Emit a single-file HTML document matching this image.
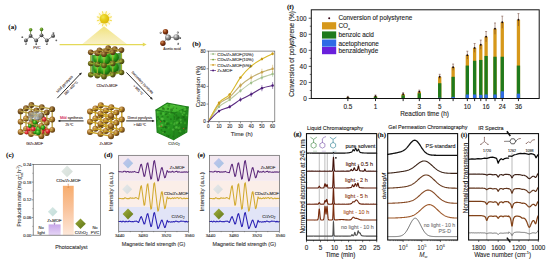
<!DOCTYPE html>
<html><head><meta charset="utf-8"><title>figure</title>
<style>
html,body{margin:0;padding:0;background:#fff;}
body{width:550px;height:264px;overflow:hidden;font-family:"Liberation Sans", sans-serif;}
svg{display:block;font-family:"Liberation Sans", sans-serif;}
</style></head><body>
<svg width="550" height="264" viewBox="0 0 550 264">
<defs>
<radialGradient id="sBrown" cx="0.36" cy="0.32" r="0.75"><stop offset="0" stop-color="#e4bc7c"/><stop offset="0.45" stop-color="#a26e26"/><stop offset="1" stop-color="#54360c"/></radialGradient>
<radialGradient id="sBrownD" cx="0.36" cy="0.32" r="0.75"><stop offset="0" stop-color="#c09858"/><stop offset="0.45" stop-color="#7c5422"/><stop offset="1" stop-color="#46300e"/></radialGradient>
<radialGradient id="sOlive" cx="0.36" cy="0.32" r="0.75"><stop offset="0" stop-color="#a8a040"/><stop offset="0.45" stop-color="#6a6a1c"/><stop offset="1" stop-color="#3a3a0c"/></radialGradient>
<radialGradient id="sGold" cx="0.36" cy="0.32" r="0.75"><stop offset="0" stop-color="#f0d070"/><stop offset="0.45" stop-color="#c89a2a"/><stop offset="1" stop-color="#8a6412"/></radialGradient>
<radialGradient id="sGreen" cx="0.36" cy="0.32" r="0.75"><stop offset="0" stop-color="#86e458"/><stop offset="0.45" stop-color="#30a418"/><stop offset="1" stop-color="#125a08"/></radialGradient>
<radialGradient id="sRed" cx="0.36" cy="0.32" r="0.75"><stop offset="0" stop-color="#ff9090"/><stop offset="0.45" stop-color="#e02a30"/><stop offset="1" stop-color="#8a1014"/></radialGradient>
<radialGradient id="sGray" cx="0.36" cy="0.32" r="0.75"><stop offset="0" stop-color="#f0f0f0"/><stop offset="0.45" stop-color="#8c8c8c"/><stop offset="1" stop-color="#3c3c3c"/></radialGradient>
<radialGradient id="sWhite" cx="0.36" cy="0.32" r="0.75"><stop offset="0" stop-color="#ffffff"/><stop offset="0.45" stop-color="#e4e4e4"/><stop offset="1" stop-color="#9a9a9a"/></radialGradient>
<radialGradient id="sClG" cx="0.36" cy="0.32" r="0.75"><stop offset="0" stop-color="#a8d060"/><stop offset="0.45" stop-color="#5e9424"/><stop offset="1" stop-color="#2e5a10"/></radialGradient>
<radialGradient id="sORed" cx="0.36" cy="0.32" r="0.75"><stop offset="0" stop-color="#d09060"/><stop offset="0.45" stop-color="#8e3c12"/><stop offset="1" stop-color="#4a1a06"/></radialGradient>
<radialGradient id="sSun" cx="0.36" cy="0.32" r="0.75"><stop offset="0" stop-color="#f4e650"/><stop offset="0.45" stop-color="#e6cc18"/><stop offset="1" stop-color="#dcb408"/></radialGradient>
<radialGradient id="sH" cx="0.36" cy="0.32" r="0.75"><stop offset="0" stop-color="#d0d0d0"/><stop offset="0.45" stop-color="#707070"/><stop offset="1" stop-color="#303030"/></radialGradient>
<radialGradient id="sCarb" cx="0.36" cy="0.32" r="0.75"><stop offset="0" stop-color="#c8c8c8"/><stop offset="0.45" stop-color="#5a5a5a"/><stop offset="1" stop-color="#2a2a2a"/></radialGradient>
<linearGradient id="coneG" x1="0" y1="0" x2="0" y2="1"><stop offset="0" stop-color="#f1e27a"/><stop offset="0.5" stop-color="#f5eaa6"/><stop offset="1" stop-color="#f8f0c6"/></linearGradient>
<radialGradient id="sunGlow" cx="0.5" cy="0.5" r="0.5"><stop offset="0" stop-color="#fbe94a" stop-opacity="0.9"/><stop offset="0.55" stop-color="#f8e870" stop-opacity="0.45"/><stop offset="1" stop-color="#fff6b0" stop-opacity="0"/></radialGradient>
<linearGradient id="cubeTop" x1="0" y1="0" x2="1" y2="1"><stop offset="0" stop-color="#58c83c"/><stop offset="1" stop-color="#36a82a"/></linearGradient>
<linearGradient id="cubeL" x1="0" y1="0" x2="1" y2="1"><stop offset="0" stop-color="#36aa2a"/><stop offset="1" stop-color="#1f8a1a"/></linearGradient>
<linearGradient id="cubeR" x1="0" y1="0" x2="1" y2="1"><stop offset="0" stop-color="#2c9c24"/><stop offset="1" stop-color="#187414"/></linearGradient>
<linearGradient id="gpur" x1="0" y1="0" x2="0" y2="1"><stop offset="0" stop-color="#c8a6ea"/><stop offset="1" stop-color="#e6d6f6"/></linearGradient>
<linearGradient id="gora" x1="0" y1="0" x2="0" y2="1"><stop offset="0" stop-color="#f7ac6c"/><stop offset="0.45" stop-color="#f9c29a"/><stop offset="1" stop-color="#fde8da"/></linearGradient>
<linearGradient id="dg20" x1="0" y1="0" x2="1" y2="1"><stop offset="0" stop-color="#e4ebe7"/><stop offset="1" stop-color="#d4ded8"/></linearGradient>
<linearGradient id="dg21" x1="0" y1="0" x2="1" y2="1"><stop offset="0" stop-color="#d8e9e6"/><stop offset="1" stop-color="#c2dcd8"/></linearGradient>
<linearGradient id="dg22" x1="0" y1="0" x2="1" y2="1"><stop offset="0" stop-color="#9aa83a"/><stop offset="1" stop-color="#5c7414"/></linearGradient>
<linearGradient id="dg23" x1="0" y1="0" x2="1" y2="1"><stop offset="0" stop-color="#c2c4ee"/><stop offset="1" stop-color="#a4c4e2"/></linearGradient>
<linearGradient id="dg24" x1="0" y1="0" x2="1" y2="1"><stop offset="0" stop-color="#e6e8ea"/><stop offset="1" stop-color="#d6dcdc"/></linearGradient>
<linearGradient id="dg25" x1="0" y1="0" x2="1" y2="1"><stop offset="0" stop-color="#a4b040"/><stop offset="1" stop-color="#5f7616"/></linearGradient>
<linearGradient id="dg26" x1="0" y1="0" x2="1" y2="1"><stop offset="0" stop-color="#c2c4ee"/><stop offset="1" stop-color="#a4c4e2"/></linearGradient>
<linearGradient id="dg27" x1="0" y1="0" x2="1" y2="1"><stop offset="0" stop-color="#e6e8ea"/><stop offset="1" stop-color="#d6dcdc"/></linearGradient>
<linearGradient id="dg28" x1="0" y1="0" x2="1" y2="1"><stop offset="0" stop-color="#a4b040"/><stop offset="1" stop-color="#5f7616"/></linearGradient>
</defs>
<rect x="0" y="0" width="550" height="264" fill="#ffffff"/>
<path d="M104.0,26.2 L127.4,44.4 L81.8,44.4 Z" fill="url(#coneG)"/>
<line x1="59.60" y1="44.60" x2="143.60" y2="44.60" stroke="#e4d958" stroke-width="1.4" />
<path d="M146.6,44.6 L142.8,42.6 L142.8,46.6 Z" fill="#e4d958"/>
<circle cx="104.4" cy="18.8" r="8.6" fill="url(#sunGlow)"/>
<line x1="109.43" y1="20.14" x2="111.94" y2="20.81" stroke="#f4d83a" stroke-width="0.9" />
<line x1="108.08" y1="22.47" x2="109.93" y2="24.31" stroke="#f4d83a" stroke-width="0.9" />
<line x1="105.75" y1="23.82" x2="106.43" y2="26.33" stroke="#f4d83a" stroke-width="0.9" />
<line x1="103.06" y1="23.83" x2="102.39" y2="26.34" stroke="#f4d83a" stroke-width="0.9" />
<line x1="100.73" y1="22.48" x2="98.89" y2="24.33" stroke="#f4d83a" stroke-width="0.9" />
<line x1="99.38" y1="20.15" x2="96.87" y2="20.83" stroke="#f4d83a" stroke-width="0.9" />
<line x1="99.37" y1="17.46" x2="96.86" y2="16.79" stroke="#f4d83a" stroke-width="0.9" />
<line x1="100.72" y1="15.13" x2="98.87" y2="13.29" stroke="#f4d83a" stroke-width="0.9" />
<line x1="103.05" y1="13.78" x2="102.37" y2="11.27" stroke="#f4d83a" stroke-width="0.9" />
<line x1="105.74" y1="13.77" x2="106.41" y2="11.26" stroke="#f4d83a" stroke-width="0.9" />
<line x1="108.07" y1="15.12" x2="109.91" y2="13.27" stroke="#f4d83a" stroke-width="0.9" />
<line x1="109.42" y1="17.45" x2="111.93" y2="16.77" stroke="#f4d83a" stroke-width="0.9" />
<circle cx="104.40" cy="18.80" r="4.80" fill="url(#sSun)"/>
<line x1="25.90" y1="40.50" x2="30.60" y2="35.90" stroke="#666" stroke-width="0.8" />
<line x1="30.60" y1="35.90" x2="36.20" y2="40.50" stroke="#666" stroke-width="0.8" />
<line x1="36.20" y1="40.50" x2="41.50" y2="35.30" stroke="#666" stroke-width="0.8" />
<line x1="41.50" y1="35.30" x2="46.80" y2="40.50" stroke="#666" stroke-width="0.8" />
<line x1="46.80" y1="40.50" x2="53.10" y2="35.90" stroke="#666" stroke-width="0.8" />
<line x1="30.60" y1="35.90" x2="30.60" y2="30.00" stroke="#667a3a" stroke-width="0.8" />
<line x1="41.50" y1="35.30" x2="41.50" y2="29.60" stroke="#667a3a" stroke-width="0.8" />
<circle cx="22.30" cy="37.20" r="0.90" fill="url(#sH)"/>
<circle cx="25.90" cy="43.80" r="0.90" fill="url(#sH)"/>
<circle cx="36.20" cy="44.00" r="0.90" fill="url(#sH)"/>
<circle cx="46.80" cy="44.00" r="0.90" fill="url(#sH)"/>
<circle cx="53.40" cy="33.00" r="0.90" fill="url(#sH)"/>
<circle cx="56.30" cy="40.30" r="0.90" fill="url(#sH)"/>
<circle cx="25.90" cy="40.50" r="1.90" fill="url(#sCarb)"/>
<circle cx="30.60" cy="35.90" r="1.90" fill="url(#sCarb)"/>
<circle cx="36.20" cy="40.50" r="1.90" fill="url(#sCarb)"/>
<circle cx="41.50" cy="35.30" r="1.90" fill="url(#sCarb)"/>
<circle cx="46.80" cy="40.50" r="1.90" fill="url(#sCarb)"/>
<circle cx="53.10" cy="35.90" r="1.90" fill="url(#sCarb)"/>
<circle cx="30.60" cy="29.80" r="1.80" fill="url(#sClG)"/>
<circle cx="41.50" cy="29.40" r="1.80" fill="url(#sClG)"/>
<text x="36.90" y="48.80" font-size="3.6" text-anchor="middle" fill="#5a4040" stroke="#5a4040" stroke-width="0.12" >PVC</text>
<line x1="165.50" y1="31.70" x2="167.80" y2="37.50" stroke="#666" stroke-width="0.8" />
<line x1="162.90" y1="43.20" x2="167.80" y2="37.50" stroke="#666" stroke-width="0.8" />
<line x1="167.80" y1="37.50" x2="176.10" y2="37.20" stroke="#666" stroke-width="0.8" />
<circle cx="160.60" cy="32.80" r="1.00" fill="url(#sH)"/>
<circle cx="177.80" cy="32.60" r="1.00" fill="url(#sH)"/>
<circle cx="180.10" cy="37.90" r="1.00" fill="url(#sH)"/>
<circle cx="178.10" cy="43.80" r="1.00" fill="url(#sH)"/>
<circle cx="165.50" cy="31.70" r="2.70" fill="url(#sORed)"/>
<circle cx="162.90" cy="43.20" r="2.70" fill="url(#sORed)"/>
<circle cx="168.00" cy="37.60" r="3.00" fill="url(#sGray)"/>
<circle cx="176.40" cy="37.20" r="3.00" fill="url(#sGray)"/>
<text x="172.00" y="49.60" font-size="3.6" text-anchor="middle" fill="#4a3a3a" stroke="#4a3a3a" stroke-width="0.12" >Acetic acid</text>
<path d="M104,76.7 L91.3,74.7 L91.3,54.4 L104,56.6 L120.9,52.6 L120.9,72.5 Z" fill="#1f7a14" opacity="0.8"/>
<line x1="108.20" y1="70.50" x2="108.20" y2="59.30" stroke="#9ab432" stroke-width="1.2" />
<line x1="108.20" y1="59.30" x2="108.20" y2="48.10" stroke="#9ab432" stroke-width="1.2" />
<circle cx="108.20" cy="48.10" r="2.80" fill="url(#sBrownD)"/>
<circle cx="108.20" cy="59.30" r="2.80" fill="url(#sOlive)"/>
<circle cx="108.20" cy="70.50" r="2.80" fill="url(#sOlive)"/>
<line x1="99.45" y1="72.60" x2="108.20" y2="70.50" stroke="#9ab432" stroke-width="1.2" />
<line x1="99.45" y1="61.40" x2="108.20" y2="59.30" stroke="#9ab432" stroke-width="1.2" />
<line x1="99.45" y1="50.20" x2="108.20" y2="48.10" stroke="#a88a30" stroke-width="1.2" />
<line x1="114.85" y1="71.50" x2="108.20" y2="70.50" stroke="#9ab432" stroke-width="1.2" />
<line x1="114.85" y1="60.30" x2="108.20" y2="59.30" stroke="#9ab432" stroke-width="1.2" />
<line x1="114.85" y1="49.10" x2="108.20" y2="48.10" stroke="#a88a30" stroke-width="1.2" />
<circle cx="107.15" cy="66.45" r="4.80" fill="url(#sGreen)"/>
<circle cx="107.15" cy="56.37" r="4.80" fill="url(#sGreen)"/>
<line x1="99.45" y1="72.60" x2="99.45" y2="61.40" stroke="#9ab432" stroke-width="1.2" />
<line x1="99.45" y1="61.40" x2="99.45" y2="50.20" stroke="#9ab432" stroke-width="1.2" />
<line x1="114.85" y1="71.50" x2="114.85" y2="60.30" stroke="#9ab432" stroke-width="1.2" />
<line x1="114.85" y1="60.30" x2="114.85" y2="49.10" stroke="#9ab432" stroke-width="1.2" />
<circle cx="99.45" cy="50.20" r="2.80" fill="url(#sBrownD)"/>
<circle cx="114.85" cy="49.10" r="2.80" fill="url(#sBrownD)"/>
<circle cx="99.45" cy="61.40" r="2.80" fill="url(#sOlive)"/>
<circle cx="114.85" cy="60.30" r="2.80" fill="url(#sOlive)"/>
<circle cx="99.45" cy="72.60" r="2.80" fill="url(#sOlive)"/>
<circle cx="114.85" cy="71.50" r="2.80" fill="url(#sOlive)"/>
<line x1="90.70" y1="74.70" x2="99.45" y2="72.60" stroke="#9ab432" stroke-width="1.2" />
<line x1="90.70" y1="63.50" x2="99.45" y2="61.40" stroke="#9ab432" stroke-width="1.2" />
<line x1="90.70" y1="52.30" x2="99.45" y2="50.20" stroke="#a88a30" stroke-width="1.2" />
<line x1="106.10" y1="73.60" x2="114.85" y2="71.50" stroke="#9ab432" stroke-width="1.2" />
<line x1="106.10" y1="73.60" x2="99.45" y2="72.60" stroke="#9ab432" stroke-width="1.2" />
<line x1="106.10" y1="62.40" x2="114.85" y2="60.30" stroke="#9ab432" stroke-width="1.2" />
<line x1="106.10" y1="62.40" x2="99.45" y2="61.40" stroke="#9ab432" stroke-width="1.2" />
<line x1="106.10" y1="51.20" x2="114.85" y2="49.10" stroke="#a88a30" stroke-width="1.2" />
<line x1="106.10" y1="51.20" x2="99.45" y2="50.20" stroke="#a88a30" stroke-width="1.2" />
<line x1="121.50" y1="72.50" x2="114.85" y2="71.50" stroke="#9ab432" stroke-width="1.2" />
<line x1="121.50" y1="61.30" x2="114.85" y2="60.30" stroke="#9ab432" stroke-width="1.2" />
<line x1="121.50" y1="50.10" x2="114.85" y2="49.10" stroke="#a88a30" stroke-width="1.2" />
<circle cx="113.80" cy="67.45" r="5.00" fill="url(#sGreen)"/>
<circle cx="98.40" cy="68.55" r="5.20" fill="url(#sGreen)"/>
<circle cx="113.80" cy="57.37" r="5.00" fill="url(#sGreen)"/>
<circle cx="98.40" cy="58.47" r="5.20" fill="url(#sGreen)"/>
<line x1="90.70" y1="74.70" x2="90.70" y2="63.50" stroke="#9ab432" stroke-width="1.2" />
<line x1="90.70" y1="63.50" x2="90.70" y2="52.30" stroke="#9ab432" stroke-width="1.2" />
<line x1="106.10" y1="73.60" x2="106.10" y2="62.40" stroke="#9ab432" stroke-width="1.2" />
<line x1="106.10" y1="62.40" x2="106.10" y2="51.20" stroke="#9ab432" stroke-width="1.2" />
<line x1="121.50" y1="72.50" x2="121.50" y2="61.30" stroke="#9ab432" stroke-width="1.2" />
<line x1="121.50" y1="61.30" x2="121.50" y2="50.10" stroke="#9ab432" stroke-width="1.2" />
<circle cx="90.70" cy="52.30" r="2.80" fill="url(#sBrownD)"/>
<circle cx="106.10" cy="51.20" r="2.80" fill="url(#sBrownD)"/>
<circle cx="121.50" cy="50.10" r="2.80" fill="url(#sBrownD)"/>
<circle cx="90.70" cy="63.50" r="2.80" fill="url(#sOlive)"/>
<circle cx="106.10" cy="62.40" r="2.80" fill="url(#sOlive)"/>
<circle cx="121.50" cy="61.30" r="2.80" fill="url(#sOlive)"/>
<circle cx="90.70" cy="74.70" r="2.80" fill="url(#sOlive)"/>
<circle cx="106.10" cy="73.60" r="2.80" fill="url(#sOlive)"/>
<circle cx="121.50" cy="72.50" r="2.80" fill="url(#sOlive)"/>
<line x1="97.35" y1="75.70" x2="106.10" y2="73.60" stroke="#9ab432" stroke-width="1.2" />
<line x1="97.35" y1="75.70" x2="90.70" y2="74.70" stroke="#9ab432" stroke-width="1.2" />
<line x1="97.35" y1="64.50" x2="106.10" y2="62.40" stroke="#9ab432" stroke-width="1.2" />
<line x1="97.35" y1="64.50" x2="90.70" y2="63.50" stroke="#9ab432" stroke-width="1.2" />
<line x1="97.35" y1="53.30" x2="106.10" y2="51.20" stroke="#a88a30" stroke-width="1.2" />
<line x1="97.35" y1="53.30" x2="90.70" y2="52.30" stroke="#a88a30" stroke-width="1.2" />
<line x1="112.75" y1="74.60" x2="121.50" y2="72.50" stroke="#9ab432" stroke-width="1.2" />
<line x1="112.75" y1="74.60" x2="106.10" y2="73.60" stroke="#9ab432" stroke-width="1.2" />
<line x1="112.75" y1="63.40" x2="121.50" y2="61.30" stroke="#9ab432" stroke-width="1.2" />
<line x1="112.75" y1="63.40" x2="106.10" y2="62.40" stroke="#9ab432" stroke-width="1.2" />
<line x1="112.75" y1="52.20" x2="121.50" y2="50.10" stroke="#a88a30" stroke-width="1.2" />
<line x1="112.75" y1="52.20" x2="106.10" y2="51.20" stroke="#a88a30" stroke-width="1.2" />
<circle cx="105.05" cy="69.55" r="5.40" fill="url(#sGreen)"/>
<circle cx="105.05" cy="59.47" r="5.40" fill="url(#sGreen)"/>
<line x1="97.35" y1="75.70" x2="97.35" y2="64.50" stroke="#9ab432" stroke-width="1.2" />
<line x1="97.35" y1="64.50" x2="97.35" y2="53.30" stroke="#9ab432" stroke-width="1.2" />
<line x1="112.75" y1="74.60" x2="112.75" y2="63.40" stroke="#9ab432" stroke-width="1.2" />
<line x1="112.75" y1="63.40" x2="112.75" y2="52.20" stroke="#9ab432" stroke-width="1.2" />
<circle cx="97.35" cy="53.30" r="2.80" fill="url(#sBrownD)"/>
<circle cx="112.75" cy="52.20" r="2.80" fill="url(#sBrownD)"/>
<circle cx="97.35" cy="64.50" r="2.80" fill="url(#sOlive)"/>
<circle cx="112.75" cy="63.40" r="2.80" fill="url(#sOlive)"/>
<circle cx="97.35" cy="75.70" r="2.80" fill="url(#sOlive)"/>
<circle cx="112.75" cy="74.60" r="2.80" fill="url(#sOlive)"/>
<line x1="104.00" y1="76.70" x2="112.75" y2="74.60" stroke="#9ab432" stroke-width="1.2" />
<line x1="104.00" y1="76.70" x2="97.35" y2="75.70" stroke="#9ab432" stroke-width="1.2" />
<line x1="104.00" y1="65.50" x2="112.75" y2="63.40" stroke="#9ab432" stroke-width="1.2" />
<line x1="104.00" y1="65.50" x2="97.35" y2="64.50" stroke="#9ab432" stroke-width="1.2" />
<line x1="104.00" y1="54.30" x2="112.75" y2="52.20" stroke="#a88a30" stroke-width="1.2" />
<line x1="104.00" y1="54.30" x2="97.35" y2="53.30" stroke="#a88a30" stroke-width="1.2" />
<line x1="104.00" y1="76.70" x2="104.00" y2="65.50" stroke="#9ab432" stroke-width="1.2" />
<line x1="104.00" y1="65.50" x2="104.00" y2="54.30" stroke="#9ab432" stroke-width="1.2" />
<circle cx="104.00" cy="54.30" r="2.80" fill="url(#sBrownD)"/>
<circle cx="104.00" cy="65.50" r="2.80" fill="url(#sOlive)"/>
<circle cx="104.00" cy="76.70" r="2.80" fill="url(#sOlive)"/>
<text x="107.00" y="86.80" font-size="3.7" text-anchor="middle" fill="#4a3030" stroke="#4a3030" stroke-width="0.12" >CDs/Zr-MOF</text>
<line x1="31.40" y1="125.60" x2="31.40" y2="115.30" stroke="#b8a040" stroke-width="1.3" />
<line x1="31.40" y1="115.30" x2="31.40" y2="105.00" stroke="#b8a040" stroke-width="1.3" />
<circle cx="31.40" cy="105.00" r="2.90" fill="url(#sBrownD)"/>
<circle cx="31.40" cy="115.30" r="2.90" fill="url(#sBrown)"/>
<circle cx="31.40" cy="125.60" r="2.90" fill="url(#sBrown)"/>
<line x1="26.00" y1="128.80" x2="31.40" y2="125.60" stroke="#b8a040" stroke-width="1.3" />
<line x1="26.00" y1="118.50" x2="31.40" y2="115.30" stroke="#b8a040" stroke-width="1.3" />
<line x1="26.00" y1="108.20" x2="31.40" y2="105.00" stroke="#b8a040" stroke-width="1.3" />
<line x1="41.80" y1="127.70" x2="31.40" y2="125.60" stroke="#b8a040" stroke-width="1.3" />
<line x1="41.80" y1="117.40" x2="31.40" y2="115.30" stroke="#b8a040" stroke-width="1.3" />
<line x1="41.80" y1="107.10" x2="31.40" y2="105.00" stroke="#b8a040" stroke-width="1.3" />
<line x1="26.00" y1="128.80" x2="26.00" y2="118.50" stroke="#b8a040" stroke-width="1.3" />
<line x1="26.00" y1="118.50" x2="26.00" y2="108.20" stroke="#b8a040" stroke-width="1.3" />
<line x1="41.80" y1="127.70" x2="41.80" y2="117.40" stroke="#b8a040" stroke-width="1.3" />
<line x1="41.80" y1="117.40" x2="41.80" y2="107.10" stroke="#b8a040" stroke-width="1.3" />
<circle cx="26.00" cy="108.20" r="2.90" fill="url(#sBrownD)"/>
<circle cx="41.80" cy="107.10" r="2.90" fill="url(#sBrownD)"/>
<circle cx="26.00" cy="118.50" r="2.90" fill="url(#sBrown)"/>
<circle cx="41.80" cy="117.40" r="2.90" fill="url(#sBrown)"/>
<circle cx="26.00" cy="128.80" r="2.90" fill="url(#sBrown)"/>
<circle cx="41.80" cy="127.70" r="2.90" fill="url(#sBrown)"/>
<circle cx="40.68" cy="125.58" r="2.20" fill="url(#sRed)"/>
<line x1="20.60" y1="132.00" x2="26.00" y2="128.80" stroke="#b8a040" stroke-width="1.3" />
<line x1="20.60" y1="121.70" x2="26.00" y2="118.50" stroke="#b8a040" stroke-width="1.3" />
<line x1="20.60" y1="111.40" x2="26.00" y2="108.20" stroke="#b8a040" stroke-width="1.3" />
<line x1="36.40" y1="130.90" x2="41.80" y2="127.70" stroke="#b8a040" stroke-width="1.3" />
<line x1="36.40" y1="130.90" x2="26.00" y2="128.80" stroke="#b8a040" stroke-width="1.3" />
<line x1="36.40" y1="120.60" x2="41.80" y2="117.40" stroke="#b8a040" stroke-width="1.3" />
<line x1="36.40" y1="120.60" x2="26.00" y2="118.50" stroke="#b8a040" stroke-width="1.3" />
<line x1="36.40" y1="110.30" x2="41.80" y2="107.10" stroke="#b8a040" stroke-width="1.3" />
<line x1="36.40" y1="110.30" x2="26.00" y2="108.20" stroke="#b8a040" stroke-width="1.3" />
<line x1="52.20" y1="129.80" x2="41.80" y2="127.70" stroke="#b8a040" stroke-width="1.3" />
<line x1="52.20" y1="119.50" x2="41.80" y2="117.40" stroke="#b8a040" stroke-width="1.3" />
<line x1="52.20" y1="109.20" x2="41.80" y2="107.10" stroke="#b8a040" stroke-width="1.3" />
<circle cx="35.40" cy="124.69" r="2.80" fill="url(#sGreen)"/>
<circle cx="32.24" cy="120.79" r="2.00" fill="url(#sGreen)"/>
<line x1="20.60" y1="132.00" x2="20.60" y2="121.70" stroke="#b8a040" stroke-width="1.3" />
<line x1="20.60" y1="121.70" x2="20.60" y2="111.40" stroke="#b8a040" stroke-width="1.3" />
<line x1="36.40" y1="130.90" x2="36.40" y2="120.60" stroke="#b8a040" stroke-width="1.3" />
<line x1="36.40" y1="120.60" x2="36.40" y2="110.30" stroke="#b8a040" stroke-width="1.3" />
<line x1="52.20" y1="129.80" x2="52.20" y2="119.50" stroke="#b8a040" stroke-width="1.3" />
<line x1="52.20" y1="119.50" x2="52.20" y2="109.20" stroke="#b8a040" stroke-width="1.3" />
<circle cx="20.60" cy="111.40" r="2.90" fill="url(#sBrownD)"/>
<circle cx="36.40" cy="110.30" r="2.90" fill="url(#sBrownD)"/>
<circle cx="52.20" cy="109.20" r="2.90" fill="url(#sBrownD)"/>
<circle cx="20.60" cy="121.70" r="2.90" fill="url(#sBrown)"/>
<circle cx="36.40" cy="120.60" r="2.90" fill="url(#sBrown)"/>
<circle cx="52.20" cy="119.50" r="2.90" fill="url(#sBrown)"/>
<circle cx="20.60" cy="132.00" r="2.90" fill="url(#sBrown)"/>
<circle cx="36.40" cy="130.90" r="2.90" fill="url(#sBrown)"/>
<circle cx="52.20" cy="129.80" r="2.90" fill="url(#sBrown)"/>
<circle cx="42.18" cy="119.45" r="2.00" fill="url(#sGray)"/>
<circle cx="30.58" cy="119.51" r="2.20" fill="url(#sGray)"/>
<circle cx="44.80" cy="128.82" r="2.60" fill="url(#sRed)"/>
<circle cx="29.00" cy="128.89" r="2.60" fill="url(#sRed)"/>
<circle cx="37.40" cy="118.57" r="2.40" fill="url(#sGray)"/>
<line x1="31.00" y1="134.10" x2="36.40" y2="130.90" stroke="#b8a040" stroke-width="1.3" />
<line x1="31.00" y1="134.10" x2="20.60" y2="132.00" stroke="#b8a040" stroke-width="1.3" />
<line x1="31.00" y1="123.80" x2="36.40" y2="120.60" stroke="#b8a040" stroke-width="1.3" />
<line x1="31.00" y1="123.80" x2="20.60" y2="121.70" stroke="#b8a040" stroke-width="1.3" />
<line x1="31.00" y1="113.50" x2="36.40" y2="110.30" stroke="#b8a040" stroke-width="1.3" />
<line x1="31.00" y1="113.50" x2="20.60" y2="111.40" stroke="#b8a040" stroke-width="1.3" />
<line x1="46.80" y1="133.00" x2="52.20" y2="129.80" stroke="#b8a040" stroke-width="1.3" />
<line x1="46.80" y1="133.00" x2="36.40" y2="130.90" stroke="#b8a040" stroke-width="1.3" />
<line x1="46.80" y1="122.70" x2="52.20" y2="119.50" stroke="#b8a040" stroke-width="1.3" />
<line x1="46.80" y1="122.70" x2="36.40" y2="120.60" stroke="#b8a040" stroke-width="1.3" />
<line x1="46.80" y1="112.40" x2="52.20" y2="109.20" stroke="#b8a040" stroke-width="1.3" />
<line x1="46.80" y1="112.40" x2="36.40" y2="110.30" stroke="#b8a040" stroke-width="1.3" />
<circle cx="34.70" cy="132.01" r="2.40" fill="url(#sGreen)"/>
<circle cx="38.90" cy="129.43" r="3.00" fill="url(#sGreen)"/>
<circle cx="42.06" cy="132.30" r="2.20" fill="url(#sRed)"/>
<line x1="31.00" y1="134.10" x2="31.00" y2="123.80" stroke="#b8a040" stroke-width="1.3" />
<line x1="31.00" y1="123.80" x2="31.00" y2="113.50" stroke="#b8a040" stroke-width="1.3" />
<line x1="46.80" y1="133.00" x2="46.80" y2="122.70" stroke="#b8a040" stroke-width="1.3" />
<line x1="46.80" y1="122.70" x2="46.80" y2="112.40" stroke="#b8a040" stroke-width="1.3" />
<circle cx="31.00" cy="113.50" r="2.90" fill="url(#sBrownD)"/>
<circle cx="46.80" cy="112.40" r="2.90" fill="url(#sBrownD)"/>
<circle cx="31.00" cy="123.80" r="2.90" fill="url(#sBrown)"/>
<circle cx="46.80" cy="122.70" r="2.90" fill="url(#sBrown)"/>
<circle cx="31.00" cy="134.10" r="2.90" fill="url(#sBrown)"/>
<circle cx="46.80" cy="133.00" r="2.90" fill="url(#sBrown)"/>
<line x1="41.40" y1="136.20" x2="46.80" y2="133.00" stroke="#b8a040" stroke-width="1.3" />
<line x1="41.40" y1="136.20" x2="31.00" y2="134.10" stroke="#b8a040" stroke-width="1.3" />
<line x1="41.40" y1="125.90" x2="46.80" y2="122.70" stroke="#b8a040" stroke-width="1.3" />
<line x1="41.40" y1="125.90" x2="31.00" y2="123.80" stroke="#b8a040" stroke-width="1.3" />
<line x1="41.40" y1="115.60" x2="46.80" y2="112.40" stroke="#b8a040" stroke-width="1.3" />
<line x1="41.40" y1="115.60" x2="31.00" y2="113.50" stroke="#b8a040" stroke-width="1.3" />
<line x1="41.40" y1="136.20" x2="41.40" y2="125.90" stroke="#b8a040" stroke-width="1.3" />
<line x1="41.40" y1="125.90" x2="41.40" y2="115.60" stroke="#b8a040" stroke-width="1.3" />
<circle cx="41.40" cy="115.60" r="2.90" fill="url(#sBrownD)"/>
<circle cx="41.40" cy="125.90" r="2.90" fill="url(#sBrown)"/>
<circle cx="41.40" cy="136.20" r="2.90" fill="url(#sBrown)"/>
<circle cx="44.20" cy="119.40" r="2.30" fill="url(#sRed)"/>
<circle cx="33.20" cy="129.20" r="2.40" fill="url(#sRed)"/>
<circle cx="47.80" cy="131.40" r="2.30" fill="url(#sRed)"/>
<circle cx="26.60" cy="132.60" r="2.00" fill="url(#sRed)"/>
<circle cx="38.20" cy="132.60" r="2.60" fill="url(#sGreen)"/>
<circle cx="35.00" cy="122.40" r="2.20" fill="url(#sGreen)"/>
<circle cx="43.00" cy="127.60" r="2.30" fill="url(#sGreen)"/>
<circle cx="29.80" cy="126.00" r="1.90" fill="url(#sGreen)"/>
<ellipse cx="35.5" cy="115.4" rx="7.5" ry="4.2" fill="#c8d0d4" opacity="0.42"/>
<line x1="29.50" y1="112.20" x2="28.50" y2="118.80" stroke="#8a9498" stroke-width="0.4" />
<line x1="32.50" y1="112.20" x2="31.50" y2="118.80" stroke="#8a9498" stroke-width="0.4" />
<line x1="35.50" y1="112.20" x2="34.50" y2="118.80" stroke="#8a9498" stroke-width="0.4" />
<line x1="38.50" y1="112.20" x2="37.50" y2="118.80" stroke="#8a9498" stroke-width="0.4" />
<line x1="41.50" y1="112.20" x2="40.50" y2="118.80" stroke="#8a9498" stroke-width="0.4" />
<line x1="28.60" y1="113.40" x2="42.60" y2="113.00" stroke="#8a9498" stroke-width="0.4" />
<line x1="28.60" y1="115.60" x2="42.60" y2="115.20" stroke="#8a9498" stroke-width="0.4" />
<line x1="28.60" y1="117.80" x2="42.60" y2="117.40" stroke="#8a9498" stroke-width="0.4" />
<text x="34.60" y="145.20" font-size="3.7" text-anchor="middle" fill="#4a3030" stroke="#4a3030" stroke-width="0.12" >G/Zr-MOF</text>
<line x1="100.80" y1="125.60" x2="100.80" y2="115.40" stroke="#c9a226" stroke-width="1.4" />
<line x1="100.80" y1="115.40" x2="100.80" y2="105.20" stroke="#c9a226" stroke-width="1.4" />
<circle cx="100.80" cy="105.20" r="3.00" fill="url(#sBrown)"/>
<circle cx="100.80" cy="115.40" r="3.00" fill="url(#sBrown)"/>
<circle cx="100.80" cy="125.60" r="3.00" fill="url(#sBrown)"/>
<line x1="95.40" y1="128.80" x2="100.80" y2="125.60" stroke="#c9a226" stroke-width="1.4" />
<line x1="95.40" y1="118.60" x2="100.80" y2="115.40" stroke="#c9a226" stroke-width="1.4" />
<line x1="95.40" y1="108.40" x2="100.80" y2="105.20" stroke="#c9a226" stroke-width="1.4" />
<line x1="111.30" y1="127.70" x2="100.80" y2="125.60" stroke="#c9a226" stroke-width="1.4" />
<line x1="111.30" y1="117.50" x2="100.80" y2="115.40" stroke="#c9a226" stroke-width="1.4" />
<line x1="111.30" y1="107.30" x2="100.80" y2="105.20" stroke="#c9a226" stroke-width="1.4" />
<line x1="95.40" y1="128.80" x2="95.40" y2="118.60" stroke="#c9a226" stroke-width="1.4" />
<line x1="95.40" y1="118.60" x2="95.40" y2="108.40" stroke="#c9a226" stroke-width="1.4" />
<line x1="111.30" y1="127.70" x2="111.30" y2="117.50" stroke="#c9a226" stroke-width="1.4" />
<line x1="111.30" y1="117.50" x2="111.30" y2="107.30" stroke="#c9a226" stroke-width="1.4" />
<circle cx="95.40" cy="108.40" r="3.00" fill="url(#sBrown)"/>
<circle cx="111.30" cy="107.30" r="3.00" fill="url(#sBrown)"/>
<circle cx="95.40" cy="118.60" r="3.00" fill="url(#sBrown)"/>
<circle cx="111.30" cy="117.50" r="3.00" fill="url(#sBrown)"/>
<circle cx="95.40" cy="128.80" r="3.00" fill="url(#sBrown)"/>
<circle cx="111.30" cy="127.70" r="3.00" fill="url(#sBrown)"/>
<line x1="90.00" y1="132.00" x2="95.40" y2="128.80" stroke="#c9a226" stroke-width="1.4" />
<line x1="90.00" y1="121.80" x2="95.40" y2="118.60" stroke="#c9a226" stroke-width="1.4" />
<line x1="90.00" y1="111.60" x2="95.40" y2="108.40" stroke="#c9a226" stroke-width="1.4" />
<line x1="105.90" y1="130.90" x2="111.30" y2="127.70" stroke="#c9a226" stroke-width="1.4" />
<line x1="105.90" y1="130.90" x2="95.40" y2="128.80" stroke="#c9a226" stroke-width="1.4" />
<line x1="105.90" y1="120.70" x2="111.30" y2="117.50" stroke="#c9a226" stroke-width="1.4" />
<line x1="105.90" y1="120.70" x2="95.40" y2="118.60" stroke="#c9a226" stroke-width="1.4" />
<line x1="105.90" y1="110.50" x2="111.30" y2="107.30" stroke="#c9a226" stroke-width="1.4" />
<line x1="105.90" y1="110.50" x2="95.40" y2="108.40" stroke="#c9a226" stroke-width="1.4" />
<line x1="121.80" y1="129.80" x2="111.30" y2="127.70" stroke="#c9a226" stroke-width="1.4" />
<line x1="121.80" y1="119.60" x2="111.30" y2="117.50" stroke="#c9a226" stroke-width="1.4" />
<line x1="121.80" y1="109.40" x2="111.30" y2="107.30" stroke="#c9a226" stroke-width="1.4" />
<line x1="90.00" y1="132.00" x2="90.00" y2="121.80" stroke="#c9a226" stroke-width="1.4" />
<line x1="90.00" y1="121.80" x2="90.00" y2="111.60" stroke="#c9a226" stroke-width="1.4" />
<line x1="105.90" y1="130.90" x2="105.90" y2="120.70" stroke="#c9a226" stroke-width="1.4" />
<line x1="105.90" y1="120.70" x2="105.90" y2="110.50" stroke="#c9a226" stroke-width="1.4" />
<line x1="121.80" y1="129.80" x2="121.80" y2="119.60" stroke="#c9a226" stroke-width="1.4" />
<line x1="121.80" y1="119.60" x2="121.80" y2="109.40" stroke="#c9a226" stroke-width="1.4" />
<circle cx="90.00" cy="111.60" r="3.00" fill="url(#sBrown)"/>
<circle cx="105.90" cy="110.50" r="3.00" fill="url(#sBrown)"/>
<circle cx="121.80" cy="109.40" r="3.00" fill="url(#sBrown)"/>
<circle cx="90.00" cy="121.80" r="3.00" fill="url(#sBrown)"/>
<circle cx="105.90" cy="120.70" r="3.00" fill="url(#sBrown)"/>
<circle cx="121.80" cy="119.60" r="3.00" fill="url(#sBrown)"/>
<circle cx="90.00" cy="132.00" r="3.00" fill="url(#sBrown)"/>
<circle cx="105.90" cy="130.90" r="3.00" fill="url(#sBrown)"/>
<circle cx="121.80" cy="129.80" r="3.00" fill="url(#sBrown)"/>
<line x1="100.50" y1="134.10" x2="105.90" y2="130.90" stroke="#c9a226" stroke-width="1.4" />
<line x1="100.50" y1="134.10" x2="90.00" y2="132.00" stroke="#c9a226" stroke-width="1.4" />
<line x1="100.50" y1="123.90" x2="105.90" y2="120.70" stroke="#c9a226" stroke-width="1.4" />
<line x1="100.50" y1="123.90" x2="90.00" y2="121.80" stroke="#c9a226" stroke-width="1.4" />
<line x1="100.50" y1="113.70" x2="105.90" y2="110.50" stroke="#c9a226" stroke-width="1.4" />
<line x1="100.50" y1="113.70" x2="90.00" y2="111.60" stroke="#c9a226" stroke-width="1.4" />
<line x1="116.40" y1="133.00" x2="121.80" y2="129.80" stroke="#c9a226" stroke-width="1.4" />
<line x1="116.40" y1="133.00" x2="105.90" y2="130.90" stroke="#c9a226" stroke-width="1.4" />
<line x1="116.40" y1="122.80" x2="121.80" y2="119.60" stroke="#c9a226" stroke-width="1.4" />
<line x1="116.40" y1="122.80" x2="105.90" y2="120.70" stroke="#c9a226" stroke-width="1.4" />
<line x1="116.40" y1="112.60" x2="121.80" y2="109.40" stroke="#c9a226" stroke-width="1.4" />
<line x1="116.40" y1="112.60" x2="105.90" y2="110.50" stroke="#c9a226" stroke-width="1.4" />
<line x1="100.50" y1="134.10" x2="100.50" y2="123.90" stroke="#c9a226" stroke-width="1.4" />
<line x1="100.50" y1="123.90" x2="100.50" y2="113.70" stroke="#c9a226" stroke-width="1.4" />
<line x1="116.40" y1="133.00" x2="116.40" y2="122.80" stroke="#c9a226" stroke-width="1.4" />
<line x1="116.40" y1="122.80" x2="116.40" y2="112.60" stroke="#c9a226" stroke-width="1.4" />
<circle cx="100.50" cy="113.70" r="3.00" fill="url(#sBrown)"/>
<circle cx="116.40" cy="112.60" r="3.00" fill="url(#sBrown)"/>
<circle cx="100.50" cy="123.90" r="3.00" fill="url(#sBrown)"/>
<circle cx="116.40" cy="122.80" r="3.00" fill="url(#sBrown)"/>
<circle cx="100.50" cy="134.10" r="3.00" fill="url(#sBrown)"/>
<circle cx="116.40" cy="133.00" r="3.00" fill="url(#sBrown)"/>
<line x1="111.00" y1="136.20" x2="116.40" y2="133.00" stroke="#c9a226" stroke-width="1.4" />
<line x1="111.00" y1="136.20" x2="100.50" y2="134.10" stroke="#c9a226" stroke-width="1.4" />
<line x1="111.00" y1="126.00" x2="116.40" y2="122.80" stroke="#c9a226" stroke-width="1.4" />
<line x1="111.00" y1="126.00" x2="100.50" y2="123.90" stroke="#c9a226" stroke-width="1.4" />
<line x1="111.00" y1="115.80" x2="116.40" y2="112.60" stroke="#c9a226" stroke-width="1.4" />
<line x1="111.00" y1="115.80" x2="100.50" y2="113.70" stroke="#c9a226" stroke-width="1.4" />
<line x1="111.00" y1="136.20" x2="111.00" y2="126.00" stroke="#c9a226" stroke-width="1.4" />
<line x1="111.00" y1="126.00" x2="111.00" y2="115.80" stroke="#c9a226" stroke-width="1.4" />
<circle cx="111.00" cy="115.80" r="3.00" fill="url(#sBrown)"/>
<circle cx="111.00" cy="126.00" r="3.00" fill="url(#sBrown)"/>
<circle cx="111.00" cy="136.20" r="3.00" fill="url(#sBrown)"/>
<text x="106.00" y="145.20" font-size="3.7" text-anchor="middle" fill="#4a3030" stroke="#4a3030" stroke-width="0.12" >Zr-MOF</text>
<path d="M156.00,110.00 L174.60,113.00 L173.80,139.60 L157.20,132.20 Z" fill="url(#cubeL)" stroke="#1f7f1a" stroke-width="1.2" stroke-linejoin="round"/>
<path d="M174.60,113.00 L188.20,107.00 L186.80,132.00 L173.80,139.60 Z" fill="url(#cubeR)" stroke="#1f7f1a" stroke-width="1.2" stroke-linejoin="round"/>
<path d="M167.00,103.20 L188.20,107.00 L174.60,113.00 L156.00,110.00 Z" fill="url(#cubeTop)" stroke="#1f7f1a" stroke-width="1.2" stroke-linejoin="round"/>
<circle cx="164.80" cy="111.26" r="0.60" fill="#7ad858" opacity="0.45"/>
<circle cx="179.70" cy="123.18" r="0.92" fill="#1a6a12" opacity="0.45"/>
<circle cx="162.36" cy="127.05" r="0.92" fill="#1a6a12" opacity="0.45"/>
<circle cx="170.37" cy="113.29" r="1.26" fill="#62d244" opacity="0.45"/>
<circle cx="161.11" cy="118.64" r="0.66" fill="#4abc2e" opacity="0.45"/>
<circle cx="186.63" cy="115.45" r="0.88" fill="#62d244" opacity="0.45"/>
<circle cx="167.49" cy="115.73" r="1.31" fill="#4abc2e" opacity="0.45"/>
<circle cx="179.35" cy="122.84" r="0.58" fill="#0e4c0a" opacity="0.45"/>
<circle cx="165.38" cy="126.26" r="1.08" fill="#4abc2e" opacity="0.45"/>
<circle cx="163.29" cy="113.71" r="1.36" fill="#62d244" opacity="0.45"/>
<circle cx="183.73" cy="117.06" r="1.14" fill="#0e4c0a" opacity="0.45"/>
<circle cx="167.67" cy="116.70" r="1.17" fill="#145c0e" opacity="0.45"/>
<circle cx="178.46" cy="128.29" r="1.11" fill="#62d244" opacity="0.45"/>
<circle cx="161.48" cy="129.98" r="0.96" fill="#145c0e" opacity="0.45"/>
<circle cx="178.02" cy="111.13" r="1.34" fill="#4abc2e" opacity="0.45"/>
<circle cx="180.83" cy="111.47" r="1.31" fill="#62d244" opacity="0.45"/>
<circle cx="168.84" cy="105.45" r="1.38" fill="#1a6a12" opacity="0.45"/>
<circle cx="166.07" cy="127.25" r="1.38" fill="#0e4c0a" opacity="0.45"/>
<circle cx="176.57" cy="108.29" r="0.75" fill="#145c0e" opacity="0.45"/>
<circle cx="173.96" cy="112.72" r="0.93" fill="#1a6a12" opacity="0.45"/>
<circle cx="174.67" cy="116.39" r="1.01" fill="#145c0e" opacity="0.45"/>
<circle cx="159.51" cy="126.22" r="0.92" fill="#7ad858" opacity="0.45"/>
<circle cx="158.03" cy="117.12" r="1.03" fill="#0e4c0a" opacity="0.45"/>
<circle cx="177.81" cy="122.87" r="1.27" fill="#4abc2e" opacity="0.45"/>
<circle cx="166.89" cy="113.86" r="0.95" fill="#145c0e" opacity="0.45"/>
<circle cx="164.43" cy="121.52" r="1.01" fill="#145c0e" opacity="0.45"/>
<circle cx="159.41" cy="126.14" r="1.01" fill="#7ad858" opacity="0.45"/>
<circle cx="162.37" cy="116.83" r="1.04" fill="#145c0e" opacity="0.45"/>
<circle cx="180.92" cy="122.62" r="1.10" fill="#62d244" opacity="0.45"/>
<circle cx="171.64" cy="107.14" r="1.38" fill="#4abc2e" opacity="0.45"/>
<circle cx="182.61" cy="114.38" r="0.74" fill="#62d244" opacity="0.45"/>
<circle cx="174.16" cy="105.91" r="0.99" fill="#7ad858" opacity="0.45"/>
<circle cx="158.21" cy="131.14" r="0.63" fill="#145c0e" opacity="0.45"/>
<circle cx="171.21" cy="123.34" r="1.03" fill="#4abc2e" opacity="0.45"/>
<circle cx="185.73" cy="130.94" r="0.70" fill="#7ad858" opacity="0.45"/>
<circle cx="176.80" cy="119.21" r="0.95" fill="#1a6a12" opacity="0.45"/>
<circle cx="166.57" cy="122.02" r="1.17" fill="#4abc2e" opacity="0.45"/>
<circle cx="162.86" cy="107.90" r="1.08" fill="#1a6a12" opacity="0.45"/>
<circle cx="163.78" cy="120.50" r="0.69" fill="#0e4c0a" opacity="0.45"/>
<circle cx="159.10" cy="118.95" r="0.91" fill="#0e4c0a" opacity="0.45"/>
<circle cx="176.91" cy="126.91" r="0.90" fill="#62d244" opacity="0.45"/>
<circle cx="166.86" cy="134.88" r="0.69" fill="#145c0e" opacity="0.45"/>
<circle cx="173.16" cy="108.19" r="0.78" fill="#145c0e" opacity="0.45"/>
<circle cx="170.18" cy="134.87" r="0.60" fill="#1a6a12" opacity="0.45"/>
<circle cx="176.87" cy="123.00" r="1.47" fill="#62d244" opacity="0.45"/>
<circle cx="161.32" cy="120.97" r="1.36" fill="#145c0e" opacity="0.45"/>
<circle cx="184.88" cy="109.09" r="1.49" fill="#62d244" opacity="0.45"/>
<circle cx="164.49" cy="132.01" r="0.79" fill="#0e4c0a" opacity="0.45"/>
<circle cx="178.29" cy="130.03" r="1.16" fill="#1a6a12" opacity="0.45"/>
<circle cx="171.57" cy="110.03" r="1.47" fill="#145c0e" opacity="0.45"/>
<circle cx="174.53" cy="123.06" r="0.81" fill="#7ad858" opacity="0.45"/>
<circle cx="157.60" cy="120.64" r="0.66" fill="#1a6a12" opacity="0.45"/>
<circle cx="161.95" cy="125.02" r="1.36" fill="#7ad858" opacity="0.45"/>
<circle cx="174.23" cy="124.42" r="1.12" fill="#62d244" opacity="0.45"/>
<circle cx="169.42" cy="124.60" r="0.82" fill="#1a6a12" opacity="0.45"/>
<circle cx="164.34" cy="127.78" r="0.74" fill="#4abc2e" opacity="0.45"/>
<circle cx="168.67" cy="127.85" r="0.96" fill="#4abc2e" opacity="0.45"/>
<circle cx="174.02" cy="106.70" r="0.71" fill="#1a6a12" opacity="0.45"/>
<circle cx="167.82" cy="108.84" r="1.20" fill="#1a6a12" opacity="0.45"/>
<circle cx="182.15" cy="114.08" r="0.60" fill="#7ad858" opacity="0.45"/>
<circle cx="184.10" cy="112.79" r="1.24" fill="#62d244" opacity="0.45"/>
<circle cx="160.97" cy="113.42" r="1.22" fill="#145c0e" opacity="0.45"/>
<circle cx="162.52" cy="126.47" r="1.01" fill="#4abc2e" opacity="0.45"/>
<circle cx="157.63" cy="126.47" r="0.54" fill="#4abc2e" opacity="0.45"/>
<circle cx="166.67" cy="107.84" r="0.66" fill="#4abc2e" opacity="0.45"/>
<circle cx="170.14" cy="129.11" r="0.51" fill="#1a6a12" opacity="0.45"/>
<circle cx="184.93" cy="123.19" r="1.08" fill="#4abc2e" opacity="0.45"/>
<circle cx="184.77" cy="110.77" r="1.17" fill="#145c0e" opacity="0.45"/>
<circle cx="167.32" cy="123.72" r="1.47" fill="#0e4c0a" opacity="0.45"/>
<circle cx="163.58" cy="109.01" r="1.38" fill="#145c0e" opacity="0.45"/>
<circle cx="181.94" cy="112.87" r="0.61" fill="#7ad858" opacity="0.45"/>
<circle cx="163.12" cy="133.21" r="0.85" fill="#0e4c0a" opacity="0.45"/>
<circle cx="163.13" cy="127.42" r="0.83" fill="#0e4c0a" opacity="0.45"/>
<circle cx="164.93" cy="126.73" r="1.18" fill="#0e4c0a" opacity="0.45"/>
<circle cx="183.00" cy="115.25" r="0.62" fill="#62d244" opacity="0.45"/>
<circle cx="187.05" cy="109.61" r="0.54" fill="#4abc2e" opacity="0.45"/>
<circle cx="175.09" cy="115.79" r="0.94" fill="#4abc2e" opacity="0.45"/>
<circle cx="184.78" cy="110.03" r="1.21" fill="#62d244" opacity="0.45"/>
<circle cx="173.23" cy="129.62" r="1.24" fill="#7ad858" opacity="0.45"/>
<circle cx="162.31" cy="118.96" r="1.42" fill="#7ad858" opacity="0.45"/>
<circle cx="175.94" cy="127.55" r="1.22" fill="#62d244" opacity="0.45"/>
<circle cx="165.61" cy="114.44" r="0.83" fill="#0e4c0a" opacity="0.45"/>
<circle cx="178.31" cy="123.51" r="0.92" fill="#145c0e" opacity="0.45"/>
<circle cx="186.09" cy="128.06" r="1.12" fill="#145c0e" opacity="0.45"/>
<circle cx="165.63" cy="123.27" r="0.80" fill="#62d244" opacity="0.45"/>
<circle cx="162.73" cy="132.07" r="1.15" fill="#1a6a12" opacity="0.45"/>
<circle cx="170.88" cy="119.36" r="1.01" fill="#145c0e" opacity="0.45"/>
<circle cx="179.55" cy="127.38" r="1.02" fill="#4abc2e" opacity="0.45"/>
<circle cx="176.25" cy="115.40" r="1.17" fill="#145c0e" opacity="0.45"/>
<circle cx="163.19" cy="110.37" r="0.55" fill="#62d244" opacity="0.45"/>
<circle cx="180.59" cy="119.85" r="1.08" fill="#7ad858" opacity="0.45"/>
<circle cx="178.99" cy="117.21" r="0.74" fill="#0e4c0a" opacity="0.45"/>
<circle cx="180.03" cy="131.49" r="1.28" fill="#62d244" opacity="0.45"/>
<circle cx="163.00" cy="132.75" r="1.02" fill="#7ad858" opacity="0.45"/>
<circle cx="157.61" cy="112.22" r="0.96" fill="#62d244" opacity="0.45"/>
<circle cx="181.65" cy="127.70" r="1.10" fill="#1a6a12" opacity="0.45"/>
<circle cx="175.60" cy="129.61" r="0.93" fill="#1a6a12" opacity="0.45"/>
<circle cx="185.02" cy="119.50" r="1.24" fill="#145c0e" opacity="0.45"/>
<circle cx="171.19" cy="112.59" r="1.34" fill="#145c0e" opacity="0.45"/>
<circle cx="164.87" cy="131.77" r="1.13" fill="#0e4c0a" opacity="0.45"/>
<circle cx="164.79" cy="105.87" r="0.73" fill="#4abc2e" opacity="0.45"/>
<circle cx="168.26" cy="108.65" r="0.56" fill="#145c0e" opacity="0.45"/>
<circle cx="169.04" cy="123.08" r="0.56" fill="#0e4c0a" opacity="0.45"/>
<circle cx="182.65" cy="117.41" r="1.45" fill="#1a6a12" opacity="0.45"/>
<circle cx="174.42" cy="120.65" r="0.80" fill="#4abc2e" opacity="0.45"/>
<circle cx="168.48" cy="135.99" r="1.04" fill="#0e4c0a" opacity="0.45"/>
<circle cx="179.51" cy="132.60" r="0.99" fill="#145c0e" opacity="0.45"/>
<circle cx="164.73" cy="120.97" r="0.84" fill="#0e4c0a" opacity="0.45"/>
<circle cx="177.73" cy="117.96" r="1.34" fill="#145c0e" opacity="0.45"/>
<circle cx="173.09" cy="136.56" r="1.06" fill="#1a6a12" opacity="0.45"/>
<circle cx="160.4" cy="121.6" r="0.7" fill="#d8402a" opacity="0.8"/>
<circle cx="161.2" cy="126.2" r="0.7" fill="#d8402a" opacity="0.8"/>
<circle cx="183.6" cy="128.6" r="0.7" fill="#d8402a" opacity="0.8"/>
<text x="174.00" y="145.20" font-size="3.7" text-anchor="middle" fill="#3a4a3a" stroke="#3a4a3a" stroke-width="0.12" >C/ZrO<tspan font-size="2.7" dy="0.8">2</tspan></text>
<line x1="57.30" y1="98.20" x2="80.97" y2="73.27" stroke="#2a2a2a" stroke-width="1.0" />
<path d="M81.80,72.40 L80.80,75.23 L79.03,73.54 Z" fill="#2a2a2a"/>
<text x="65.40" y="85.00" font-size="3.7" text-anchor="middle" fill="#4a3a3a" stroke="#4a3a3a" stroke-width="0.12" transform="rotate(-46.5 65.40 85.00)" >Mild pyrolysis</text>
<text x="71.80" y="88.80" font-size="3.2" text-anchor="middle" fill="#4a3a3a" stroke="#4a3a3a" stroke-width="0.12" transform="rotate(-46.5 71.80 88.80)" >280 - 400 °C</text>
<line x1="126.40" y1="72.40" x2="151.97" y2="98.94" stroke="#2a2a2a" stroke-width="1.0" />
<path d="M152.80,99.80 L150.02,98.68 L151.78,96.98 Z" fill="#2a2a2a"/>
<text x="141.60" y="83.20" font-size="3.35" text-anchor="middle" fill="#4a3a3a" stroke="#4a3a3a" stroke-width="0.12" transform="rotate(46 141.60 83.20)" >Secondary pyrolysis</text>
<text x="137.40" y="90.60" font-size="3.2" text-anchor="middle" fill="#4a3a3a" stroke="#4a3a3a" stroke-width="0.12" transform="rotate(46 137.40 90.60)" >&gt; 800 °C</text>
<line x1="83.60" y1="120.90" x2="58.80" y2="120.90" stroke="#2a2a2a" stroke-width="1.0" />
<path d="M57.60,120.90 L60.34,119.68 L60.34,122.12 Z" fill="#2a2a2a"/>
<text x="71.40" y="119.00" font-size="3.65" text-anchor="middle" fill="#4a3a3a" stroke="#4a3a3a" stroke-width="0.12" ><tspan fill="#d22a58" stroke="#d22a58">Mild</tspan> synthesis</text>
<text x="69.40" y="125.80" font-size="3.2" text-anchor="middle" fill="#4a3a3a" stroke="#4a3a3a" stroke-width="0.12" >25 °C</text>
<line x1="126.20" y1="120.90" x2="153.60" y2="120.90" stroke="#2a2a2a" stroke-width="1.0" />
<path d="M154.80,120.90 L152.06,122.12 L152.06,119.68 Z" fill="#2a2a2a"/>
<text x="139.80" y="119.00" font-size="3.65" text-anchor="middle" fill="#4a3a3a" stroke="#4a3a3a" stroke-width="0.12" >Direct pyrolysis</text>
<text x="139.80" y="125.80" font-size="3.2" text-anchor="middle" fill="#4a3a3a" stroke="#4a3a3a" stroke-width="0.12" >&gt; 640 °C</text>
<text x="12.40" y="29.20" font-size="7" text-anchor="middle" fill="#111" stroke="#111" stroke-width="0.1" font-weight="bold" font-family='"Liberation Serif", serif' >(a)</text>
<rect x="346.20" y="97.54" width="3.30" height="0.96" fill="#d6981a" stroke="none" stroke-width="0.7" />
<rect x="346.20" y="97.70" width="3.30" height="0.80" fill="#1f7a1c" stroke="none" stroke-width="0.7" />
<line x1="347.85" y1="96.35" x2="347.85" y2="98.50" stroke="#6a3a2a" stroke-width="0.5" />
<line x1="346.85" y1="96.35" x2="348.85" y2="96.35" stroke="#6a3a2a" stroke-width="0.5" />
<circle cx="347.85" cy="97.54" r="0.95" fill="#1a0a0a"/>
<rect x="373.85" y="96.25" width="3.30" height="2.25" fill="#d6981a" stroke="none" stroke-width="0.7" />
<rect x="373.85" y="96.73" width="3.30" height="1.77" fill="#1f7a1c" stroke="none" stroke-width="0.7" />
<line x1="375.50" y1="94.98" x2="375.50" y2="97.52" stroke="#6a3a2a" stroke-width="0.5" />
<line x1="374.50" y1="94.98" x2="376.50" y2="94.98" stroke="#6a3a2a" stroke-width="0.5" />
<circle cx="375.50" cy="96.25" r="0.95" fill="#1a0a0a"/>
<rect x="401.50" y="94.08" width="3.30" height="4.42" fill="#d6981a" stroke="none" stroke-width="0.7" />
<rect x="401.50" y="95.29" width="3.30" height="3.21" fill="#1f7a1c" stroke="none" stroke-width="0.7" />
<rect x="401.50" y="98.26" width="3.30" height="0.24" fill="#2f6be6" stroke="none" stroke-width="0.7" />
<line x1="403.15" y1="92.67" x2="403.15" y2="95.49" stroke="#6a3a2a" stroke-width="0.5" />
<line x1="402.15" y1="92.67" x2="404.15" y2="92.67" stroke="#6a3a2a" stroke-width="0.5" />
<circle cx="403.15" cy="94.08" r="0.95" fill="#1a0a0a"/>
<rect x="417.67" y="91.67" width="3.30" height="6.83" fill="#d6981a" stroke="none" stroke-width="0.7" />
<rect x="417.67" y="93.28" width="3.30" height="5.22" fill="#1f7a1c" stroke="none" stroke-width="0.7" />
<rect x="417.67" y="98.10" width="3.30" height="0.40" fill="#2f6be6" stroke="none" stroke-width="0.7" />
<line x1="419.32" y1="90.11" x2="419.32" y2="93.24" stroke="#6a3a2a" stroke-width="0.5" />
<line x1="418.32" y1="90.11" x2="420.32" y2="90.11" stroke="#6a3a2a" stroke-width="0.5" />
<circle cx="419.32" cy="91.67" r="0.95" fill="#1a0a0a"/>
<rect x="438.05" y="76.82" width="3.30" height="21.68" fill="#d6981a" stroke="none" stroke-width="0.7" />
<rect x="438.05" y="83.24" width="3.30" height="15.26" fill="#1f7a1c" stroke="none" stroke-width="0.7" />
<rect x="438.05" y="97.70" width="3.30" height="0.80" fill="#2f6be6" stroke="none" stroke-width="0.7" />
<rect x="438.05" y="98.26" width="3.30" height="0.24" fill="#6a20dc" stroke="none" stroke-width="0.7" />
<line x1="439.70" y1="74.29" x2="439.70" y2="79.35" stroke="#6a3a2a" stroke-width="0.5" />
<line x1="438.70" y1="74.29" x2="440.70" y2="74.29" stroke="#6a3a2a" stroke-width="0.5" />
<circle cx="439.70" cy="76.82" r="0.95" fill="#1a0a0a"/>
<rect x="451.47" y="67.18" width="3.30" height="31.32" fill="#d6981a" stroke="none" stroke-width="0.7" />
<rect x="451.47" y="76.82" width="3.30" height="21.68" fill="#1f7a1c" stroke="none" stroke-width="0.7" />
<rect x="451.47" y="96.89" width="3.30" height="1.61" fill="#2f6be6" stroke="none" stroke-width="0.7" />
<rect x="451.47" y="98.18" width="3.30" height="0.32" fill="#6a20dc" stroke="none" stroke-width="0.7" />
<line x1="453.12" y1="64.02" x2="453.12" y2="70.34" stroke="#6a3a2a" stroke-width="0.5" />
<line x1="452.12" y1="64.02" x2="454.12" y2="64.02" stroke="#6a3a2a" stroke-width="0.5" />
<circle cx="453.12" cy="67.18" r="0.95" fill="#1a0a0a"/>
<rect x="465.70" y="55.14" width="3.30" height="43.36" fill="#d6981a" stroke="none" stroke-width="0.7" />
<rect x="465.70" y="65.58" width="3.30" height="32.92" fill="#1f7a1c" stroke="none" stroke-width="0.7" />
<rect x="465.70" y="94.48" width="3.30" height="4.02" fill="#2f6be6" stroke="none" stroke-width="0.7" />
<rect x="465.70" y="98.02" width="3.30" height="0.48" fill="#6a20dc" stroke="none" stroke-width="0.7" />
<line x1="467.35" y1="51.20" x2="467.35" y2="59.08" stroke="#6a3a2a" stroke-width="0.5" />
<line x1="466.35" y1="51.20" x2="468.35" y2="51.20" stroke="#6a3a2a" stroke-width="0.5" />
<circle cx="467.35" cy="55.14" r="0.95" fill="#1a0a0a"/>
<rect x="472.97" y="47.91" width="3.30" height="50.59" fill="#d6981a" stroke="none" stroke-width="0.7" />
<rect x="472.97" y="60.76" width="3.30" height="37.74" fill="#1f7a1c" stroke="none" stroke-width="0.7" />
<rect x="472.97" y="94.48" width="3.30" height="4.02" fill="#2f6be6" stroke="none" stroke-width="0.7" />
<rect x="472.97" y="98.02" width="3.30" height="0.48" fill="#6a20dc" stroke="none" stroke-width="0.7" />
<line x1="474.62" y1="43.50" x2="474.62" y2="52.32" stroke="#6a3a2a" stroke-width="0.5" />
<line x1="473.62" y1="43.50" x2="475.62" y2="43.50" stroke="#6a3a2a" stroke-width="0.5" />
<circle cx="474.62" cy="47.91" r="0.95" fill="#1a0a0a"/>
<rect x="479.12" y="44.70" width="3.30" height="53.80" fill="#d6981a" stroke="none" stroke-width="0.7" />
<rect x="479.12" y="59.96" width="3.30" height="38.54" fill="#1f7a1c" stroke="none" stroke-width="0.7" />
<rect x="479.12" y="94.89" width="3.30" height="3.61" fill="#2f6be6" stroke="none" stroke-width="0.7" />
<rect x="479.12" y="98.02" width="3.30" height="0.48" fill="#6a20dc" stroke="none" stroke-width="0.7" />
<line x1="480.77" y1="40.08" x2="480.77" y2="49.32" stroke="#6a3a2a" stroke-width="0.5" />
<line x1="479.77" y1="40.08" x2="481.77" y2="40.08" stroke="#6a3a2a" stroke-width="0.5" />
<circle cx="480.77" cy="44.70" r="0.95" fill="#1a0a0a"/>
<rect x="484.45" y="36.67" width="3.30" height="61.83" fill="#d6981a" stroke="none" stroke-width="0.7" />
<rect x="484.45" y="55.94" width="3.30" height="42.56" fill="#1f7a1c" stroke="none" stroke-width="0.7" />
<rect x="484.45" y="94.48" width="3.30" height="4.02" fill="#2f6be6" stroke="none" stroke-width="0.7" />
<rect x="484.45" y="98.02" width="3.30" height="0.48" fill="#6a20dc" stroke="none" stroke-width="0.7" />
<line x1="486.10" y1="31.53" x2="486.10" y2="41.81" stroke="#6a3a2a" stroke-width="0.5" />
<line x1="485.10" y1="31.53" x2="487.10" y2="31.53" stroke="#6a3a2a" stroke-width="0.5" />
<circle cx="486.10" cy="36.67" r="0.95" fill="#1a0a0a"/>
<rect x="493.35" y="28.64" width="3.30" height="69.86" fill="#d6981a" stroke="none" stroke-width="0.7" />
<rect x="493.35" y="56.74" width="3.30" height="41.76" fill="#1f7a1c" stroke="none" stroke-width="0.7" />
<rect x="493.35" y="94.48" width="3.30" height="4.02" fill="#2f6be6" stroke="none" stroke-width="0.7" />
<rect x="493.35" y="98.02" width="3.30" height="0.48" fill="#6a20dc" stroke="none" stroke-width="0.7" />
<line x1="495.00" y1="22.97" x2="495.00" y2="34.30" stroke="#6a3a2a" stroke-width="0.5" />
<line x1="494.00" y1="22.97" x2="496.00" y2="22.97" stroke="#6a3a2a" stroke-width="0.5" />
<circle cx="495.00" cy="28.64" r="0.95" fill="#1a0a0a"/>
<rect x="500.62" y="22.22" width="3.30" height="76.28" fill="#d6981a" stroke="none" stroke-width="0.7" />
<rect x="500.62" y="56.74" width="3.30" height="41.76" fill="#1f7a1c" stroke="none" stroke-width="0.7" />
<rect x="500.62" y="91.27" width="3.30" height="7.23" fill="#2f6be6" stroke="none" stroke-width="0.7" />
<rect x="500.62" y="98.02" width="3.30" height="0.48" fill="#6a20dc" stroke="none" stroke-width="0.7" />
<line x1="502.27" y1="16.13" x2="502.27" y2="28.30" stroke="#6a3a2a" stroke-width="0.5" />
<line x1="501.27" y1="16.13" x2="503.27" y2="16.13" stroke="#6a3a2a" stroke-width="0.5" />
<circle cx="502.27" cy="22.22" r="0.95" fill="#1a0a0a"/>
<rect x="516.80" y="19.81" width="3.30" height="78.69" fill="#d6981a" stroke="none" stroke-width="0.7" />
<rect x="516.80" y="65.58" width="3.30" height="32.92" fill="#1f7a1c" stroke="none" stroke-width="0.7" />
<rect x="516.80" y="93.68" width="3.30" height="4.82" fill="#2f6be6" stroke="none" stroke-width="0.7" />
<rect x="516.80" y="98.02" width="3.30" height="0.48" fill="#6a20dc" stroke="none" stroke-width="0.7" />
<line x1="518.45" y1="13.57" x2="518.45" y2="26.05" stroke="#6a3a2a" stroke-width="0.5" />
<line x1="517.45" y1="13.57" x2="519.45" y2="13.57" stroke="#6a3a2a" stroke-width="0.5" />
<circle cx="518.45" cy="19.81" r="0.95" fill="#1a0a0a"/>
<rect x="311.30" y="9.80" width="227.90" height="88.70" fill="none" stroke="#111" stroke-width="1.0" />
<line x1="308.70" y1="98.50" x2="311.30" y2="98.50" stroke="#111" stroke-width="0.7" />
<text x="306.70" y="100.80" font-size="6.4" text-anchor="end" fill="#222" stroke="#222" stroke-width="0.1" >0</text>
<line x1="309.80" y1="90.47" x2="311.30" y2="90.47" stroke="#111" stroke-width="0.6" />
<line x1="308.70" y1="82.44" x2="311.30" y2="82.44" stroke="#111" stroke-width="0.7" />
<text x="306.70" y="84.74" font-size="6.4" text-anchor="end" fill="#222" stroke="#222" stroke-width="0.1" >20</text>
<line x1="309.80" y1="74.41" x2="311.30" y2="74.41" stroke="#111" stroke-width="0.6" />
<line x1="308.70" y1="66.38" x2="311.30" y2="66.38" stroke="#111" stroke-width="0.7" />
<text x="306.70" y="68.68" font-size="6.4" text-anchor="end" fill="#222" stroke="#222" stroke-width="0.1" >40</text>
<line x1="309.80" y1="58.35" x2="311.30" y2="58.35" stroke="#111" stroke-width="0.6" />
<line x1="308.70" y1="50.32" x2="311.30" y2="50.32" stroke="#111" stroke-width="0.7" />
<text x="306.70" y="52.62" font-size="6.4" text-anchor="end" fill="#222" stroke="#222" stroke-width="0.1" >60</text>
<line x1="309.80" y1="42.29" x2="311.30" y2="42.29" stroke="#111" stroke-width="0.6" />
<line x1="308.70" y1="34.26" x2="311.30" y2="34.26" stroke="#111" stroke-width="0.7" />
<text x="306.70" y="36.56" font-size="6.4" text-anchor="end" fill="#222" stroke="#222" stroke-width="0.1" >80</text>
<line x1="309.80" y1="26.23" x2="311.30" y2="26.23" stroke="#111" stroke-width="0.6" />
<line x1="308.70" y1="18.20" x2="311.30" y2="18.20" stroke="#111" stroke-width="0.7" />
<text x="306.70" y="20.50" font-size="6.4" text-anchor="end" fill="#222" stroke="#222" stroke-width="0.1" >100</text>
<text x="347.85" y="108.80" font-size="6.4" text-anchor="middle" fill="#222" stroke="#222" stroke-width="0.1" >0.5</text>
<text x="375.50" y="108.80" font-size="6.4" text-anchor="middle" fill="#222" stroke="#222" stroke-width="0.1" >1</text>
<text x="419.32" y="108.80" font-size="6.4" text-anchor="middle" fill="#222" stroke="#222" stroke-width="0.1" >3</text>
<text x="439.70" y="108.80" font-size="6.4" text-anchor="middle" fill="#222" stroke="#222" stroke-width="0.1" >5</text>
<text x="467.35" y="108.80" font-size="6.4" text-anchor="middle" fill="#222" stroke="#222" stroke-width="0.1" >10</text>
<text x="486.10" y="108.80" font-size="6.4" text-anchor="middle" fill="#222" stroke="#222" stroke-width="0.1" >16</text>
<text x="502.27" y="108.80" font-size="6.4" text-anchor="middle" fill="#222" stroke="#222" stroke-width="0.1" >24</text>
<text x="518.45" y="108.80" font-size="6.4" text-anchor="middle" fill="#222" stroke="#222" stroke-width="0.1" >36</text>
<line x1="347.85" y1="98.50" x2="347.85" y2="101.10" stroke="#111" stroke-width="0.9" />
<line x1="375.50" y1="98.50" x2="375.50" y2="101.10" stroke="#111" stroke-width="0.9" />
<line x1="403.15" y1="98.50" x2="403.15" y2="101.10" stroke="#111" stroke-width="0.9" />
<line x1="419.32" y1="98.50" x2="419.32" y2="101.10" stroke="#111" stroke-width="0.9" />
<line x1="439.70" y1="98.50" x2="439.70" y2="101.10" stroke="#111" stroke-width="0.9" />
<line x1="453.12" y1="98.50" x2="453.12" y2="101.10" stroke="#111" stroke-width="0.9" />
<line x1="467.35" y1="98.50" x2="467.35" y2="101.10" stroke="#111" stroke-width="0.9" />
<line x1="474.62" y1="98.50" x2="474.62" y2="101.10" stroke="#111" stroke-width="0.9" />
<line x1="480.77" y1="98.50" x2="480.77" y2="101.10" stroke="#111" stroke-width="0.9" />
<line x1="486.10" y1="98.50" x2="486.10" y2="101.10" stroke="#111" stroke-width="0.9" />
<line x1="495.00" y1="98.50" x2="495.00" y2="101.10" stroke="#111" stroke-width="0.9" />
<line x1="502.27" y1="98.50" x2="502.27" y2="101.10" stroke="#111" stroke-width="0.9" />
<line x1="518.45" y1="98.50" x2="518.45" y2="101.10" stroke="#111" stroke-width="0.9" />
<text x="424.50" y="116.20" font-size="6.4" text-anchor="middle" fill="#222" stroke="#222" stroke-width="0.1" >Reaction time (h)</text>
<text x="293.60" y="54.00" font-size="6.4" text-anchor="middle" fill="#222" stroke="#222" stroke-width="0.1" transform="rotate(-90 293.60 54.00)" >Conversion of polystyrene (%)</text>
<circle cx="329.2" cy="18.2" r="1.0" fill="#3a0a18"/>
<text x="338.40" y="20.40" font-size="6.4" text-anchor="start" fill="#222" stroke="#222" stroke-width="0.1" >Conversion of polystyrene</text>
<rect x="322.00" y="22.20" width="14.20" height="7.20" fill="#d6981a" stroke="none" stroke-width="0.7" />
<text x="338.40" y="28.20" font-size="6.4" text-anchor="start" fill="#222" stroke="#222" stroke-width="0.1" >CO<tspan font-size="4.2" dy="1.4">x</tspan></text>
<rect x="322.00" y="31.40" width="14.20" height="7.20" fill="#1f7a1c" stroke="none" stroke-width="0.7" />
<text x="338.40" y="37.30" font-size="6.4" text-anchor="start" fill="#222" stroke="#222" stroke-width="0.1" >benzoic acid</text>
<rect x="322.00" y="39.50" width="14.20" height="7.20" fill="#2f6be6" stroke="none" stroke-width="0.7" />
<text x="338.40" y="45.50" font-size="6.4" text-anchor="start" fill="#222" stroke="#222" stroke-width="0.1" >acetophenone</text>
<rect x="322.00" y="47.00" width="14.20" height="7.20" fill="#6a20dc" stroke="none" stroke-width="0.7" />
<text x="338.40" y="53.00" font-size="6.4" text-anchor="start" fill="#222" stroke="#222" stroke-width="0.1" >benzaldehyde</text>
<text x="290.40" y="9.00" font-size="7" text-anchor="middle" fill="#111" stroke="#111" stroke-width="0.1" font-weight="bold" font-family='"Liberation Serif", serif' >(f)</text>
<rect x="208.30" y="51.10" width="66.50" height="70.60" fill="none" stroke="#555" stroke-width="0.65" />
<path d="M208.30,121.70 C210.09,119.20 215.45,110.37 219.02,106.70 C222.59,103.02 226.17,102.28 229.74,99.64 C233.31,96.99 236.89,93.61 240.46,90.81 C244.03,88.02 247.61,85.08 251.18,82.87 C254.75,80.66 258.33,79.05 261.90,77.58 C265.47,76.10 270.83,74.63 272.62,74.05" fill="none" stroke="#b9c9a4" stroke-width="1.1" stroke-linejoin="round" stroke-linecap="round" />
<line x1="219.02" y1="105.40" x2="219.02" y2="107.99" stroke="#9fc08a" stroke-width="0.5" />
<circle cx="219.02" cy="106.70" r="1.2" fill="#9fc08a"/>
<line x1="229.74" y1="98.02" x2="229.74" y2="101.26" stroke="#9fc08a" stroke-width="0.5" />
<circle cx="229.74" cy="99.64" r="1.2" fill="#9fc08a"/>
<line x1="240.46" y1="88.87" x2="240.46" y2="92.75" stroke="#9fc08a" stroke-width="0.5" />
<circle cx="240.46" cy="90.81" r="1.2" fill="#9fc08a"/>
<line x1="251.18" y1="80.60" x2="251.18" y2="85.14" stroke="#9fc08a" stroke-width="0.5" />
<circle cx="251.18" cy="82.87" r="1.2" fill="#9fc08a"/>
<line x1="261.90" y1="74.99" x2="261.90" y2="80.16" stroke="#9fc08a" stroke-width="0.5" />
<circle cx="261.90" cy="77.58" r="1.2" fill="#9fc08a"/>
<line x1="272.62" y1="71.13" x2="272.62" y2="76.96" stroke="#9fc08a" stroke-width="0.5" />
<circle cx="272.62" cy="74.05" r="1.2" fill="#9fc08a"/>
<path d="M208.30,121.70 C210.09,118.76 215.45,108.17 219.02,104.05 C222.59,99.93 226.17,100.08 229.74,96.99 C233.31,93.90 236.89,88.75 240.46,85.52 C244.03,82.28 247.61,79.78 251.18,77.58 C254.75,75.37 258.33,73.75 261.90,72.28 C265.47,70.81 270.83,69.34 272.62,68.75" fill="none" stroke="#c2b070" stroke-width="1.1" stroke-linejoin="round" stroke-linecap="round" />
<line x1="219.02" y1="102.28" x2="219.02" y2="105.81" stroke="#c9a24a" stroke-width="0.5" />
<circle cx="219.02" cy="104.05" r="1.2" fill="#c9a24a"/>
<line x1="229.74" y1="94.78" x2="229.74" y2="99.20" stroke="#c9a24a" stroke-width="0.5" />
<circle cx="229.74" cy="96.99" r="1.2" fill="#c9a24a"/>
<line x1="240.46" y1="82.87" x2="240.46" y2="88.17" stroke="#c9a24a" stroke-width="0.5" />
<circle cx="240.46" cy="85.52" r="1.2" fill="#c9a24a"/>
<line x1="251.18" y1="74.49" x2="251.18" y2="80.66" stroke="#c9a24a" stroke-width="0.5" />
<circle cx="251.18" cy="77.58" r="1.2" fill="#c9a24a"/>
<line x1="261.90" y1="68.75" x2="261.90" y2="75.81" stroke="#c9a24a" stroke-width="0.5" />
<circle cx="261.90" cy="72.28" r="1.2" fill="#c9a24a"/>
<line x1="272.62" y1="64.78" x2="272.62" y2="72.72" stroke="#c9a24a" stroke-width="0.5" />
<circle cx="272.62" cy="68.75" r="1.2" fill="#c9a24a"/>
<path d="M208.30,121.70 C210.09,118.54 215.45,107.29 219.02,102.73 C222.59,98.17 226.17,98.53 229.74,94.34 C233.31,90.15 236.89,82.28 240.46,77.58 C244.03,72.87 247.61,69.19 251.18,66.10 C254.75,63.01 258.33,61.10 261.90,59.04 C265.47,56.98 270.83,54.63 272.62,53.75" fill="none" stroke="#d8b82a" stroke-width="1.1" stroke-linejoin="round" stroke-linecap="round" />
<line x1="219.02" y1="102.02" x2="219.02" y2="103.43" stroke="#c89a18" stroke-width="0.5" />
<circle cx="219.02" cy="102.73" r="1.2" fill="#c89a18"/>
<line x1="229.74" y1="93.46" x2="229.74" y2="95.22" stroke="#c89a18" stroke-width="0.5" />
<circle cx="229.74" cy="94.34" r="1.2" fill="#c89a18"/>
<line x1="240.46" y1="76.52" x2="240.46" y2="78.63" stroke="#c89a18" stroke-width="0.5" />
<circle cx="240.46" cy="77.58" r="1.2" fill="#c89a18"/>
<line x1="251.18" y1="64.87" x2="251.18" y2="67.34" stroke="#c89a18" stroke-width="0.5" />
<circle cx="251.18" cy="66.10" r="1.2" fill="#c89a18"/>
<line x1="261.90" y1="57.63" x2="261.90" y2="60.45" stroke="#c89a18" stroke-width="0.5" />
<circle cx="261.90" cy="59.04" r="1.2" fill="#c89a18"/>
<line x1="272.62" y1="52.16" x2="272.62" y2="55.34" stroke="#c89a18" stroke-width="0.5" />
<circle cx="272.62" cy="53.75" r="1.2" fill="#c89a18"/>
<path d="M208.30,121.70 C210.09,119.94 215.45,113.61 219.02,111.11 C222.59,108.61 226.17,108.61 229.74,106.70 C233.31,104.79 236.89,101.70 240.46,99.64 C244.03,97.58 247.61,96.25 251.18,94.34 C254.75,92.43 258.33,89.64 261.90,88.17 C265.47,86.69 270.83,85.96 272.62,85.52" fill="none" stroke="#5a2a80" stroke-width="1.1" stroke-linejoin="round" stroke-linecap="round" />
<line x1="219.02" y1="109.58" x2="219.02" y2="112.64" stroke="#4a1a78" stroke-width="0.5" />
<circle cx="219.02" cy="111.11" r="1.2" fill="#4a1a78"/>
<line x1="229.74" y1="104.79" x2="229.74" y2="108.61" stroke="#4a1a78" stroke-width="0.5" />
<circle cx="229.74" cy="106.70" r="1.2" fill="#4a1a78"/>
<line x1="240.46" y1="97.34" x2="240.46" y2="101.93" stroke="#4a1a78" stroke-width="0.5" />
<circle cx="240.46" cy="99.64" r="1.2" fill="#4a1a78"/>
<line x1="251.18" y1="91.67" x2="251.18" y2="97.02" stroke="#4a1a78" stroke-width="0.5" />
<circle cx="251.18" cy="94.34" r="1.2" fill="#4a1a78"/>
<line x1="261.90" y1="85.11" x2="261.90" y2="91.22" stroke="#4a1a78" stroke-width="0.5" />
<circle cx="261.90" cy="88.17" r="1.2" fill="#4a1a78"/>
<line x1="272.62" y1="82.08" x2="272.62" y2="88.96" stroke="#4a1a78" stroke-width="0.5" />
<circle cx="272.62" cy="85.52" r="1.2" fill="#4a1a78"/>
<line x1="206.50" y1="121.70" x2="208.30" y2="121.70" stroke="#333" stroke-width="0.5" />
<text x="205.70" y="123.30" font-size="4.6" text-anchor="end" fill="#333" stroke="#333" stroke-width="0.12" >0</text>
<line x1="206.50" y1="104.05" x2="208.30" y2="104.05" stroke="#333" stroke-width="0.5" />
<text x="205.70" y="105.65" font-size="4.6" text-anchor="end" fill="#333" stroke="#333" stroke-width="0.12" >20</text>
<line x1="206.50" y1="86.40" x2="208.30" y2="86.40" stroke="#333" stroke-width="0.5" />
<text x="205.70" y="88.00" font-size="4.6" text-anchor="end" fill="#333" stroke="#333" stroke-width="0.12" >40</text>
<line x1="206.50" y1="68.75" x2="208.30" y2="68.75" stroke="#333" stroke-width="0.5" />
<text x="205.70" y="70.35" font-size="4.6" text-anchor="end" fill="#333" stroke="#333" stroke-width="0.12" >60</text>
<line x1="206.50" y1="51.10" x2="208.30" y2="51.10" stroke="#333" stroke-width="0.5" />
<text x="205.70" y="52.70" font-size="4.6" text-anchor="end" fill="#333" stroke="#333" stroke-width="0.12" >80</text>
<line x1="208.30" y1="121.70" x2="208.30" y2="123.30" stroke="#333" stroke-width="0.5" />
<text x="208.30" y="127.60" font-size="4.6" text-anchor="middle" fill="#333" stroke="#333" stroke-width="0.12" >0</text>
<line x1="219.02" y1="121.70" x2="219.02" y2="123.30" stroke="#333" stroke-width="0.5" />
<text x="219.02" y="127.60" font-size="4.6" text-anchor="middle" fill="#333" stroke="#333" stroke-width="0.12" >10</text>
<line x1="229.74" y1="121.70" x2="229.74" y2="123.30" stroke="#333" stroke-width="0.5" />
<text x="229.74" y="127.60" font-size="4.6" text-anchor="middle" fill="#333" stroke="#333" stroke-width="0.12" >20</text>
<line x1="240.46" y1="121.70" x2="240.46" y2="123.30" stroke="#333" stroke-width="0.5" />
<text x="240.46" y="127.60" font-size="4.6" text-anchor="middle" fill="#333" stroke="#333" stroke-width="0.12" >30</text>
<line x1="251.18" y1="121.70" x2="251.18" y2="123.30" stroke="#333" stroke-width="0.5" />
<text x="251.18" y="127.60" font-size="4.6" text-anchor="middle" fill="#333" stroke="#333" stroke-width="0.12" >40</text>
<line x1="261.90" y1="121.70" x2="261.90" y2="123.30" stroke="#333" stroke-width="0.5" />
<text x="261.90" y="127.60" font-size="4.6" text-anchor="middle" fill="#333" stroke="#333" stroke-width="0.12" >50</text>
<line x1="272.62" y1="121.70" x2="272.62" y2="123.30" stroke="#333" stroke-width="0.5" />
<text x="272.62" y="127.60" font-size="4.6" text-anchor="middle" fill="#333" stroke="#333" stroke-width="0.12" >60</text>
<text x="241.80" y="135.80" font-size="6.0" text-anchor="middle" fill="#333" stroke="#333" stroke-width="0.1" >Time (h)</text>
<text x="199.60" y="86.60" font-size="6.0" text-anchor="middle" fill="#333" stroke="#333" stroke-width="0.1" transform="rotate(-90 199.60 86.60)" >Conversion (%)</text>
<line x1="210.20" y1="54.00" x2="216.00" y2="54.00" stroke="#b9c9a4" stroke-width="0.7" />
<circle cx="213.1" cy="54.0" r="0.95" fill="#9fc08a"/>
<text x="217.30" y="55.60" font-size="4.3" text-anchor="start" fill="#333" stroke="#333" stroke-width="0.12" >CDs/Zr-MOF(20%)</text>
<line x1="210.20" y1="59.60" x2="216.00" y2="59.60" stroke="#c2b070" stroke-width="0.7" />
<circle cx="213.1" cy="59.6" r="0.95" fill="#6fae4a"/>
<text x="217.30" y="61.20" font-size="4.3" text-anchor="start" fill="#333" stroke="#333" stroke-width="0.12" >CDs/Zr-MOF(10%)</text>
<line x1="210.20" y1="64.90" x2="216.00" y2="64.90" stroke="#d8b82a" stroke-width="0.7" />
<circle cx="213.1" cy="64.9" r="0.95" fill="#d69a3a"/>
<text x="217.30" y="66.50" font-size="4.3" text-anchor="start" fill="#333" stroke="#333" stroke-width="0.12" >CDs/Zr-MOF(5%)</text>
<line x1="210.20" y1="70.50" x2="216.00" y2="70.50" stroke="#5a2a80" stroke-width="0.7" />
<circle cx="213.1" cy="70.5" r="0.95" fill="#4a1a78"/>
<text x="217.30" y="72.10" font-size="4.3" text-anchor="start" fill="#333" stroke="#333" stroke-width="0.12" >Zr-MOF</text>
<text x="196.60" y="46.20" font-size="7" text-anchor="middle" fill="#111" stroke="#111" stroke-width="0.1" font-weight="bold" font-family='"Liberation Serif", serif' >(b)</text>
<rect x="48.60" y="224.43" width="12.00" height="10.77" fill="url(#gpur)" stroke="none" stroke-width="0.7" />
<rect x="62.90" y="185.79" width="10.80" height="49.41" fill="url(#gora)" stroke="none" stroke-width="0.7" />
<line x1="54.50" y1="223.10" x2="54.50" y2="224.88" stroke="#7a4aa0" stroke-width="0.5" />
<line x1="53.50" y1="223.10" x2="55.50" y2="223.10" stroke="#7a4aa0" stroke-width="0.5" />
<line x1="68.30" y1="184.16" x2="68.30" y2="187.41" stroke="#d0804a" stroke-width="0.5" />
<line x1="67.40" y1="184.16" x2="69.20" y2="184.16" stroke="#d0804a" stroke-width="0.4" />
<line x1="67.40" y1="187.41" x2="69.20" y2="187.41" stroke="#d0804a" stroke-width="0.4" />
<rect x="33.20" y="164.40" width="67.40" height="70.80" fill="none" stroke="#555" stroke-width="0.65" />
<line x1="31.60" y1="235.20" x2="33.20" y2="235.20" stroke="#333" stroke-width="0.5" />
<text x="31.40" y="236.70" font-size="4.2" text-anchor="end" fill="#333" stroke="#333" stroke-width="0.12" >0.00</text>
<line x1="31.60" y1="217.50" x2="33.20" y2="217.50" stroke="#333" stroke-width="0.5" />
<text x="31.40" y="219.00" font-size="4.2" text-anchor="end" fill="#333" stroke="#333" stroke-width="0.12" >0.06</text>
<line x1="31.60" y1="199.80" x2="33.20" y2="199.80" stroke="#333" stroke-width="0.5" />
<text x="31.40" y="201.30" font-size="4.2" text-anchor="end" fill="#333" stroke="#333" stroke-width="0.12" >0.12</text>
<line x1="31.60" y1="182.10" x2="33.20" y2="182.10" stroke="#333" stroke-width="0.5" />
<text x="31.40" y="183.60" font-size="4.2" text-anchor="end" fill="#333" stroke="#333" stroke-width="0.12" >0.18</text>
<line x1="31.60" y1="164.40" x2="33.20" y2="164.40" stroke="#333" stroke-width="0.5" />
<text x="31.40" y="165.90" font-size="4.2" text-anchor="end" fill="#333" stroke="#333" stroke-width="0.12" >0.24</text>
<line x1="32.30" y1="226.35" x2="33.20" y2="226.35" stroke="#333" stroke-width="0.4" />
<line x1="32.30" y1="208.65" x2="33.20" y2="208.65" stroke="#333" stroke-width="0.4" />
<line x1="32.30" y1="190.95" x2="33.20" y2="190.95" stroke="#333" stroke-width="0.4" />
<line x1="32.30" y1="173.25" x2="33.20" y2="173.25" stroke="#333" stroke-width="0.4" />
<path d="M67.10,165.60 L72.90,171.40 L67.10,177.20 L61.30,171.40 Z" fill="url(#dg20)" opacity="1.0"/>
<path d="M52.70,207.00 L57.50,211.80 L52.70,216.60 L47.90,211.80 Z" fill="url(#dg21)" opacity="1.0"/>
<path d="M80.50,218.50 L85.80,223.80 L80.50,229.10 L75.20,223.80 Z" fill="url(#dg22)" opacity="1.0"/>
<text x="68.40" y="181.60" font-size="4.25" text-anchor="middle" fill="#333" stroke="#333" stroke-width="0.12" >CDs/Zr-MOF</text>
<text x="54.30" y="222.30" font-size="4.1" text-anchor="middle" fill="#333" stroke="#333" stroke-width="0.12" >Zr-MOF</text>
<text x="41.20" y="229.20" font-size="4.1" text-anchor="middle" fill="#333" stroke="#333" stroke-width="0.12" >No</text>
<text x="41.20" y="233.90" font-size="4.1" text-anchor="middle" fill="#333" stroke="#333" stroke-width="0.12" >light</text>
<text x="81.20" y="233.90" font-size="4.1" text-anchor="middle" fill="#333" stroke="#333" stroke-width="0.12" >C/ZrO<tspan font-size="3" dy="0.9">2</tspan></text>
<text x="95.00" y="229.20" font-size="4.1" text-anchor="middle" fill="#333" stroke="#333" stroke-width="0.12" >No</text>
<text x="95.00" y="233.90" font-size="4.1" text-anchor="middle" fill="#333" stroke="#333" stroke-width="0.12" >PVC</text>
<text x="71.40" y="249.00" font-size="5.4" text-anchor="middle" fill="#333" stroke="#333" stroke-width="0.1" >Photocatalyst</text>
<text x="21.4" y="196" font-size="5.2" text-anchor="middle" fill="#333" stroke="#333" stroke-width="0.08" transform="rotate(-90 21.4 196)">Production rate (mg g<tspan font-size="3.2" dy="1.2">cat</tspan><tspan font-size="3.2" dy="-3.2" dx="-4.6">-1</tspan><tspan dy="2"> h</tspan><tspan font-size="3.2" dy="-2">-1</tspan><tspan dy="2">)</tspan></text>
<text x="10.00" y="156.60" font-size="7" text-anchor="middle" fill="#111" stroke="#111" stroke-width="0.1" font-weight="bold" font-family='"Liberation Serif", serif' >(c)</text>
<rect x="118.70" y="155.30" width="69.90" height="25.50" fill="#f3e8f0" stroke="none" stroke-width="0.7" />
<rect x="118.70" y="180.80" width="69.90" height="26.20" fill="#fbeee8" stroke="none" stroke-width="0.7" />
<rect x="118.70" y="207.00" width="69.90" height="24.30" fill="#e1e4f7" stroke="none" stroke-width="0.7" />
<path d="M128.00,158.00 L133.20,163.20 L128.00,168.40 L122.80,163.20 Z" fill="url(#dg23)" opacity="1.0"/>
<path d="M127.20,184.20 L132.20,189.20 L127.20,194.20 L122.20,189.20 Z" fill="url(#dg24)" opacity="1.0"/>
<path d="M128.00,208.60 L133.40,214.00 L128.00,219.40 L122.60,214.00 Z" fill="url(#dg25)" opacity="1.0"/>
<path d="M118.70,171.49 L119.75,171.85 L120.80,171.64 L121.85,171.92 L122.90,171.95 L123.95,171.28 L125.00,171.22 L126.05,172.20 L127.10,171.51 L128.15,171.48 L129.20,172.39 L130.25,171.76 L131.30,172.20 L132.35,171.77 L133.40,171.97 L134.45,171.38 L135.50,171.96 L136.55,172.24 L138.60,172.70 L140.75,164.73 L141.45,164.20 L144.05,176.40 L144.75,176.08 L147.15,163.43 L147.85,162.80 L150.85,179.20 L151.55,178.68 L153.85,161.38 L154.55,160.60 L157.85,181.00 L158.55,180.36 L161.45,167.89 L162.15,167.60 L164.65,177.80 L165.35,177.38 L167.20,170.50 L168.40,172.30 L169.40,171.83 L170.45,172.11 L171.50,172.02 L172.55,171.23 L173.60,172.14 L174.65,171.92 L175.70,171.54 L176.75,171.19 L177.80,172.28 L178.85,171.76 L179.90,172.08 L180.95,172.29 L182.00,172.08 L183.05,172.35 L184.10,171.66 L185.15,172.19 L186.20,171.73 L187.25,172.37 L188.60,171.80" fill="none" stroke="#5e2a7c" stroke-width="1.05" stroke-linejoin="round" stroke-linecap="round" />
<path d="M118.70,198.35 L119.75,198.49 L120.80,198.55 L121.85,198.73 L122.90,198.49 L123.95,198.71 L125.00,197.63 L126.05,198.16 L127.10,198.73 L128.15,198.38 L129.20,198.68 L130.25,197.74 L131.30,198.16 L132.35,197.90 L133.40,198.25 L134.45,198.29 L135.50,197.62 L136.55,197.86 L138.60,199.10 L140.75,186.57 L141.45,185.70 L144.05,205.20 L144.75,204.71 L147.15,184.71 L147.85,183.70 L150.85,209.20 L151.55,208.43 L153.85,183.78 L154.55,182.70 L157.85,211.20 L158.55,210.29 L161.45,192.16 L162.15,191.70 L164.65,208.70 L165.35,207.96 L167.20,196.90 L168.40,198.70 L169.40,197.91 L170.45,198.74 L171.50,198.55 L172.55,197.76 L173.60,198.59 L174.65,197.73 L175.70,198.35 L176.75,197.71 L177.80,197.55 L178.85,198.68 L179.90,197.82 L180.95,197.83 L182.00,198.83 L183.05,198.68 L184.10,197.93 L185.15,198.80 L186.20,198.25 L187.25,198.43 L188.60,198.20" fill="none" stroke="#d2aa30" stroke-width="1.05" stroke-linejoin="round" stroke-linecap="round" />
<path d="M118.70,221.56 L119.75,221.45 L120.80,221.17 L121.85,222.04 L122.90,221.01 L123.95,221.60 L125.00,222.08 L126.05,221.10 L127.10,221.67 L128.15,221.74 L129.20,221.05 L130.25,221.45 L131.30,221.84 L132.35,221.54 L133.40,221.87 L134.45,221.19 L135.50,221.29 L136.55,221.13 L138.60,222.50 L140.75,216.95 L141.45,216.60 L144.05,224.00 L144.75,223.83 L147.15,214.16 L147.85,213.60 L150.85,226.60 L151.55,226.25 L153.85,213.23 L154.55,212.60 L157.85,228.60 L158.55,228.11 L161.45,220.20 L162.15,220.10 L164.65,227.60 L165.35,227.18 L167.20,220.30 L168.40,222.10 L169.40,221.61 L170.45,222.15 L171.50,221.72 L172.55,221.96 L173.60,221.45 L174.65,221.92 L175.70,221.08 L176.75,221.33 L177.80,221.83 L178.85,221.89 L179.90,221.50 L180.95,221.06 L182.00,221.30 L183.05,221.22 L184.10,221.32 L185.15,222.00 L186.20,221.21 L187.25,222.10 L188.60,221.60" fill="none" stroke="#2a20b4" stroke-width="1.05" stroke-linejoin="round" stroke-linecap="round" />
<rect x="118.70" y="155.30" width="69.90" height="76.00" fill="none" stroke="#555" stroke-width="0.65" />
<text x="177.20" y="169.40" font-size="4.2" text-anchor="middle" fill="#333" stroke="#333" stroke-width="0.12" >Zr-MOF</text>
<text x="176.00" y="194.80" font-size="4.2" text-anchor="middle" fill="#333" stroke="#333" stroke-width="0.12" >CDs/Zr-MOF</text>
<text x="178.00" y="218.40" font-size="4.2" text-anchor="middle" fill="#333" stroke="#333" stroke-width="0.12" >C/ZrO<tspan font-size="2.9" dy="0.9">2</tspan></text>
<line x1="118.70" y1="231.30" x2="118.70" y2="232.80" stroke="#333" stroke-width="0.5" />
<text x="119.70" y="237.20" font-size="4.3" text-anchor="middle" fill="#333" stroke="#333" stroke-width="0.12" >3440</text>
<line x1="142.00" y1="231.30" x2="142.00" y2="232.80" stroke="#333" stroke-width="0.5" />
<text x="143.00" y="237.20" font-size="4.3" text-anchor="middle" fill="#333" stroke="#333" stroke-width="0.12" >3480</text>
<line x1="165.30" y1="231.30" x2="165.30" y2="232.80" stroke="#333" stroke-width="0.5" />
<text x="166.30" y="237.20" font-size="4.3" text-anchor="middle" fill="#333" stroke="#333" stroke-width="0.12" >3520</text>
<line x1="188.60" y1="231.30" x2="188.60" y2="232.80" stroke="#333" stroke-width="0.5" />
<text x="189.60" y="237.20" font-size="4.3" text-anchor="middle" fill="#333" stroke="#333" stroke-width="0.12" >3560</text>
<line x1="130.35" y1="231.30" x2="130.35" y2="232.20" stroke="#333" stroke-width="0.4" />
<line x1="153.65" y1="231.30" x2="153.65" y2="232.20" stroke="#333" stroke-width="0.4" />
<line x1="176.95" y1="231.30" x2="176.95" y2="232.20" stroke="#333" stroke-width="0.4" />
<text x="153.55" y="246.40" font-size="5.4" text-anchor="middle" fill="#333" stroke="#333" stroke-width="0.1" >Magnetic field strength (G)</text>
<text x="113.10" y="191.80" font-size="6.2" text-anchor="middle" fill="#333" stroke="#333" stroke-width="0.1" transform="rotate(-90 113.10 191.80)" >Intensity (a.u.)</text>
<text x="108.40" y="157.20" font-size="7" text-anchor="middle" fill="#111" stroke="#111" stroke-width="0.1" font-weight="bold" font-family='"Liberation Serif", serif' >(d)</text>
<rect x="209.50" y="155.30" width="69.90" height="25.50" fill="#f3e8f0" stroke="none" stroke-width="0.7" />
<rect x="209.50" y="180.80" width="69.90" height="26.20" fill="#fbeee8" stroke="none" stroke-width="0.7" />
<rect x="209.50" y="207.00" width="69.90" height="24.30" fill="#e1e4f7" stroke="none" stroke-width="0.7" />
<path d="M218.80,158.00 L224.00,163.20 L218.80,168.40 L213.60,163.20 Z" fill="url(#dg26)" opacity="1.0"/>
<path d="M218.00,184.20 L223.00,189.20 L218.00,194.20 L213.00,189.20 Z" fill="url(#dg27)" opacity="1.0"/>
<path d="M218.80,208.60 L224.20,214.00 L218.80,219.40 L213.40,214.00 Z" fill="url(#dg28)" opacity="1.0"/>
<path d="M209.50,171.49 L210.55,171.85 L211.60,171.64 L212.65,171.92 L213.70,171.95 L214.75,171.28 L215.80,171.22 L216.85,172.20 L217.90,171.51 L218.95,171.48 L220.00,172.39 L221.05,171.76 L222.10,172.20 L223.15,171.77 L224.20,171.97 L225.25,171.38 L226.30,171.96 L227.35,172.24 L229.40,172.70 L231.55,164.73 L232.25,164.20 L234.85,176.40 L235.55,176.08 L237.95,163.43 L238.65,162.80 L241.65,179.20 L242.35,178.68 L244.65,161.38 L245.35,160.60 L248.65,181.00 L249.35,180.36 L252.25,167.89 L252.95,167.60 L255.45,177.80 L256.15,177.38 L258.00,170.50 L259.20,172.30 L260.20,171.83 L261.25,172.11 L262.30,172.02 L263.35,171.23 L264.40,172.14 L265.45,171.92 L266.50,171.54 L267.55,171.19 L268.60,172.28 L269.65,171.76 L270.70,172.08 L271.75,172.29 L272.80,172.08 L273.85,172.35 L274.90,171.66 L275.95,172.19 L277.00,171.73 L278.05,172.37 L279.40,171.80" fill="none" stroke="#5e2a7c" stroke-width="1.05" stroke-linejoin="round" stroke-linecap="round" />
<path d="M209.50,198.35 L210.55,198.49 L211.60,198.55 L212.65,198.73 L213.70,198.49 L214.75,198.71 L215.80,197.63 L216.85,198.16 L217.90,198.73 L218.95,198.38 L220.00,198.68 L221.05,197.74 L222.10,198.16 L223.15,197.90 L224.20,198.25 L225.25,198.29 L226.30,197.62 L227.35,197.86 L229.40,199.10 L231.55,186.57 L232.25,185.70 L234.85,205.20 L235.55,204.71 L237.95,184.71 L238.65,183.70 L241.65,209.20 L242.35,208.43 L244.65,183.78 L245.35,182.70 L248.65,211.20 L249.35,210.29 L252.25,192.16 L252.95,191.70 L255.45,208.70 L256.15,207.96 L258.00,196.90 L259.20,198.70 L260.20,197.91 L261.25,198.74 L262.30,198.55 L263.35,197.76 L264.40,198.59 L265.45,197.73 L266.50,198.35 L267.55,197.71 L268.60,197.55 L269.65,198.68 L270.70,197.82 L271.75,197.83 L272.80,198.83 L273.85,198.68 L274.90,197.93 L275.95,198.80 L277.00,198.25 L278.05,198.43 L279.40,198.20" fill="none" stroke="#d2aa30" stroke-width="1.05" stroke-linejoin="round" stroke-linecap="round" />
<path d="M209.50,221.56 L210.55,221.45 L211.60,221.17 L212.65,222.04 L213.70,221.01 L214.75,221.60 L215.80,222.08 L216.85,221.10 L217.90,221.67 L218.95,221.74 L220.00,221.05 L221.05,221.45 L222.10,221.84 L223.15,221.54 L224.20,221.87 L225.25,221.19 L226.30,221.29 L227.35,221.13 L229.40,222.50 L231.55,216.95 L232.25,216.60 L234.85,224.00 L235.55,223.83 L237.95,214.16 L238.65,213.60 L241.65,226.60 L242.35,226.25 L244.65,213.23 L245.35,212.60 L248.65,228.60 L249.35,228.11 L252.25,220.20 L252.95,220.10 L255.45,227.60 L256.15,227.18 L258.00,220.30 L259.20,222.10 L260.20,221.61 L261.25,222.15 L262.30,221.72 L263.35,221.96 L264.40,221.45 L265.45,221.92 L266.50,221.08 L267.55,221.33 L268.60,221.83 L269.65,221.89 L270.70,221.50 L271.75,221.06 L272.80,221.30 L273.85,221.22 L274.90,221.32 L275.95,222.00 L277.00,221.21 L278.05,222.10 L279.40,221.60" fill="none" stroke="#2a20b4" stroke-width="1.05" stroke-linejoin="round" stroke-linecap="round" />
<rect x="209.50" y="155.30" width="69.90" height="76.00" fill="none" stroke="#555" stroke-width="0.65" />
<text x="268.00" y="169.40" font-size="4.2" text-anchor="middle" fill="#333" stroke="#333" stroke-width="0.12" >Zr-MOF</text>
<text x="266.80" y="194.80" font-size="4.2" text-anchor="middle" fill="#333" stroke="#333" stroke-width="0.12" >CDs/Zr-MOF</text>
<text x="268.80" y="218.40" font-size="4.2" text-anchor="middle" fill="#333" stroke="#333" stroke-width="0.12" >C/ZrO<tspan font-size="2.9" dy="0.9">2</tspan></text>
<line x1="209.50" y1="231.30" x2="209.50" y2="232.80" stroke="#333" stroke-width="0.5" />
<text x="210.50" y="237.20" font-size="4.3" text-anchor="middle" fill="#333" stroke="#333" stroke-width="0.12" >3440</text>
<line x1="232.80" y1="231.30" x2="232.80" y2="232.80" stroke="#333" stroke-width="0.5" />
<text x="233.80" y="237.20" font-size="4.3" text-anchor="middle" fill="#333" stroke="#333" stroke-width="0.12" >3480</text>
<line x1="256.10" y1="231.30" x2="256.10" y2="232.80" stroke="#333" stroke-width="0.5" />
<text x="257.10" y="237.20" font-size="4.3" text-anchor="middle" fill="#333" stroke="#333" stroke-width="0.12" >3520</text>
<line x1="279.40" y1="231.30" x2="279.40" y2="232.80" stroke="#333" stroke-width="0.5" />
<text x="280.40" y="237.20" font-size="4.3" text-anchor="middle" fill="#333" stroke="#333" stroke-width="0.12" >3560</text>
<line x1="221.15" y1="231.30" x2="221.15" y2="232.20" stroke="#333" stroke-width="0.4" />
<line x1="244.45" y1="231.30" x2="244.45" y2="232.20" stroke="#333" stroke-width="0.4" />
<line x1="267.75" y1="231.30" x2="267.75" y2="232.20" stroke="#333" stroke-width="0.4" />
<text x="244.35" y="246.40" font-size="5.4" text-anchor="middle" fill="#333" stroke="#333" stroke-width="0.1" >Magnetic field strength (G)</text>
<text x="203.90" y="191.80" font-size="6.2" text-anchor="middle" fill="#333" stroke="#333" stroke-width="0.1" transform="rotate(-90 203.90 191.80)" >Intensity (a.u.)</text>
<text x="201.30" y="157.20" font-size="7" text-anchor="middle" fill="#111" stroke="#111" stroke-width="0.1" font-weight="bold" font-family='"Liberation Serif", serif' >(e)</text>
<line x1="319.28" y1="153.10" x2="319.28" y2="240.20" stroke="#7c7c7c" stroke-width="0.5" />
<line x1="324.89" y1="153.10" x2="324.89" y2="240.20" stroke="#7c7c7c" stroke-width="0.5" />
<line x1="327.28" y1="153.10" x2="327.28" y2="240.20" stroke="#7c7c7c" stroke-width="0.5" />
<line x1="333.46" y1="153.10" x2="333.46" y2="240.20" stroke="#70829c" stroke-width="0.5" />
<path d="M306.50,153.13 L306.64,153.08 L306.78,153.08 L306.92,153.06 L307.06,153.14 L307.20,153.13 L307.34,153.14 L307.48,153.13 L307.62,153.07 L307.76,153.14 L307.90,153.10 L308.04,153.13 L308.18,153.12 L308.33,153.11 L308.47,153.06 L308.61,153.09 L308.75,153.16 L308.89,153.13 L309.03,153.14 L309.17,153.06 L309.31,153.06 L309.45,153.06 L309.59,153.06 L309.73,153.07 L309.87,153.05 L310.01,153.06 L310.15,153.13 L310.29,153.06 L310.43,153.10 L310.57,153.07 L310.71,153.09 L310.85,153.11 L310.99,153.12 L311.13,153.11 L311.27,153.12 L311.41,153.15 L311.55,153.06 L311.69,153.06 L311.84,153.04 L311.98,153.08 L312.12,153.09 L312.26,153.07 L312.40,153.14 L312.54,153.08 L312.68,153.11 L312.82,153.14 L312.96,153.14 L313.10,153.10 L313.24,153.13 L313.38,153.10 L313.52,153.09 L313.66,153.11 L313.80,153.14 L313.94,153.10 L314.08,153.13 L314.22,153.13 L314.36,153.14 L314.50,153.12 L314.64,153.15 L314.78,153.08 L314.92,153.05 L315.06,153.11 L315.20,153.07 L315.35,153.05 L315.49,153.15 L315.63,153.14 L315.77,153.06 L315.91,153.06 L316.05,153.08 L316.19,153.14 L316.33,153.11 L316.47,153.06 L316.61,153.05 L316.75,153.06 L316.89,153.14 L317.03,153.06 L317.17,153.12 L317.31,153.07 L317.45,153.14 L317.59,153.04 L317.73,153.09 L317.87,153.07 L318.01,153.13 L318.15,153.09 L318.29,153.09 L318.43,153.09 L318.57,153.12 L318.71,153.07 L318.86,153.12 L319.00,153.12 L319.14,153.14 L319.28,153.08 L319.42,153.15 L319.56,153.13 L319.70,153.15 L319.84,153.08 L319.98,153.09 L320.12,153.09 L320.26,153.16 L320.40,153.11 L320.54,153.12 L320.68,153.15 L320.82,153.16 L320.96,153.04 L321.10,153.15 L321.24,153.12 L321.38,153.13 L321.52,153.09 L321.66,153.15 L321.80,153.10 L321.94,153.12 L322.08,153.06 L322.22,153.16 L322.37,153.12 L322.51,153.10 L322.65,153.04 L322.79,153.10 L322.93,153.10 L323.07,153.08 L323.21,153.12 L323.35,153.16 L323.49,153.10 L323.63,153.05 L323.77,153.07 L323.91,153.13 L324.05,153.08 L324.19,153.06 L324.33,153.13 L324.47,153.09 L324.61,153.12 L324.75,153.13 L324.89,153.13 L325.03,153.14 L325.17,153.12 L325.31,153.16 L325.45,153.11 L325.59,153.15 L325.73,153.07 L325.88,153.09 L326.02,153.16 L326.16,153.07 L326.30,153.14 L326.44,153.10 L326.58,153.09 L326.72,153.12 L326.86,153.13 L327.00,153.11 L327.14,153.14 L327.28,153.06 L327.42,153.15 L327.56,153.06 L327.70,153.13 L327.84,153.12 L327.98,153.11 L328.12,153.16 L328.26,153.14 L328.40,153.12 L328.54,153.11 L328.68,153.05 L328.82,153.04 L328.96,153.15 L329.10,153.10 L329.24,153.14 L329.39,153.06 L329.53,153.12 L329.67,153.05 L329.81,153.09 L329.95,153.14 L330.09,153.16 L330.23,153.13 L330.37,153.06 L330.51,153.14 L330.65,153.10 L330.79,153.12 L330.93,153.12 L331.07,153.06 L331.21,153.13 L331.35,153.07 L331.49,153.08 L331.63,153.05 L331.77,153.10 L331.91,153.05 L332.05,153.11 L332.19,153.09 L332.33,153.09 L332.47,153.06 L332.61,153.05 L332.75,153.12 L332.90,153.08 L333.04,152.93 L333.18,152.76 L333.32,152.65 L333.46,152.62 L333.60,152.60 L333.74,152.82 L333.88,152.99 L334.02,153.09 L334.16,153.13 L334.30,153.07 L334.44,153.15 L334.58,153.07 L334.72,153.06 L334.86,153.04 L335.00,153.06 L335.14,153.11 L335.28,153.09 L335.42,153.06 L335.56,153.07 L335.70,153.13 L335.84,153.07 L335.98,153.15 L336.12,153.12 L336.26,153.04 L336.41,153.10 L336.55,153.13 L336.69,153.07 L336.83,153.11 L336.97,153.16 L337.11,153.16 L337.25,153.13 L337.39,153.12 L337.53,153.05 L337.67,153.13 L337.81,153.06 L337.95,153.06 L338.09,153.11 L338.23,153.04 L338.37,153.07 L338.51,153.10 L338.65,153.13 L338.79,153.10 L338.93,153.05 L339.07,153.10 L339.21,153.14 L339.35,153.11 L339.49,153.10 L339.63,153.14 L339.77,153.09 L339.92,153.16 L340.06,153.06 L340.20,153.14 L340.34,153.15 L340.48,153.09 L340.62,153.12 L340.76,153.05 L340.90,153.10 L341.04,153.10 L341.18,153.06 L341.32,153.13 L341.46,153.07 L341.60,153.08 L341.74,153.11 L341.88,153.04 L342.02,153.16 L342.16,153.05 L342.30,153.14 L342.44,153.06 L342.58,153.14 L342.72,153.15 L342.86,153.10 L343.00,153.04 L343.14,153.12 L343.28,153.09 L343.43,153.08 L343.57,153.12 L343.71,153.09 L343.85,153.15 L343.99,153.09 L344.13,153.05 L344.27,153.10 L344.41,153.12 L344.55,153.13 L344.69,153.05 L344.83,153.08 L344.97,153.02 L345.11,153.04 L345.25,153.11 L345.39,153.01 L345.53,153.01 L345.67,153.01 L345.81,153.01 L345.95,153.02 L346.09,153.01 L346.23,153.01 L346.37,153.01 L346.51,153.04 L346.65,153.05 L346.79,152.97 L346.94,152.98 L347.08,153.03 L347.22,152.95 L347.36,152.94 L347.50,152.94 L347.64,152.90 L347.78,152.87 L347.92,152.91 L348.06,152.85 L348.20,152.87 L348.34,152.84 L348.48,152.84 L348.62,152.76 L348.76,152.79 L348.90,152.71 L349.04,152.76 L349.18,152.70 L349.32,152.64 L349.46,152.64 L349.60,152.65 L349.74,152.66 L349.88,152.58 L350.02,152.56 L350.16,152.48 L350.30,152.45 L350.45,152.40 L350.59,152.43 L350.73,152.40 L350.87,152.34 L351.01,152.28 L351.15,152.32 L351.29,152.26 L351.43,152.22 L351.57,152.14 L351.71,152.06 L351.85,151.86 L351.99,151.79 L352.13,151.49 L352.27,151.29 L352.41,150.97 L352.55,150.52 L352.69,150.26 L352.83,149.95 L352.97,149.72 L353.11,149.62 L353.25,149.62 L353.39,149.80 L353.53,150.04 L353.67,150.34 L353.81,150.52 L353.96,150.80 L354.10,150.90 L354.24,150.88 L354.38,150.75 L354.52,150.58 L354.66,150.28 L354.80,149.91 L354.94,149.49 L355.08,149.05 L355.22,148.74 L355.36,148.44 L355.50,148.16 L355.64,148.10 L355.78,148.18 L355.92,148.37 L356.06,148.77 L356.20,149.11 L356.34,149.58 L356.48,150.01 L356.62,150.41 L356.76,150.72 L356.90,150.92 L357.04,151.06 L357.18,151.05 L357.32,151.06 L357.47,150.84 L357.61,150.67 L357.75,150.30 L357.89,150.02 L358.03,149.61 L358.17,149.33 L358.31,149.24 L358.45,149.14 L358.59,149.32 L358.73,149.55 L358.87,149.92 L359.01,150.28 L359.15,150.75 L359.29,151.07 L359.43,151.44 L359.57,151.75 L359.71,151.94 L359.85,152.17 L359.99,152.28 L360.13,152.37 L360.27,152.48 L360.41,152.42 L360.55,152.56 L360.69,152.59 L360.83,152.54 L360.98,152.57 L361.12,152.64 L361.26,152.68 L361.40,152.74 L361.54,152.78 L361.68,152.74 L361.82,152.80 L361.96,152.83 L362.10,152.76 L362.24,152.89 L362.38,152.86 L362.52,152.84 L362.66,152.85 L362.80,152.95 L362.94,152.89 L363.08,152.92 L363.22,152.93 L363.36,152.90 L363.50,152.93 L363.64,152.97 L363.78,152.96 L363.92,153.00 L364.06,153.00 L364.20,152.98 L364.34,153.01 L364.49,153.04 L364.63,153.09 L364.77,153.01 L364.91,153.07 L365.05,153.06 L365.19,153.08 L365.33,153.05 L365.47,153.08 L365.61,153.03 L365.75,153.06 L365.89,153.07 L366.03,153.04 L366.17,153.09 L366.31,153.08 L366.45,153.05 L366.59,153.06 L366.73,153.06 L366.87,153.04 L367.01,153.08 L367.15,153.08 L367.29,153.13 L367.43,153.12 L367.57,153.10 L367.71,153.09 L367.85,153.05 L368.00,153.15 L368.14,153.11 L368.28,153.07 L368.42,153.10 L368.56,153.06 L368.70,153.14 L368.84,153.07 L368.98,153.11 L369.12,153.09 L369.26,153.15 L369.40,153.11 L369.54,153.06 L369.68,153.07 L369.82,153.09 L369.96,153.11 L370.10,153.15 L370.24,153.08 L370.38,153.11 L370.52,153.07 L370.66,153.09 L370.80,153.11 L370.94,153.05 L371.08,153.14 L371.22,153.04 L371.36,153.15 L371.51,153.04 L371.65,153.09 L371.79,153.11 L371.93,153.05 L372.07,153.10 L372.21,153.10 L372.35,153.15 L372.49,153.06 L372.63,153.08 L372.77,153.13 L372.91,153.15 L373.05,153.11 L373.19,153.05 L373.33,153.06 L373.47,153.10 L373.61,153.16 L373.75,153.06 L373.89,153.14 L374.03,153.07 L374.17,153.10 L374.31,153.04 L374.45,153.14 L374.59,153.06 L374.73,153.07 L374.87,153.16 L375.02,153.09 L375.16,153.12 L375.30,153.08 L375.44,153.04 L375.58,153.08 L375.72,153.10 L375.86,153.09 L376.00,153.13 L376.14,153.10 L376.28,153.15 L376.42,153.07 L376.56,153.15 L376.70,153.10" fill="none" stroke="#0a0a0a" stroke-width="1.1" stroke-linejoin="round" stroke-linecap="round" />
<path d="M306.50,171.20 L306.64,171.16 L306.78,171.14 L306.92,171.23 L307.06,171.17 L307.20,171.18 L307.34,171.18 L307.48,171.25 L307.62,171.26 L307.76,171.21 L307.90,171.17 L308.04,171.23 L308.18,171.20 L308.33,171.22 L308.47,171.16 L308.61,171.15 L308.75,171.21 L308.89,171.14 L309.03,171.25 L309.17,171.16 L309.31,171.15 L309.45,171.24 L309.59,171.18 L309.73,171.19 L309.87,171.15 L310.01,171.23 L310.15,171.20 L310.29,171.15 L310.43,171.18 L310.57,171.22 L310.71,171.25 L310.85,171.15 L310.99,171.20 L311.13,171.14 L311.27,171.24 L311.41,171.16 L311.55,171.16 L311.69,171.15 L311.84,171.26 L311.98,171.22 L312.12,171.25 L312.26,171.17 L312.40,171.22 L312.54,171.14 L312.68,171.22 L312.82,171.17 L312.96,171.16 L313.10,171.23 L313.24,171.19 L313.38,171.15 L313.52,171.20 L313.66,171.22 L313.80,171.23 L313.94,171.17 L314.08,171.24 L314.22,171.19 L314.36,171.19 L314.50,171.19 L314.64,171.24 L314.78,171.18 L314.92,171.15 L315.06,171.22 L315.20,171.22 L315.35,171.15 L315.49,171.19 L315.63,171.23 L315.77,171.26 L315.91,171.17 L316.05,171.22 L316.19,171.20 L316.33,171.23 L316.47,171.18 L316.61,171.17 L316.75,171.22 L316.89,171.25 L317.03,171.14 L317.17,171.15 L317.31,171.26 L317.45,171.19 L317.59,171.18 L317.73,171.21 L317.87,171.17 L318.01,171.14 L318.15,171.19 L318.29,171.21 L318.43,171.24 L318.57,171.23 L318.71,171.24 L318.86,171.25 L319.00,171.23 L319.14,171.16 L319.28,171.20 L319.42,171.16 L319.56,171.15 L319.70,171.16 L319.84,171.25 L319.98,171.15 L320.12,171.25 L320.26,171.17 L320.40,171.16 L320.54,171.18 L320.68,171.21 L320.82,171.25 L320.96,171.25 L321.10,171.18 L321.24,171.23 L321.38,171.20 L321.52,171.23 L321.66,171.24 L321.80,171.22 L321.94,171.17 L322.08,171.20 L322.22,171.21 L322.37,171.20 L322.51,171.19 L322.65,171.20 L322.79,171.21 L322.93,171.14 L323.07,171.17 L323.21,171.23 L323.35,171.22 L323.49,171.24 L323.63,171.22 L323.77,171.26 L323.91,171.17 L324.05,171.19 L324.19,171.21 L324.33,171.15 L324.47,171.22 L324.61,171.19 L324.75,171.15 L324.89,171.19 L325.03,171.19 L325.17,171.22 L325.31,171.14 L325.45,171.17 L325.59,171.22 L325.73,171.22 L325.88,171.19 L326.02,171.20 L326.16,171.20 L326.30,171.24 L326.44,171.19 L326.58,171.18 L326.72,171.17 L326.86,171.21 L327.00,171.21 L327.14,171.20 L327.28,171.20 L327.42,171.20 L327.56,171.26 L327.70,171.23 L327.84,171.14 L327.98,171.16 L328.12,171.20 L328.26,171.17 L328.40,171.23 L328.54,171.23 L328.68,171.20 L328.82,171.18 L328.96,171.26 L329.10,171.20 L329.24,171.15 L329.39,171.19 L329.53,171.14 L329.67,171.25 L329.81,171.15 L329.95,171.16 L330.09,171.26 L330.23,171.20 L330.37,171.17 L330.51,171.23 L330.65,171.18 L330.79,171.16 L330.93,171.16 L331.07,171.21 L331.21,171.25 L331.35,171.20 L331.49,171.24 L331.63,171.20 L331.77,171.23 L331.91,171.21 L332.05,171.17 L332.19,171.08 L332.33,170.91 L332.47,170.60 L332.61,169.85 L332.75,168.33 L332.90,166.17 L333.04,163.28 L333.18,160.31 L333.32,158.12 L333.46,157.17 L333.60,158.09 L333.74,160.37 L333.88,163.33 L334.02,166.15 L334.16,168.39 L334.30,169.79 L334.44,170.61 L334.58,171.01 L334.72,171.15 L334.86,171.15 L335.00,171.22 L335.14,171.23 L335.28,171.22 L335.42,171.23 L335.56,171.14 L335.70,171.17 L335.84,171.24 L335.98,171.22 L336.12,171.21 L336.26,171.20 L336.41,171.21 L336.55,171.20 L336.69,171.17 L336.83,171.24 L336.97,171.19 L337.11,171.24 L337.25,171.20 L337.39,171.22 L337.53,171.16 L337.67,171.15 L337.81,171.15 L337.95,171.21 L338.09,171.19 L338.23,171.24 L338.37,171.17 L338.51,171.17 L338.65,171.21 L338.79,171.22 L338.93,171.17 L339.07,171.17 L339.21,171.16 L339.35,171.23 L339.49,171.23 L339.63,171.23 L339.77,171.24 L339.92,171.26 L340.06,171.25 L340.20,171.20 L340.34,171.21 L340.48,171.15 L340.62,171.21 L340.76,171.24 L340.90,171.15 L341.04,171.25 L341.18,171.22 L341.32,171.17 L341.46,171.22 L341.60,171.14 L341.74,171.17 L341.88,171.22 L342.02,171.16 L342.16,171.15 L342.30,171.20 L342.44,171.24 L342.58,171.25 L342.72,171.16 L342.86,171.15 L343.00,171.18 L343.14,171.17 L343.28,171.16 L343.43,171.23 L343.57,171.23 L343.71,171.15 L343.85,171.16 L343.99,171.21 L344.13,171.22 L344.27,171.25 L344.41,171.21 L344.55,171.15 L344.69,171.23 L344.83,171.22 L344.97,171.25 L345.11,171.18 L345.25,171.25 L345.39,171.17 L345.53,171.19 L345.67,171.20 L345.81,171.22 L345.95,171.21 L346.09,171.14 L346.23,171.13 L346.37,171.15 L346.51,171.21 L346.65,171.21 L346.79,171.19 L346.94,171.12 L347.08,171.11 L347.22,171.19 L347.36,171.14 L347.50,171.17 L347.64,171.15 L347.78,171.18 L347.92,171.11 L348.06,171.09 L348.20,171.07 L348.34,171.12 L348.48,171.11 L348.62,171.08 L348.76,171.13 L348.90,171.03 L349.04,171.04 L349.18,171.09 L349.32,171.06 L349.46,171.03 L349.60,170.97 L349.74,170.97 L349.88,170.99 L350.02,170.86 L350.16,170.77 L350.30,170.64 L350.45,170.48 L350.59,170.22 L350.73,169.93 L350.87,169.58 L351.01,169.42 L351.15,169.27 L351.29,169.42 L351.43,169.61 L351.57,169.80 L351.71,170.09 L351.85,170.31 L351.99,170.50 L352.13,170.58 L352.27,170.59 L352.41,170.65 L352.55,170.61 L352.69,170.54 L352.83,170.54 L352.97,170.45 L353.11,170.32 L353.25,170.14 L353.39,169.82 L353.53,169.44 L353.67,169.09 L353.81,168.58 L353.96,168.17 L354.10,167.84 L354.24,167.75 L354.38,167.89 L354.52,168.11 L354.66,168.45 L354.80,168.87 L354.94,169.30 L355.08,169.71 L355.22,169.93 L355.36,170.09 L355.50,170.21 L355.64,170.21 L355.78,170.28 L355.92,170.24 L356.06,170.36 L356.20,170.27 L356.34,170.36 L356.48,170.32 L356.62,170.38 L356.76,170.35 L356.90,170.32 L357.04,170.26 L357.18,170.30 L357.32,170.12 L357.47,169.89 L357.61,169.40 L357.75,168.87 L357.89,168.11 L358.03,167.21 L358.17,166.54 L358.31,165.90 L358.45,165.79 L358.59,165.93 L358.73,166.62 L358.87,167.43 L359.01,168.25 L359.15,169.07 L359.29,169.67 L359.43,170.17 L359.57,170.46 L359.71,170.68 L359.85,170.77 L359.99,170.84 L360.13,170.83 L360.27,170.80 L360.41,170.86 L360.55,170.91 L360.69,170.91 L360.83,170.89 L360.98,170.90 L361.12,171.01 L361.26,170.96 L361.40,171.02 L361.54,170.95 L361.68,170.99 L361.82,171.02 L361.96,171.02 L362.10,171.03 L362.24,171.12 L362.38,171.10 L362.52,171.14 L362.66,171.14 L362.80,171.05 L362.94,171.11 L363.08,171.16 L363.22,171.15 L363.36,171.14 L363.50,171.19 L363.64,171.10 L363.78,171.13 L363.92,171.12 L364.06,170.96 L364.20,170.77 L364.34,170.42 L364.49,170.07 L364.63,169.66 L364.77,169.30 L364.91,169.19 L365.05,169.35 L365.19,169.61 L365.33,170.02 L365.47,170.43 L365.61,170.76 L365.75,170.99 L365.89,171.07 L366.03,171.19 L366.17,171.23 L366.31,171.23 L366.45,171.19 L366.59,171.23 L366.73,171.20 L366.87,171.16 L367.01,171.18 L367.15,171.23 L367.29,171.24 L367.43,171.26 L367.57,171.25 L367.71,171.23 L367.85,171.17 L368.00,171.16 L368.14,171.21 L368.28,171.25 L368.42,171.19 L368.56,171.15 L368.70,171.26 L368.84,171.18 L368.98,171.14 L369.12,171.22 L369.26,171.19 L369.40,171.16 L369.54,171.18 L369.68,171.24 L369.82,171.17 L369.96,171.19 L370.10,171.18 L370.24,171.19 L370.38,171.16 L370.52,171.19 L370.66,171.15 L370.80,171.25 L370.94,171.26 L371.08,171.24 L371.22,171.20 L371.36,171.17 L371.51,171.15 L371.65,171.26 L371.79,171.26 L371.93,171.21 L372.07,171.18 L372.21,171.21 L372.35,171.23 L372.49,171.24 L372.63,171.17 L372.77,171.19 L372.91,171.15 L373.05,171.22 L373.19,171.20 L373.33,171.14 L373.47,171.18 L373.61,171.23 L373.75,171.17 L373.89,171.21 L374.03,171.25 L374.17,171.25 L374.31,171.20 L374.45,171.22 L374.59,171.23 L374.73,171.17 L374.87,171.23 L375.02,171.21 L375.16,171.20 L375.30,171.26 L375.44,171.16 L375.58,171.23 L375.72,171.24 L375.86,171.20 L376.00,171.23 L376.14,171.26 L376.28,171.25 L376.42,171.26 L376.56,171.22 L376.70,171.22" fill="none" stroke="#3e0e06" stroke-width="1.1" stroke-linejoin="round" stroke-linecap="round" />
<path d="M306.50,187.98 L306.64,187.97 L306.78,188.00 L306.92,188.00 L307.06,188.01 L307.20,187.94 L307.34,188.03 L307.48,188.04 L307.62,188.03 L307.76,188.03 L307.90,188.02 L308.04,188.03 L308.18,188.05 L308.33,188.02 L308.47,188.02 L308.61,187.99 L308.75,188.04 L308.89,188.05 L309.03,188.04 L309.17,187.99 L309.31,188.01 L309.45,187.97 L309.59,187.96 L309.73,188.01 L309.87,188.05 L310.01,187.97 L310.15,187.97 L310.29,188.01 L310.43,187.98 L310.57,188.02 L310.71,187.95 L310.85,187.96 L310.99,187.96 L311.13,187.95 L311.27,188.03 L311.41,187.99 L311.55,187.97 L311.69,187.96 L311.84,188.01 L311.98,188.04 L312.12,187.98 L312.26,188.05 L312.40,187.98 L312.54,188.06 L312.68,188.01 L312.82,188.00 L312.96,188.05 L313.10,188.00 L313.24,188.00 L313.38,188.02 L313.52,187.95 L313.66,187.96 L313.80,187.95 L313.94,188.03 L314.08,188.06 L314.22,188.01 L314.36,188.05 L314.50,187.98 L314.64,188.03 L314.78,188.04 L314.92,188.03 L315.06,188.01 L315.20,187.97 L315.35,188.00 L315.49,188.02 L315.63,187.98 L315.77,188.05 L315.91,188.03 L316.05,187.98 L316.19,187.97 L316.33,188.05 L316.47,188.05 L316.61,188.00 L316.75,187.98 L316.89,188.06 L317.03,188.01 L317.17,188.03 L317.31,188.05 L317.45,188.04 L317.59,188.02 L317.73,187.99 L317.87,188.01 L318.01,187.91 L318.15,187.80 L318.29,187.71 L318.43,187.60 L318.57,187.30 L318.71,187.01 L318.86,186.79 L319.00,186.47 L319.14,186.25 L319.28,186.15 L319.42,186.22 L319.56,186.45 L319.70,186.72 L319.84,186.97 L319.98,187.35 L320.12,187.55 L320.26,187.78 L320.40,187.81 L320.54,187.90 L320.68,188.00 L320.82,188.02 L320.96,187.99 L321.10,187.97 L321.24,188.04 L321.38,188.02 L321.52,188.00 L321.66,188.03 L321.80,187.95 L321.94,187.97 L322.08,187.95 L322.22,187.98 L322.37,187.98 L322.51,188.03 L322.65,188.00 L322.79,188.01 L322.93,188.00 L323.07,188.04 L323.21,187.94 L323.35,187.99 L323.49,187.91 L323.63,187.76 L323.77,187.66 L323.91,187.39 L324.05,187.12 L324.19,186.64 L324.33,186.09 L324.47,185.47 L324.61,184.85 L324.75,184.30 L324.89,183.89 L325.03,183.74 L325.17,183.97 L325.31,184.26 L325.45,184.79 L325.59,185.39 L325.73,185.98 L325.88,186.37 L326.02,186.60 L326.16,186.60 L326.30,186.36 L326.44,186.00 L326.58,185.53 L326.72,185.07 L326.86,184.65 L327.00,184.60 L327.14,184.67 L327.28,185.12 L327.42,185.58 L327.56,186.16 L327.70,186.68 L327.84,187.15 L327.98,187.44 L328.12,187.70 L328.26,187.91 L328.40,187.91 L328.54,187.95 L328.68,188.02 L328.82,187.97 L328.96,187.96 L329.10,188.03 L329.24,188.04 L329.39,188.03 L329.53,187.99 L329.67,188.01 L329.81,188.05 L329.95,188.01 L330.09,187.99 L330.23,187.99 L330.37,188.02 L330.51,187.97 L330.65,187.98 L330.79,188.03 L330.93,188.02 L331.07,187.95 L331.21,188.03 L331.35,188.01 L331.49,188.02 L331.63,187.99 L331.77,187.96 L331.91,188.04 L332.05,188.03 L332.19,188.01 L332.33,187.90 L332.47,187.56 L332.61,186.85 L332.75,185.35 L332.90,182.95 L333.04,179.52 L333.18,175.78 L333.32,172.71 L333.46,171.52 L333.60,172.71 L333.74,175.69 L333.88,179.53 L334.02,182.99 L334.16,185.40 L334.30,186.89 L334.44,187.60 L334.58,187.84 L334.72,188.01 L334.86,187.96 L335.00,188.01 L335.14,188.05 L335.28,187.98 L335.42,187.94 L335.56,187.97 L335.70,187.96 L335.84,187.95 L335.98,188.03 L336.12,188.00 L336.26,187.97 L336.41,188.01 L336.55,187.94 L336.69,188.01 L336.83,188.06 L336.97,188.05 L337.11,188.01 L337.25,188.06 L337.39,187.99 L337.53,187.94 L337.67,187.95 L337.81,187.94 L337.95,188.03 L338.09,188.04 L338.23,188.05 L338.37,187.95 L338.51,188.06 L338.65,188.05 L338.79,187.98 L338.93,187.95 L339.07,188.00 L339.21,188.05 L339.35,188.06 L339.49,187.96 L339.63,187.98 L339.77,188.02 L339.92,187.94 L340.06,188.03 L340.20,188.04 L340.34,187.94 L340.48,188.05 L340.62,188.02 L340.76,188.04 L340.90,187.98 L341.04,188.00 L341.18,188.03 L341.32,187.98 L341.46,188.05 L341.60,187.94 L341.74,187.97 L341.88,188.03 L342.02,187.99 L342.16,188.03 L342.30,187.99 L342.44,188.02 L342.58,188.03 L342.72,188.00 L342.86,188.05 L343.00,187.94 L343.14,187.96 L343.28,188.03 L343.43,187.99 L343.57,188.04 L343.71,188.04 L343.85,188.01 L343.99,187.97 L344.13,188.05 L344.27,187.95 L344.41,188.03 L344.55,188.04 L344.69,188.00 L344.83,187.95 L344.97,188.00 L345.11,187.99 L345.25,187.93 L345.39,187.99 L345.53,188.01 L345.67,188.03 L345.81,187.98 L345.95,187.97 L346.09,187.97 L346.23,188.02 L346.37,188.04 L346.51,187.92 L346.65,187.95 L346.79,187.93 L346.94,187.92 L347.08,187.97 L347.22,187.99 L347.36,187.89 L347.50,187.89 L347.64,187.99 L347.78,187.91 L347.92,187.92 L348.06,187.97 L348.20,187.89 L348.34,187.87 L348.48,187.88 L348.62,187.89 L348.76,187.81 L348.90,187.82 L349.04,187.85 L349.18,187.77 L349.32,187.74 L349.46,187.78 L349.60,187.74 L349.74,187.78 L349.88,187.75 L350.02,187.64 L350.16,187.61 L350.30,187.58 L350.45,187.65 L350.59,187.56 L350.73,187.56 L350.87,187.55 L351.01,187.43 L351.15,187.46 L351.29,187.38 L351.43,187.22 L351.57,187.05 L351.71,186.75 L351.85,186.37 L351.99,185.98 L352.13,185.49 L352.27,185.15 L352.41,184.91 L352.55,184.74 L352.69,184.86 L352.83,185.00 L352.97,185.39 L353.11,185.72 L353.25,186.08 L353.39,186.30 L353.53,186.58 L353.67,186.66 L353.81,186.67 L353.96,186.58 L354.10,186.46 L354.24,186.16 L354.38,185.87 L354.52,185.50 L354.66,185.11 L354.80,184.65 L354.94,184.26 L355.08,183.95 L355.22,183.72 L355.36,183.64 L355.50,183.66 L355.64,183.91 L355.78,184.35 L355.92,184.74 L356.06,185.21 L356.20,185.56 L356.34,185.92 L356.48,186.12 L356.62,186.23 L356.76,186.17 L356.90,185.95 L357.04,185.54 L357.18,185.14 L357.32,184.48 L357.47,183.92 L357.61,183.40 L357.75,183.14 L357.89,183.03 L358.03,183.12 L358.17,183.51 L358.31,184.16 L358.45,184.81 L358.59,185.47 L358.73,186.06 L358.87,186.47 L359.01,186.90 L359.15,187.17 L359.29,187.29 L359.43,187.44 L359.57,187.48 L359.71,187.57 L359.85,187.63 L359.99,187.71 L360.13,187.68 L360.27,187.71 L360.41,187.72 L360.55,187.71 L360.69,187.79 L360.83,187.78 L360.98,187.77 L361.12,187.77 L361.26,187.80 L361.40,187.88 L361.54,187.83 L361.68,187.86 L361.82,187.91 L361.96,187.89 L362.10,187.87 L362.24,187.88 L362.38,187.96 L362.52,187.94 L362.66,187.92 L362.80,187.99 L362.94,187.92 L363.08,187.92 L363.22,187.95 L363.36,187.91 L363.50,187.99 L363.64,188.00 L363.78,187.92 L363.92,187.97 L364.06,188.04 L364.20,187.99 L364.34,188.01 L364.49,187.95 L364.63,187.93 L364.77,188.03 L364.91,187.97 L365.05,187.95 L365.19,188.04 L365.33,188.00 L365.47,188.05 L365.61,188.01 L365.75,187.99 L365.89,187.97 L366.03,188.02 L366.17,187.98 L366.31,187.99 L366.45,188.01 L366.59,188.00 L366.73,187.96 L366.87,187.96 L367.01,188.01 L367.15,187.96 L367.29,188.01 L367.43,188.00 L367.57,188.03 L367.71,188.00 L367.85,188.05 L368.00,187.96 L368.14,188.02 L368.28,188.02 L368.42,187.96 L368.56,187.98 L368.70,188.01 L368.84,187.96 L368.98,187.99 L369.12,187.96 L369.26,188.03 L369.40,187.97 L369.54,187.95 L369.68,188.01 L369.82,187.97 L369.96,187.94 L370.10,187.99 L370.24,187.97 L370.38,188.05 L370.52,188.05 L370.66,187.96 L370.80,187.97 L370.94,188.04 L371.08,187.96 L371.22,188.04 L371.36,187.96 L371.51,187.95 L371.65,188.00 L371.79,188.02 L371.93,187.97 L372.07,187.96 L372.21,188.04 L372.35,188.00 L372.49,187.98 L372.63,187.97 L372.77,188.06 L372.91,187.96 L373.05,187.99 L373.19,187.96 L373.33,188.04 L373.47,188.01 L373.61,187.98 L373.75,187.95 L373.89,188.01 L374.03,187.95 L374.17,188.00 L374.31,187.95 L374.45,187.94 L374.59,188.05 L374.73,188.04 L374.87,188.02 L375.02,188.00 L375.16,187.97 L375.30,187.99 L375.44,188.02 L375.58,188.04 L375.72,188.01 L375.86,187.94 L376.00,188.04 L376.14,188.04 L376.28,188.00 L376.42,188.04 L376.56,187.96 L376.70,188.00" fill="none" stroke="#5e1a08" stroke-width="1.1" stroke-linejoin="round" stroke-linecap="round" />
<path d="M306.50,204.15 L306.64,204.15 L306.78,204.15 L306.92,204.25 L307.06,204.19 L307.20,204.21 L307.34,204.20 L307.48,204.24 L307.62,204.24 L307.76,204.21 L307.90,204.23 L308.04,204.21 L308.18,204.26 L308.33,204.25 L308.47,204.17 L308.61,204.21 L308.75,204.20 L308.89,204.17 L309.03,204.22 L309.17,204.25 L309.31,204.17 L309.45,204.19 L309.59,204.18 L309.73,204.19 L309.87,204.14 L310.01,204.22 L310.15,204.17 L310.29,204.22 L310.43,204.19 L310.57,204.18 L310.71,204.22 L310.85,204.25 L310.99,204.20 L311.13,204.17 L311.27,204.19 L311.41,204.21 L311.55,204.18 L311.69,204.24 L311.84,204.24 L311.98,204.22 L312.12,204.16 L312.26,204.24 L312.40,204.25 L312.54,204.25 L312.68,204.26 L312.82,204.23 L312.96,204.19 L313.10,204.16 L313.24,204.22 L313.38,204.22 L313.52,204.23 L313.66,204.22 L313.80,204.17 L313.94,204.19 L314.08,204.23 L314.22,204.25 L314.36,204.17 L314.50,204.18 L314.64,204.16 L314.78,204.23 L314.92,204.19 L315.06,204.15 L315.20,204.19 L315.35,204.15 L315.49,204.24 L315.63,204.14 L315.77,204.25 L315.91,204.21 L316.05,204.26 L316.19,204.16 L316.33,204.18 L316.47,204.14 L316.61,204.16 L316.75,204.15 L316.89,204.20 L317.03,204.14 L317.17,204.17 L317.31,204.22 L317.45,204.14 L317.59,204.21 L317.73,204.22 L317.87,204.22 L318.01,204.13 L318.15,204.10 L318.29,203.91 L318.43,203.75 L318.57,203.62 L318.71,203.38 L318.86,203.07 L319.00,202.87 L319.14,202.66 L319.28,202.56 L319.42,202.69 L319.56,202.84 L319.70,203.02 L319.84,203.34 L319.98,203.61 L320.12,203.75 L320.26,203.92 L320.40,204.02 L320.54,204.11 L320.68,204.18 L320.82,204.16 L320.96,204.15 L321.10,204.18 L321.24,204.23 L321.38,204.22 L321.52,204.21 L321.66,204.17 L321.80,204.19 L321.94,204.19 L322.08,204.16 L322.22,204.25 L322.37,204.18 L322.51,204.22 L322.65,204.19 L322.79,204.16 L322.93,204.23 L323.07,204.14 L323.21,204.24 L323.35,204.17 L323.49,204.14 L323.63,204.12 L323.77,203.97 L323.91,203.81 L324.05,203.55 L324.19,203.14 L324.33,202.74 L324.47,202.15 L324.61,201.53 L324.75,201.10 L324.89,200.66 L325.03,200.60 L325.17,200.63 L325.31,200.95 L325.45,201.28 L325.59,201.62 L325.73,201.86 L325.88,201.76 L326.02,201.52 L326.16,201.03 L326.30,200.46 L326.44,199.90 L326.58,199.51 L326.72,199.40 L326.86,199.51 L327.00,200.07 L327.14,200.64 L327.28,201.40 L327.42,202.18 L327.56,202.79 L327.70,203.30 L327.84,203.66 L327.98,203.93 L328.12,204.07 L328.26,204.15 L328.40,204.19 L328.54,204.13 L328.68,204.21 L328.82,204.21 L328.96,204.21 L329.10,204.16 L329.24,204.20 L329.39,204.19 L329.53,204.23 L329.67,204.23 L329.81,204.25 L329.95,204.23 L330.09,204.23 L330.23,204.16 L330.37,204.20 L330.51,204.25 L330.65,204.20 L330.79,204.25 L330.93,204.19 L331.07,204.21 L331.21,204.16 L331.35,204.23 L331.49,204.16 L331.63,204.23 L331.77,204.14 L331.91,204.18 L332.05,204.25 L332.19,204.12 L332.33,204.09 L332.47,203.79 L332.61,203.13 L332.75,201.64 L332.90,199.35 L333.04,195.95 L333.18,192.31 L333.32,189.32 L333.46,188.22 L333.60,189.39 L333.74,192.25 L333.88,195.96 L334.02,199.34 L334.16,201.62 L334.30,203.03 L334.44,203.81 L334.58,204.12 L334.72,204.15 L334.86,204.23 L335.00,204.17 L335.14,204.20 L335.28,204.17 L335.42,204.19 L335.56,204.17 L335.70,204.16 L335.84,204.19 L335.98,204.19 L336.12,204.22 L336.26,204.24 L336.41,204.25 L336.55,204.16 L336.69,204.24 L336.83,204.21 L336.97,204.22 L337.11,204.19 L337.25,204.20 L337.39,204.16 L337.53,204.21 L337.67,204.22 L337.81,204.18 L337.95,204.17 L338.09,204.15 L338.23,204.22 L338.37,204.15 L338.51,204.14 L338.65,204.14 L338.79,204.24 L338.93,204.21 L339.07,204.17 L339.21,204.16 L339.35,204.26 L339.49,204.21 L339.63,204.17 L339.77,204.17 L339.92,204.20 L340.06,204.23 L340.20,204.21 L340.34,204.25 L340.48,204.22 L340.62,204.21 L340.76,204.16 L340.90,204.19 L341.04,204.21 L341.18,204.23 L341.32,204.22 L341.46,204.18 L341.60,204.21 L341.74,204.24 L341.88,204.16 L342.02,204.19 L342.16,204.14 L342.30,204.20 L342.44,204.19 L342.58,204.21 L342.72,204.19 L342.86,204.15 L343.00,204.14 L343.14,204.18 L343.28,204.21 L343.43,204.25 L343.57,204.16 L343.71,204.21 L343.85,204.21 L343.99,204.25 L344.13,204.26 L344.27,204.21 L344.41,204.14 L344.55,204.17 L344.69,204.17 L344.83,204.18 L344.97,204.23 L345.11,204.24 L345.25,204.19 L345.39,204.25 L345.53,204.19 L345.67,204.19 L345.81,204.19 L345.95,204.24 L346.09,204.25 L346.23,204.20 L346.37,204.23 L346.51,204.17 L346.65,204.21 L346.79,204.17 L346.94,204.15 L347.08,204.17 L347.22,204.18 L347.36,204.21 L347.50,204.19 L347.64,204.11 L347.78,204.19 L347.92,204.18 L348.06,204.15 L348.20,204.14 L348.34,204.10 L348.48,204.15 L348.62,204.07 L348.76,204.17 L348.90,204.07 L349.04,204.08 L349.18,204.03 L349.32,204.10 L349.46,204.02 L349.60,203.97 L349.74,203.99 L349.88,204.04 L350.02,203.92 L350.16,203.89 L350.30,203.96 L350.45,203.85 L350.59,203.90 L350.73,203.87 L350.87,203.74 L351.01,203.69 L351.15,203.60 L351.29,203.56 L351.43,203.48 L351.57,203.40 L351.71,203.24 L351.85,203.05 L351.99,202.93 L352.13,202.72 L352.27,202.62 L352.41,202.37 L352.55,202.20 L352.69,202.12 L352.83,201.90 L352.97,201.87 L353.11,201.80 L353.25,201.78 L353.39,201.71 L353.53,201.80 L353.67,201.74 L353.81,201.90 L353.96,201.84 L354.10,201.86 L354.24,201.87 L354.38,201.83 L354.52,201.71 L354.66,201.59 L354.80,201.48 L354.94,201.20 L355.08,201.04 L355.22,200.78 L355.36,200.57 L355.50,200.32 L355.64,200.21 L355.78,200.02 L355.92,200.03 L356.06,199.96 L356.20,199.91 L356.34,199.95 L356.48,199.99 L356.62,200.14 L356.76,200.16 L356.90,200.26 L357.04,200.44 L357.18,200.55 L357.32,200.62 L357.47,200.72 L357.61,200.92 L357.75,201.13 L357.89,201.33 L358.03,201.52 L358.17,201.79 L358.31,202.04 L358.45,202.28 L358.59,202.48 L358.73,202.72 L358.87,202.92 L359.01,203.17 L359.15,203.29 L359.29,203.39 L359.43,203.51 L359.57,203.57 L359.71,203.65 L359.85,203.80 L359.99,203.81 L360.13,203.87 L360.27,203.92 L360.41,203.92 L360.55,203.89 L360.69,203.94 L360.83,204.04 L360.98,204.04 L361.12,204.04 L361.26,204.00 L361.40,204.07 L361.54,204.12 L361.68,204.08 L361.82,204.13 L361.96,204.17 L362.10,204.11 L362.24,204.07 L362.38,204.11 L362.52,204.12 L362.66,204.19 L362.80,204.15 L362.94,204.15 L363.08,204.14 L363.22,204.18 L363.36,204.23 L363.50,204.13 L363.64,204.21 L363.78,204.16 L363.92,204.19 L364.06,204.16 L364.20,204.21 L364.34,204.24 L364.49,204.20 L364.63,204.20 L364.77,204.16 L364.91,204.21 L365.05,204.18 L365.19,204.21 L365.33,204.17 L365.47,204.24 L365.61,204.15 L365.75,204.15 L365.89,204.26 L366.03,204.16 L366.17,204.17 L366.31,204.18 L366.45,204.25 L366.59,204.17 L366.73,204.17 L366.87,204.18 L367.01,204.14 L367.15,204.15 L367.29,204.18 L367.43,204.15 L367.57,204.24 L367.71,204.22 L367.85,204.20 L368.00,204.20 L368.14,204.15 L368.28,204.18 L368.42,204.19 L368.56,204.19 L368.70,204.15 L368.84,204.21 L368.98,204.17 L369.12,204.19 L369.26,204.21 L369.40,204.22 L369.54,204.24 L369.68,204.26 L369.82,204.22 L369.96,204.22 L370.10,204.25 L370.24,204.20 L370.38,204.22 L370.52,204.15 L370.66,204.17 L370.80,204.18 L370.94,204.16 L371.08,204.23 L371.22,204.25 L371.36,204.19 L371.51,204.23 L371.65,204.14 L371.79,204.21 L371.93,204.15 L372.07,204.23 L372.21,204.25 L372.35,204.18 L372.49,204.18 L372.63,204.23 L372.77,204.15 L372.91,204.14 L373.05,204.18 L373.19,204.14 L373.33,204.14 L373.47,204.24 L373.61,204.17 L373.75,204.17 L373.89,204.17 L374.03,204.22 L374.17,204.19 L374.31,204.19 L374.45,204.16 L374.59,204.25 L374.73,204.21 L374.87,204.22 L375.02,204.17 L375.16,204.25 L375.30,204.25 L375.44,204.25 L375.58,204.25 L375.72,204.21 L375.86,204.16 L376.00,204.22 L376.14,204.25 L376.28,204.18 L376.42,204.22 L376.56,204.19 L376.70,204.17" fill="none" stroke="#6a220a" stroke-width="1.1" stroke-linejoin="round" stroke-linecap="round" />
<path d="M306.50,219.99 L306.64,220.02 L306.78,219.96 L306.92,220.03 L307.06,220.00 L307.20,220.02 L307.34,220.01 L307.48,219.94 L307.62,220.05 L307.76,220.01 L307.90,220.03 L308.04,220.02 L308.18,219.94 L308.33,220.02 L308.47,219.99 L308.61,220.01 L308.75,219.97 L308.89,220.01 L309.03,220.04 L309.17,220.01 L309.31,220.01 L309.45,219.96 L309.59,219.99 L309.73,220.04 L309.87,219.98 L310.01,220.02 L310.15,220.00 L310.29,220.03 L310.43,220.01 L310.57,219.97 L310.71,220.00 L310.85,219.97 L310.99,219.97 L311.13,219.99 L311.27,219.98 L311.41,220.01 L311.55,219.99 L311.69,219.97 L311.84,220.05 L311.98,219.95 L312.12,220.02 L312.26,220.04 L312.40,220.04 L312.54,220.02 L312.68,220.05 L312.82,220.01 L312.96,220.01 L313.10,219.98 L313.24,220.00 L313.38,219.95 L313.52,219.98 L313.66,220.02 L313.80,219.96 L313.94,219.98 L314.08,219.94 L314.22,219.97 L314.36,219.94 L314.50,220.04 L314.64,220.03 L314.78,219.94 L314.92,220.06 L315.06,219.95 L315.20,219.95 L315.35,220.04 L315.49,220.04 L315.63,219.95 L315.77,219.94 L315.91,219.96 L316.05,219.97 L316.19,219.97 L316.33,220.02 L316.47,220.06 L316.61,219.98 L316.75,219.95 L316.89,219.94 L317.03,219.99 L317.17,220.05 L317.31,220.02 L317.45,219.95 L317.59,219.91 L317.73,219.81 L317.87,219.55 L318.01,219.12 L318.15,218.56 L318.29,217.67 L318.43,216.47 L318.57,215.02 L318.71,213.29 L318.86,211.65 L319.00,210.33 L319.14,209.32 L319.28,208.95 L319.42,209.37 L319.56,210.31 L319.70,211.65 L319.84,213.30 L319.98,214.95 L320.12,216.39 L320.26,217.61 L320.40,218.53 L320.54,219.10 L320.68,219.48 L320.82,219.80 L320.96,219.90 L321.10,219.97 L321.24,219.93 L321.38,220.02 L321.52,219.98 L321.66,220.01 L321.80,220.01 L321.94,220.00 L322.08,219.95 L322.22,219.98 L322.37,220.01 L322.51,220.04 L322.65,220.02 L322.79,220.00 L322.93,219.97 L323.07,219.91 L323.21,219.95 L323.35,219.80 L323.49,219.64 L323.63,219.41 L323.77,218.95 L323.91,218.19 L324.05,217.01 L324.19,215.62 L324.33,213.76 L324.47,211.73 L324.61,209.77 L324.75,208.05 L324.89,206.79 L325.03,206.42 L325.17,206.74 L325.31,207.79 L325.45,209.43 L325.59,211.18 L325.73,212.74 L325.88,213.77 L326.02,214.14 L326.16,213.79 L326.30,212.67 L326.44,211.14 L326.58,209.40 L326.72,207.89 L326.86,206.78 L327.00,206.32 L327.14,206.87 L327.28,208.01 L327.42,209.69 L327.56,211.78 L327.70,213.81 L327.84,215.57 L327.98,217.09 L328.12,218.18 L328.26,218.93 L328.40,219.43 L328.54,219.67 L328.68,219.82 L328.82,219.90 L328.96,219.91 L329.10,220.04 L329.24,220.02 L329.39,219.94 L329.53,219.96 L329.67,219.97 L329.81,220.03 L329.95,220.04 L330.09,220.03 L330.23,219.95 L330.37,219.97 L330.51,220.02 L330.65,219.98 L330.79,219.97 L330.93,220.03 L331.07,220.05 L331.21,219.96 L331.35,219.97 L331.49,219.96 L331.63,219.97 L331.77,220.01 L331.91,219.98 L332.05,220.00 L332.19,219.91 L332.33,219.90 L332.47,219.55 L332.61,218.90 L332.75,217.43 L332.90,215.06 L333.04,211.81 L333.18,208.15 L333.32,205.17 L333.46,203.94 L333.60,205.10 L333.74,208.06 L333.88,211.80 L334.02,215.12 L334.16,217.47 L334.30,218.86 L334.44,219.54 L334.58,219.89 L334.72,219.89 L334.86,219.99 L335.00,219.94 L335.14,219.99 L335.28,219.98 L335.42,219.91 L335.56,219.98 L335.70,219.94 L335.84,219.89 L335.98,219.89 L336.12,219.90 L336.26,219.95 L336.41,219.89 L336.55,219.90 L336.69,219.92 L336.83,219.85 L336.97,219.85 L337.11,219.81 L337.25,219.86 L337.39,219.88 L337.53,219.85 L337.67,219.78 L337.81,219.77 L337.95,219.77 L338.09,219.78 L338.23,219.75 L338.37,219.79 L338.51,219.78 L338.65,219.68 L338.79,219.74 L338.93,219.67 L339.07,219.69 L339.21,219.69 L339.35,219.60 L339.49,219.58 L339.63,219.63 L339.77,219.64 L339.92,219.59 L340.06,219.62 L340.20,219.50 L340.34,219.61 L340.48,219.54 L340.62,219.57 L340.76,219.58 L340.90,219.46 L341.04,219.49 L341.18,219.48 L341.32,219.47 L341.46,219.47 L341.60,219.49 L341.74,219.48 L341.88,219.52 L342.02,219.55 L342.16,219.48 L342.30,219.49 L342.44,219.49 L342.58,219.51 L342.72,219.59 L342.86,219.53 L343.00,219.61 L343.14,219.53 L343.28,219.64 L343.43,219.62 L343.57,219.60 L343.71,219.58 L343.85,219.62 L343.99,219.70 L344.13,219.64 L344.27,219.72 L344.41,219.72 L344.55,219.73 L344.69,219.69 L344.83,219.78 L344.97,219.78 L345.11,219.80 L345.25,219.82 L345.39,219.83 L345.53,219.83 L345.67,219.86 L345.81,219.87 L345.95,219.90 L346.09,219.85 L346.23,219.85 L346.37,219.91 L346.51,219.90 L346.65,219.89 L346.79,219.85 L346.94,219.86 L347.08,219.97 L347.22,219.88 L347.36,219.90 L347.50,219.98 L347.64,219.99 L347.78,219.96 L347.92,219.99 L348.06,219.99 L348.20,219.98 L348.34,219.97 L348.48,219.97 L348.62,220.03 L348.76,219.99 L348.90,220.01 L349.04,219.93 L349.18,220.02 L349.32,220.02 L349.46,219.99 L349.60,220.00 L349.74,219.92 L349.88,220.00 L350.02,219.88 L350.16,219.90 L350.30,219.85 L350.45,219.87 L350.59,219.79 L350.73,219.76 L350.87,219.61 L351.01,219.55 L351.15,219.47 L351.29,219.33 L351.43,219.22 L351.57,219.05 L351.71,218.81 L351.85,218.57 L351.99,218.38 L352.13,218.25 L352.27,218.05 L352.41,217.82 L352.55,217.67 L352.69,217.48 L352.83,217.42 L352.97,217.31 L353.11,217.18 L353.25,217.23 L353.39,217.19 L353.53,217.25 L353.67,217.31 L353.81,217.35 L353.96,217.43 L354.10,217.59 L354.24,217.65 L354.38,217.85 L354.52,217.95 L354.66,218.05 L354.80,218.13 L354.94,218.13 L355.08,218.28 L355.22,218.24 L355.36,218.29 L355.50,218.32 L355.64,218.35 L355.78,218.31 L355.92,218.42 L356.06,218.31 L356.20,218.38 L356.34,218.40 L356.48,218.43 L356.62,218.35 L356.76,218.46 L356.90,218.39 L357.04,218.49 L357.18,218.44 L357.32,218.52 L357.47,218.53 L357.61,218.69 L357.75,218.72 L357.89,218.70 L358.03,218.88 L358.17,218.92 L358.31,218.98 L358.45,219.03 L358.59,219.08 L358.73,219.18 L358.87,219.25 L359.01,219.32 L359.15,219.38 L359.29,219.40 L359.43,219.43 L359.57,219.53 L359.71,219.61 L359.85,219.58 L359.99,219.70 L360.13,219.69 L360.27,219.72 L360.41,219.78 L360.55,219.84 L360.69,219.86 L360.83,219.84 L360.98,219.83 L361.12,219.85 L361.26,219.92 L361.40,219.91 L361.54,219.95 L361.68,219.98 L361.82,219.92 L361.96,219.95 L362.10,219.99 L362.24,220.02 L362.38,219.96 L362.52,220.04 L362.66,219.96 L362.80,220.05 L362.94,219.95 L363.08,220.05 L363.22,220.05 L363.36,219.95 L363.50,219.98 L363.64,220.00 L363.78,220.03 L363.92,219.97 L364.06,220.04 L364.20,219.95 L364.34,219.97 L364.49,219.97 L364.63,219.94 L364.77,219.94 L364.91,219.95 L365.05,220.06 L365.19,220.02 L365.33,220.05 L365.47,220.01 L365.61,219.96 L365.75,219.96 L365.89,219.99 L366.03,220.02 L366.17,220.05 L366.31,219.98 L366.45,220.02 L366.59,220.01 L366.73,220.06 L366.87,219.96 L367.01,220.04 L367.15,220.04 L367.29,220.01 L367.43,220.04 L367.57,220.01 L367.71,219.95 L367.85,220.00 L368.00,220.06 L368.14,220.00 L368.28,219.98 L368.42,219.95 L368.56,219.98 L368.70,219.94 L368.84,219.97 L368.98,219.99 L369.12,219.97 L369.26,219.95 L369.40,219.95 L369.54,220.04 L369.68,219.95 L369.82,220.00 L369.96,219.97 L370.10,219.98 L370.24,220.04 L370.38,220.00 L370.52,220.06 L370.66,220.00 L370.80,220.03 L370.94,220.05 L371.08,220.00 L371.22,220.00 L371.36,220.05 L371.51,219.98 L371.65,219.95 L371.79,219.99 L371.93,220.02 L372.07,220.00 L372.21,220.02 L372.35,220.00 L372.49,219.97 L372.63,219.97 L372.77,220.03 L372.91,219.94 L373.05,219.94 L373.19,220.01 L373.33,220.01 L373.47,220.02 L373.61,220.06 L373.75,219.98 L373.89,219.97 L374.03,220.01 L374.17,220.03 L374.31,219.98 L374.45,220.06 L374.59,220.00 L374.73,220.03 L374.87,220.04 L375.02,219.96 L375.16,219.95 L375.30,220.02 L375.44,219.97 L375.58,220.04 L375.72,219.96 L375.86,219.99 L376.00,219.95 L376.14,219.95 L376.28,220.01 L376.42,219.99 L376.56,219.96 L376.70,219.99" fill="none" stroke="#7a2c0c" stroke-width="1.1" stroke-linejoin="round" stroke-linecap="round" />
<path d="M306.50,236.16 L306.64,236.15 L306.78,236.11 L306.92,236.08 L307.06,236.14 L307.20,236.15 L307.34,236.13 L307.48,236.07 L307.62,236.14 L307.76,236.07 L307.90,236.08 L308.04,236.14 L308.18,236.10 L308.33,236.11 L308.47,236.11 L308.61,236.04 L308.75,236.15 L308.89,236.16 L309.03,236.05 L309.17,236.11 L309.31,236.14 L309.45,236.12 L309.59,236.12 L309.73,236.05 L309.87,236.13 L310.01,236.13 L310.15,236.09 L310.29,236.09 L310.43,236.05 L310.57,236.06 L310.71,236.12 L310.85,236.14 L310.99,236.06 L311.13,236.04 L311.27,236.16 L311.41,236.07 L311.55,236.06 L311.69,236.08 L311.84,236.13 L311.98,236.06 L312.12,236.07 L312.26,236.14 L312.40,236.08 L312.54,236.13 L312.68,236.16 L312.82,236.12 L312.96,236.12 L313.10,236.11 L313.24,236.08 L313.38,236.06 L313.52,236.04 L313.66,236.04 L313.80,236.04 L313.94,236.07 L314.08,236.12 L314.22,236.14 L314.36,236.09 L314.50,236.09 L314.64,236.08 L314.78,236.15 L314.92,236.14 L315.06,236.05 L315.20,236.09 L315.35,236.08 L315.49,236.15 L315.63,236.11 L315.77,236.05 L315.91,236.08 L316.05,236.04 L316.19,236.14 L316.33,236.11 L316.47,236.06 L316.61,236.11 L316.75,236.07 L316.89,236.09 L317.03,236.15 L317.17,236.15 L317.31,236.04 L317.45,236.15 L317.59,236.14 L317.73,236.12 L317.87,236.07 L318.01,236.06 L318.15,236.10 L318.29,236.10 L318.43,236.07 L318.57,236.13 L318.71,236.12 L318.86,236.09 L319.00,236.08 L319.14,236.16 L319.28,236.15 L319.42,236.14 L319.56,236.07 L319.70,236.08 L319.84,236.04 L319.98,236.07 L320.12,236.13 L320.26,236.07 L320.40,236.04 L320.54,236.12 L320.68,236.16 L320.82,236.11 L320.96,236.13 L321.10,236.14 L321.24,236.15 L321.38,236.15 L321.52,236.06 L321.66,236.15 L321.80,236.09 L321.94,236.14 L322.08,236.14 L322.22,236.06 L322.37,236.12 L322.51,236.14 L322.65,236.11 L322.79,236.08 L322.93,236.10 L323.07,236.06 L323.21,236.11 L323.35,236.10 L323.49,236.07 L323.63,236.10 L323.77,236.07 L323.91,236.10 L324.05,236.14 L324.19,236.15 L324.33,236.07 L324.47,236.07 L324.61,236.05 L324.75,236.08 L324.89,236.09 L325.03,236.14 L325.17,236.06 L325.31,236.15 L325.45,236.11 L325.59,236.14 L325.73,236.11 L325.88,236.12 L326.02,236.11 L326.16,236.07 L326.30,236.10 L326.44,236.13 L326.58,236.07 L326.72,236.07 L326.86,236.06 L327.00,236.16 L327.14,236.09 L327.28,236.05 L327.42,236.13 L327.56,236.14 L327.70,236.06 L327.84,236.12 L327.98,236.11 L328.12,236.06 L328.26,236.11 L328.40,236.14 L328.54,236.13 L328.68,236.12 L328.82,236.08 L328.96,236.12 L329.10,236.07 L329.24,236.15 L329.39,236.13 L329.53,236.09 L329.67,236.10 L329.81,236.10 L329.95,236.05 L330.09,236.13 L330.23,236.14 L330.37,236.16 L330.51,236.10 L330.65,236.12 L330.79,236.10 L330.93,236.16 L331.07,236.16 L331.21,236.11 L331.35,236.07 L331.49,236.12 L331.63,236.05 L331.77,236.09 L331.91,236.11 L332.05,236.07 L332.19,236.13 L332.33,236.08 L332.47,236.03 L332.61,235.93 L332.75,235.48 L332.90,234.19 L333.04,231.38 L333.18,227.34 L333.32,223.32 L333.46,221.59 L333.60,223.25 L333.74,227.28 L333.88,231.39 L334.02,234.09 L334.16,235.49 L334.30,235.95 L334.44,236.05 L334.58,236.09 L334.72,236.13 L334.86,236.11 L335.00,236.06 L335.14,236.13 L335.28,236.08 L335.42,236.15 L335.56,236.05 L335.70,236.08 L335.84,236.12 L335.98,236.04 L336.12,236.06 L336.26,236.15 L336.41,236.13 L336.55,236.10 L336.69,236.04 L336.83,236.14 L336.97,236.15 L337.11,236.12 L337.25,236.15 L337.39,236.11 L337.53,236.10 L337.67,236.11 L337.81,236.14 L337.95,236.16 L338.09,236.06 L338.23,236.11 L338.37,236.10 L338.51,236.10 L338.65,236.08 L338.79,236.05 L338.93,236.06 L339.07,236.07 L339.21,236.12 L339.35,236.14 L339.49,236.15 L339.63,236.06 L339.77,236.15 L339.92,236.09 L340.06,236.05 L340.20,236.12 L340.34,236.11 L340.48,236.11 L340.62,236.05 L340.76,236.08 L340.90,236.06 L341.04,236.16 L341.18,236.07 L341.32,236.11 L341.46,236.11 L341.60,236.06 L341.74,236.07 L341.88,236.05 L342.02,236.07 L342.16,236.05 L342.30,236.11 L342.44,236.09 L342.58,236.07 L342.72,236.11 L342.86,236.14 L343.00,236.09 L343.14,236.06 L343.28,236.06 L343.43,236.14 L343.57,236.11 L343.71,236.13 L343.85,236.12 L343.99,236.04 L344.13,236.11 L344.27,236.12 L344.41,236.13 L344.55,236.11 L344.69,236.08 L344.83,236.12 L344.97,236.14 L345.11,236.13 L345.25,236.13 L345.39,236.05 L345.53,236.14 L345.67,236.07 L345.81,236.15 L345.95,236.07 L346.09,236.13 L346.23,236.07 L346.37,236.11 L346.51,236.15 L346.65,236.15 L346.79,236.06 L346.94,236.09 L347.08,236.10 L347.22,236.12 L347.36,236.08 L347.50,236.10 L347.64,236.15 L347.78,236.09 L347.92,236.12 L348.06,236.06 L348.20,236.09 L348.34,236.06 L348.48,236.14 L348.62,236.07 L348.76,236.08 L348.90,236.05 L349.04,236.05 L349.18,236.09 L349.32,236.08 L349.46,236.06 L349.60,236.12 L349.74,236.08 L349.88,236.05 L350.02,236.07 L350.16,236.07 L350.30,236.03 L350.45,236.01 L350.59,236.09 L350.73,236.10 L350.87,236.02 L351.01,236.03 L351.15,235.85 L351.29,235.76 L351.43,235.52 L351.57,235.19 L351.71,234.88 L351.85,234.73 L351.99,234.60 L352.13,234.70 L352.27,234.88 L352.41,235.21 L352.55,235.39 L352.69,235.65 L352.83,235.77 L352.97,235.77 L353.11,235.80 L353.25,235.85 L353.39,235.80 L353.53,235.72 L353.67,235.67 L353.81,235.50 L353.96,235.13 L354.10,234.79 L354.24,234.18 L354.38,233.55 L354.52,232.97 L354.66,232.55 L354.80,232.31 L354.94,232.44 L355.08,232.91 L355.22,233.35 L355.36,233.95 L355.50,234.48 L355.64,234.86 L355.78,235.10 L355.92,235.14 L356.06,235.19 L356.20,235.26 L356.34,235.26 L356.48,235.25 L356.62,235.17 L356.76,235.11 L356.90,235.03 L357.04,234.81 L357.18,234.46 L357.32,234.12 L357.47,233.51 L357.61,232.82 L357.75,232.15 L357.89,231.50 L358.03,231.02 L358.17,230.80 L358.31,230.78 L358.45,231.13 L358.59,231.62 L358.73,232.11 L358.87,232.60 L359.01,232.89 L359.15,232.94 L359.29,232.96 L359.43,232.83 L359.57,232.79 L359.71,232.71 L359.85,232.67 L359.99,232.74 L360.13,233.01 L360.27,233.26 L360.41,233.60 L360.55,233.88 L360.69,234.18 L360.83,234.54 L360.98,234.87 L361.12,235.05 L361.26,235.24 L361.40,235.46 L361.54,235.47 L361.68,235.59 L361.82,235.67 L361.96,235.74 L362.10,235.80 L362.24,235.80 L362.38,235.83 L362.52,235.87 L362.66,235.85 L362.80,235.86 L362.94,235.85 L363.08,235.86 L363.22,235.94 L363.36,235.92 L363.50,235.98 L363.64,235.99 L363.78,235.98 L363.92,235.94 L364.06,236.07 L364.20,236.02 L364.34,236.05 L364.49,236.00 L364.63,235.99 L364.77,236.05 L364.91,236.11 L365.05,236.05 L365.19,236.06 L365.33,236.05 L365.47,236.04 L365.61,236.08 L365.75,236.07 L365.89,236.05 L366.03,236.14 L366.17,236.12 L366.31,236.07 L366.45,236.03 L366.59,236.04 L366.73,236.12 L366.87,236.04 L367.01,236.12 L367.15,236.10 L367.29,236.14 L367.43,236.08 L367.57,236.11 L367.71,236.08 L367.85,236.04 L368.00,236.14 L368.14,236.08 L368.28,236.09 L368.42,236.13 L368.56,236.16 L368.70,236.05 L368.84,236.08 L368.98,236.08 L369.12,236.15 L369.26,236.05 L369.40,236.11 L369.54,236.10 L369.68,236.09 L369.82,236.11 L369.96,236.05 L370.10,236.10 L370.24,236.08 L370.38,236.07 L370.52,236.05 L370.66,236.14 L370.80,236.12 L370.94,236.05 L371.08,236.09 L371.22,236.12 L371.36,236.05 L371.51,236.15 L371.65,236.13 L371.79,236.15 L371.93,236.08 L372.07,236.10 L372.21,236.12 L372.35,236.11 L372.49,236.13 L372.63,236.07 L372.77,236.07 L372.91,236.11 L373.05,236.06 L373.19,236.15 L373.33,236.09 L373.47,236.14 L373.61,236.15 L373.75,236.09 L373.89,236.15 L374.03,236.15 L374.17,236.14 L374.31,236.11 L374.45,236.06 L374.59,236.13 L374.73,236.15 L374.87,236.07 L375.02,236.06 L375.16,236.04 L375.30,236.15 L375.44,236.14 L375.58,236.11 L375.72,236.04 L375.86,236.10 L376.00,236.05 L376.14,236.13 L376.28,236.10 L376.42,236.08 L376.56,236.13 L376.70,236.10" fill="none" stroke="#505050" stroke-width="1.1" stroke-linejoin="round" stroke-linecap="round" />
<circle cx="335.9" cy="157.8" r="0.9" fill="#111"/>
<rect x="306.50" y="133.60" width="70.20" height="106.60" fill="none" stroke="#111" stroke-width="1.1" />
<line x1="306.50" y1="240.20" x2="306.50" y2="242.20" stroke="#111" stroke-width="0.6" />
<text x="306.50" y="249.90" font-size="6.3" text-anchor="middle" fill="#222" stroke="#222" stroke-width="0.1" >0</text>
<line x1="320.54" y1="240.20" x2="320.54" y2="242.20" stroke="#111" stroke-width="0.6" />
<text x="320.54" y="249.90" font-size="6.3" text-anchor="middle" fill="#222" stroke="#222" stroke-width="0.1" >5</text>
<line x1="334.58" y1="240.20" x2="334.58" y2="242.20" stroke="#111" stroke-width="0.6" />
<text x="334.58" y="249.90" font-size="6.3" text-anchor="middle" fill="#222" stroke="#222" stroke-width="0.1" >10</text>
<line x1="348.62" y1="240.20" x2="348.62" y2="242.20" stroke="#111" stroke-width="0.6" />
<text x="348.62" y="249.90" font-size="6.3" text-anchor="middle" fill="#222" stroke="#222" stroke-width="0.1" >15</text>
<line x1="362.66" y1="240.20" x2="362.66" y2="242.20" stroke="#111" stroke-width="0.6" />
<text x="362.66" y="249.90" font-size="6.3" text-anchor="middle" fill="#222" stroke="#222" stroke-width="0.1" >20</text>
<line x1="376.70" y1="240.20" x2="376.70" y2="242.20" stroke="#111" stroke-width="0.6" />
<text x="376.70" y="249.90" font-size="6.3" text-anchor="middle" fill="#222" stroke="#222" stroke-width="0.1" >25</text>
<line x1="313.52" y1="240.20" x2="313.52" y2="241.40" stroke="#111" stroke-width="0.5" />
<line x1="327.56" y1="240.20" x2="327.56" y2="241.40" stroke="#111" stroke-width="0.5" />
<line x1="341.60" y1="240.20" x2="341.60" y2="241.40" stroke="#111" stroke-width="0.5" />
<line x1="355.64" y1="240.20" x2="355.64" y2="241.40" stroke="#111" stroke-width="0.5" />
<line x1="369.68" y1="240.20" x2="369.68" y2="241.40" stroke="#111" stroke-width="0.5" />
<text x="340.40" y="256.60" font-size="6.3" text-anchor="middle" fill="#222" stroke="#222" stroke-width="0.1" >Time (min)</text>
<text x="304.50" y="186.50" font-size="6.4" text-anchor="middle" fill="#222" stroke="#222" stroke-width="0.1" transform="rotate(-90 304.50 186.50)" >Normalized absorption at 245 nm</text>
<text x="335.00" y="129.60" font-size="5.4" text-anchor="middle" fill="#222" stroke="#222" stroke-width="0.1" >Liquid Chromatography</text>
<text x="360.40" y="148.00" font-size="5.5" text-anchor="middle" fill="#111" stroke="#111" stroke-width="0.1" >pure solvent</text>
<text x="359.40" y="165.90" font-size="5.5" text-anchor="middle" fill="#4a1408" stroke="#4a1408" stroke-width="0.1" >light - 0.5 h</text>
<text x="356.40" y="181.80" font-size="5.5" text-anchor="middle" fill="#6e260e" stroke="#6e260e" stroke-width="0.1" >light - 2 h</text>
<text x="356.40" y="198.20" font-size="5.5" text-anchor="middle" fill="#8c3a16" stroke="#8c3a16" stroke-width="0.1" >light - 5 h</text>
<text x="356.40" y="214.30" font-size="5.5" text-anchor="middle" fill="#a85426" stroke="#a85426" stroke-width="0.1" >light - 10 h</text>
<text x="357.40" y="229.00" font-size="5.4" text-anchor="middle" fill="#707070" stroke="#707070" stroke-width="0.1" >no light - 10 h</text>
<path d="M313.60,142.40 L316.11,143.85 L316.11,146.75 L313.60,148.20 L311.09,146.75 L311.09,143.85 L313.60,142.40" fill="none" stroke="#5f9a62" stroke-width="0.75" stroke-linejoin="round" stroke-linecap="round" />
<line x1="313.60" y1="142.40" x2="313.60" y2="139.40" stroke="#5f9a62" stroke-width="0.75" />
<line x1="313.60" y1="139.40" x2="310.40" y2="137.20" stroke="#5f9a62" stroke-width="0.75" />
<line x1="313.60" y1="139.40" x2="316.80" y2="137.20" stroke="#5f9a62" stroke-width="0.75" />
<line x1="313.00" y1="151.20" x2="317.00" y2="151.20" stroke="#5f9a62" stroke-width="0.5" opacity="0.7"/>
<path d="M322.40,142.40 L324.91,143.85 L324.91,146.75 L322.40,148.20 L319.89,146.75 L319.89,143.85 L322.40,142.40" fill="none" stroke="#9070b8" stroke-width="0.75" stroke-linejoin="round" stroke-linecap="round" />
<line x1="322.40" y1="142.40" x2="322.40" y2="139.40" stroke="#9070b8" stroke-width="0.75" />
<path d="M322.40,139.40 C322.53,139.13 322.67,138.23 323.20,137.80 C323.73,137.37 325.20,136.97 325.60,136.80" fill="none" stroke="#9070b8" stroke-width="0.75" stroke-linejoin="round" stroke-linecap="round" />
<line x1="321.80" y1="151.20" x2="325.80" y2="151.20" stroke="#9070b8" stroke-width="0.5" opacity="0.7"/>
<path d="M333.10,142.40 L335.61,143.85 L335.61,146.75 L333.10,148.20 L330.59,146.75 L330.59,143.85 L333.10,142.40" fill="none" stroke="#4f94a4" stroke-width="0.75" stroke-linejoin="round" stroke-linecap="round" />
<line x1="333.10" y1="142.40" x2="333.10" y2="139.40" stroke="#4f94a4" stroke-width="0.75" />
<line x1="333.10" y1="139.40" x2="329.90" y2="137.20" stroke="#4f94a4" stroke-width="0.75" />
<line x1="333.10" y1="139.40" x2="336.30" y2="137.20" stroke="#4f94a4" stroke-width="0.75" />
<line x1="332.50" y1="151.20" x2="336.50" y2="151.20" stroke="#4f94a4" stroke-width="0.5" opacity="0.7"/>
<text x="297.60" y="136.40" font-size="7" text-anchor="middle" fill="#111" stroke="#111" stroke-width="0.1" font-weight="bold" font-family='"Liberation Serif", serif' >(g)</text>
<path d="M387.70,154.41 L388.20,154.33 L388.70,154.25 L389.20,154.17 L389.70,154.09 L390.20,154.00 L390.70,153.92 L391.20,153.83 L391.70,153.74 L392.20,153.65 L392.70,153.56 L393.20,153.47 L393.70,153.38 L394.20,153.28 L394.70,153.19 L395.20,153.09 L395.70,152.99 L396.20,152.89 L396.70,152.79 L397.20,152.69 L397.70,152.58 L398.20,152.46 L398.70,152.34 L399.20,152.22 L399.70,152.09 L400.20,151.94 L400.70,151.78 L401.20,151.61 L401.70,151.42 L402.20,151.21 L402.70,150.98 L403.20,150.71 L403.70,150.42 L404.20,150.09 L404.70,149.73 L405.20,149.33 L405.70,148.89 L406.20,148.42 L406.70,147.90 L407.20,147.35 L407.70,146.77 L408.20,146.16 L408.70,145.54 L409.20,144.90 L409.70,144.26 L410.20,143.64 L410.70,143.03 L411.20,142.45 L411.70,141.92 L412.20,141.45 L412.70,141.04 L413.20,140.71 L413.70,140.47 L414.20,140.32 L414.70,140.27 L415.20,140.32 L415.70,140.47 L416.20,140.73 L416.70,141.07 L417.20,141.51 L417.70,142.03 L418.20,142.62 L418.70,143.27 L419.20,143.97 L419.70,144.71 L420.20,145.47 L420.70,146.24 L421.20,147.01 L421.70,147.78 L422.20,148.52 L422.70,149.23 L423.20,149.91 L423.70,150.55 L424.20,151.14 L424.70,151.69 L425.20,152.18 L425.70,152.63 L426.20,153.03 L426.70,153.39 L427.20,153.70 L427.70,153.97 L428.20,154.20 L428.70,154.40 L429.20,154.57 L429.70,154.71 L430.20,154.83 L430.70,154.93 L431.20,155.00 L431.70,155.07 L432.20,155.12 L432.70,155.16 L433.20,155.19 L433.70,155.22 L434.20,155.24 L434.70,155.25 L435.20,155.27 L435.70,155.27 L436.20,155.28 L436.70,155.29 L437.20,155.29 L437.70,155.29 L438.20,155.30 L438.70,155.30 L439.20,155.30 L439.70,155.30 L440.20,155.30 L440.70,155.30 L441.20,155.30 L441.70,155.30 L442.20,155.30 L442.70,155.30 L443.20,155.30 L443.70,155.30 L444.20,155.30 L444.70,155.30 L445.20,155.30 L445.70,155.30 L446.20,155.30 L446.70,155.30 L447.20,155.30 L447.70,155.30 L448.20,155.30 L448.70,155.30 L449.20,155.30 L449.70,155.30 L450.20,155.30 L450.70,155.30 L451.20,155.30 L451.70,155.30 L452.20,155.30 L452.70,155.30 L453.20,155.30 L453.70,155.30 L454.20,155.30 L454.70,155.30 L455.20,155.30 L455.70,155.30 L456.20,155.30 L456.70,155.30 L457.20,155.30" fill="none" stroke="#111" stroke-width="1.3" stroke-linejoin="round" stroke-linecap="round" />
<path d="M387.70,173.20 L388.20,173.17 L388.70,173.14 L389.20,173.11 L389.70,173.07 L390.20,173.04 L390.70,173.00 L391.20,172.95 L391.70,172.90 L392.20,172.85 L392.70,172.80 L393.20,172.75 L393.70,172.69 L394.20,172.63 L394.70,172.57 L395.20,172.50 L395.70,172.44 L396.20,172.37 L396.70,172.30 L397.20,172.23 L397.70,172.16 L398.20,172.09 L398.70,172.02 L399.20,171.94 L399.70,171.87 L400.20,171.80 L400.70,171.73 L401.20,171.65 L401.70,171.58 L402.20,171.50 L402.70,171.42 L403.20,171.34 L403.70,171.26 L404.20,171.17 L404.70,171.07 L405.20,170.97 L405.70,170.86 L406.20,170.74 L406.70,170.62 L407.20,170.48 L407.70,170.32 L408.20,170.16 L408.70,169.98 L409.20,169.78 L409.70,169.56 L410.20,169.33 L410.70,169.08 L411.20,168.80 L411.70,168.51 L412.20,168.20 L412.70,167.88 L413.20,167.53 L413.70,167.17 L414.20,166.80 L414.70,166.41 L415.20,166.01 L415.70,165.60 L416.20,165.20 L416.70,164.78 L417.20,164.38 L417.70,163.97 L418.20,163.58 L418.70,163.20 L419.20,162.84 L419.70,162.50 L420.20,162.19 L420.70,161.90 L421.20,161.64 L421.70,161.42 L422.20,161.24 L422.70,161.10 L423.20,161.00 L423.70,160.95 L424.20,160.93 L424.70,160.97 L425.20,161.04 L425.70,161.17 L426.20,161.33 L426.70,161.53 L427.20,161.78 L427.70,162.06 L428.20,162.37 L428.70,162.72 L429.20,163.09 L429.70,163.49 L430.20,163.90 L430.70,164.34 L431.20,164.78 L431.70,165.23 L432.20,165.69 L432.70,166.15 L433.20,166.61 L433.70,167.06 L434.20,167.50 L434.70,167.94 L435.20,168.36 L435.70,168.76 L436.20,169.15 L436.70,169.52 L437.20,169.87 L437.70,170.20 L438.20,170.51 L438.70,170.80 L439.20,171.07 L439.70,171.32 L440.20,171.55 L440.70,171.76 L441.20,171.95 L441.70,172.13 L442.20,172.29 L442.70,172.43 L443.20,172.55 L443.70,172.67 L444.20,172.77 L444.70,172.86 L445.20,172.93 L445.70,173.00 L446.20,173.06 L446.70,173.11 L447.20,173.16 L447.70,173.20 L448.20,173.23 L448.70,173.26 L449.20,173.28 L449.70,173.30 L450.20,173.32 L450.70,173.33 L451.20,173.35 L451.70,173.36 L452.20,173.36 L452.70,173.37 L453.20,173.38 L453.70,173.38 L454.20,173.38 L454.70,173.39 L455.20,173.39 L455.70,173.39 L456.20,173.39 L456.70,173.40 L457.20,173.40" fill="none" stroke="#3c2418" stroke-width="1.1" stroke-linejoin="round" stroke-linecap="round" />
<path d="M387.70,188.13 L388.20,188.12 L388.70,188.10 L389.20,188.09 L389.70,188.07 L390.20,188.06 L390.70,188.04 L391.20,188.02 L391.70,188.00 L392.20,187.97 L392.70,187.95 L393.20,187.92 L393.70,187.89 L394.20,187.86 L394.70,187.82 L395.20,187.79 L395.70,187.75 L396.20,187.71 L396.70,187.67 L397.20,187.63 L397.70,187.58 L398.20,187.54 L398.70,187.49 L399.20,187.44 L399.70,187.40 L400.20,187.34 L400.70,187.29 L401.20,187.24 L401.70,187.18 L402.20,187.12 L402.70,187.06 L403.20,187.00 L403.70,186.93 L404.20,186.86 L404.70,186.79 L405.20,186.71 L405.70,186.62 L406.20,186.53 L406.70,186.42 L407.20,186.31 L407.70,186.19 L408.20,186.05 L408.70,185.90 L409.20,185.74 L409.70,185.56 L410.20,185.36 L410.70,185.15 L411.20,184.91 L411.70,184.66 L412.20,184.39 L412.70,184.09 L413.20,183.78 L413.70,183.44 L414.20,183.08 L414.70,182.71 L415.20,182.32 L415.70,181.91 L416.20,181.48 L416.70,181.04 L417.20,180.60 L417.70,180.14 L418.20,179.69 L418.70,179.23 L419.20,178.77 L419.70,178.33 L420.20,177.89 L420.70,177.47 L421.20,177.07 L421.70,176.70 L422.20,176.35 L422.70,176.04 L423.20,175.76 L423.70,175.51 L424.20,175.31 L424.70,175.15 L425.20,175.04 L425.70,174.98 L426.20,174.96 L426.70,174.99 L427.20,175.07 L427.70,175.19 L428.20,175.37 L428.70,175.58 L429.20,175.84 L429.70,176.14 L430.20,176.47 L430.70,176.84 L431.20,177.23 L431.70,177.65 L432.20,178.10 L432.70,178.56 L433.20,179.03 L433.70,179.51 L434.20,180.00 L434.70,180.48 L435.20,180.97 L435.70,181.45 L436.20,181.92 L436.70,182.38 L437.20,182.83 L437.70,183.26 L438.20,183.68 L438.70,184.07 L439.20,184.44 L439.70,184.80 L440.20,185.13 L440.70,185.44 L441.20,185.72 L441.70,185.99 L442.20,186.23 L442.70,186.46 L443.20,186.66 L443.70,186.85 L444.20,187.01 L444.70,187.16 L445.20,187.30 L445.70,187.42 L446.20,187.53 L446.70,187.62 L447.20,187.70 L447.70,187.78 L448.20,187.84 L448.70,187.89 L449.20,187.94 L449.70,187.98 L450.20,188.02 L450.70,188.05 L451.20,188.07 L451.70,188.10 L452.20,188.11 L452.70,188.13 L453.20,188.14 L453.70,188.15 L454.20,188.16 L454.70,188.17 L455.20,188.17 L455.70,188.18 L456.20,188.18 L456.70,188.19 L457.20,188.19" fill="none" stroke="#683a1e" stroke-width="1.1" stroke-linejoin="round" stroke-linecap="round" />
<path d="M387.70,203.27 L388.20,203.26 L388.70,203.26 L389.20,203.25 L389.70,203.24 L390.20,203.23 L390.70,203.22 L391.20,203.21 L391.70,203.20 L392.20,203.19 L392.70,203.17 L393.20,203.15 L393.70,203.14 L394.20,203.12 L394.70,203.10 L395.20,203.07 L395.70,203.05 L396.20,203.02 L396.70,203.00 L397.20,202.97 L397.70,202.94 L398.20,202.91 L398.70,202.87 L399.20,202.84 L399.70,202.80 L400.20,202.76 L400.70,202.72 L401.20,202.68 L401.70,202.64 L402.20,202.60 L402.70,202.55 L403.20,202.51 L403.70,202.46 L404.20,202.40 L404.70,202.35 L405.20,202.29 L405.70,202.23 L406.20,202.16 L406.70,202.09 L407.20,202.01 L407.70,201.92 L408.20,201.83 L408.70,201.72 L409.20,201.61 L409.70,201.48 L410.20,201.34 L410.70,201.19 L411.20,201.02 L411.70,200.84 L412.20,200.64 L412.70,200.42 L413.20,200.18 L413.70,199.92 L414.20,199.63 L414.70,199.33 L415.20,199.01 L415.70,198.67 L416.20,198.30 L416.70,197.92 L417.20,197.52 L417.70,197.10 L418.20,196.67 L418.70,196.23 L419.20,195.77 L419.70,195.31 L420.20,194.85 L420.70,194.39 L421.20,193.93 L421.70,193.47 L422.20,193.03 L422.70,192.61 L423.20,192.21 L423.70,191.83 L424.20,191.48 L424.70,191.16 L425.20,190.88 L425.70,190.63 L426.20,190.43 L426.70,190.27 L427.20,190.15 L427.70,190.09 L428.20,190.07 L428.70,190.10 L429.20,190.17 L429.70,190.30 L430.20,190.47 L430.70,190.69 L431.20,190.94 L431.70,191.24 L432.20,191.57 L432.70,191.94 L433.20,192.33 L433.70,192.75 L434.20,193.20 L434.70,193.66 L435.20,194.13 L435.70,194.61 L436.20,195.10 L436.70,195.59 L437.20,196.07 L437.70,196.55 L438.20,197.02 L438.70,197.48 L439.20,197.93 L439.70,198.36 L440.20,198.78 L440.70,199.17 L441.20,199.54 L441.70,199.90 L442.20,200.23 L442.70,200.54 L443.20,200.82 L443.70,201.09 L444.20,201.33 L444.70,201.56 L445.20,201.76 L445.70,201.95 L446.20,202.11 L446.70,202.26 L447.20,202.40 L447.70,202.52 L448.20,202.63 L448.70,202.72 L449.20,202.80 L449.70,202.88 L450.20,202.94 L450.70,202.99 L451.20,203.04 L451.70,203.08 L452.20,203.12 L452.70,203.15 L453.20,203.17 L453.70,203.20 L454.20,203.21 L454.70,203.23 L455.20,203.24 L455.70,203.25 L456.20,203.26 L456.70,203.27 L457.20,203.27" fill="none" stroke="#874a24" stroke-width="1.1" stroke-linejoin="round" stroke-linecap="round" />
<path d="M387.70,218.08 L388.20,218.07 L388.70,218.07 L389.20,218.06 L389.70,218.06 L390.20,218.05 L390.70,218.04 L391.20,218.03 L391.70,218.02 L392.20,218.01 L392.70,218.00 L393.20,217.99 L393.70,217.98 L394.20,217.96 L394.70,217.95 L395.20,217.93 L395.70,217.91 L396.20,217.89 L396.70,217.87 L397.20,217.85 L397.70,217.83 L398.20,217.80 L398.70,217.78 L399.20,217.75 L399.70,217.72 L400.20,217.69 L400.70,217.66 L401.20,217.63 L401.70,217.60 L402.20,217.56 L402.70,217.53 L403.20,217.49 L403.70,217.45 L404.20,217.40 L404.70,217.36 L405.20,217.31 L405.70,217.25 L406.20,217.20 L406.70,217.13 L407.20,217.07 L407.70,216.99 L408.20,216.91 L408.70,216.82 L409.20,216.71 L409.70,216.60 L410.20,216.48 L410.70,216.34 L411.20,216.19 L411.70,216.02 L412.20,215.84 L412.70,215.63 L413.20,215.41 L413.70,215.17 L414.20,214.91 L414.70,214.63 L415.20,214.33 L415.70,214.01 L416.20,213.67 L416.70,213.31 L417.20,212.92 L417.70,212.52 L418.20,212.11 L418.70,211.67 L419.20,211.23 L419.70,210.77 L420.20,210.31 L420.70,209.84 L421.20,209.37 L421.70,208.90 L422.20,208.44 L422.70,207.98 L423.20,207.54 L423.70,207.12 L424.20,206.71 L424.70,206.34 L425.20,205.99 L425.70,205.67 L426.20,205.39 L426.70,205.15 L427.20,204.94 L427.70,204.78 L428.20,204.67 L428.70,204.60 L429.20,204.58 L429.70,204.61 L430.20,204.68 L430.70,204.80 L431.20,204.97 L431.70,205.18 L432.20,205.43 L432.70,205.72 L433.20,206.04 L433.70,206.40 L434.20,206.79 L434.70,207.20 L435.20,207.64 L435.70,208.09 L436.20,208.56 L436.70,209.04 L437.20,209.52 L437.70,210.01 L438.20,210.50 L438.70,210.98 L439.20,211.45 L439.70,211.92 L440.20,212.37 L440.70,212.81 L441.20,213.23 L441.70,213.64 L442.20,214.02 L442.70,214.39 L443.20,214.73 L443.70,215.06 L444.20,215.36 L444.70,215.64 L445.20,215.90 L445.70,216.14 L446.20,216.36 L446.70,216.56 L447.20,216.74 L447.70,216.91 L448.20,217.05 L448.70,217.19 L449.20,217.31 L449.70,217.41 L450.20,217.51 L450.70,217.59 L451.20,217.66 L451.70,217.73 L452.20,217.78 L452.70,217.83 L453.20,217.87 L453.70,217.91 L454.20,217.94 L454.70,217.97 L455.20,217.99 L455.70,218.01 L456.20,218.02 L456.70,218.04 L457.20,218.05" fill="none" stroke="#9e5a2c" stroke-width="1.1" stroke-linejoin="round" stroke-linecap="round" />
<path d="M387.70,236.60 L388.20,236.60 L388.70,236.60 L389.20,236.60 L389.70,236.60 L390.20,236.60 L390.70,236.60 L391.20,236.60 L391.70,236.60 L392.20,236.60 L392.70,236.59 L393.20,236.59 L393.70,236.59 L394.20,236.58 L394.70,236.58 L395.20,236.57 L395.70,236.56 L396.20,236.54 L396.70,236.52 L397.20,236.49 L397.70,236.46 L398.20,236.42 L398.70,236.36 L399.20,236.29 L399.70,236.20 L400.20,236.09 L400.70,235.96 L401.20,235.79 L401.70,235.59 L402.20,235.36 L402.70,235.08 L403.20,234.75 L403.70,234.37 L404.20,233.93 L404.70,233.43 L405.20,232.86 L405.70,232.24 L406.20,231.54 L406.70,230.79 L407.20,229.97 L407.70,229.10 L408.20,228.18 L408.70,227.22 L409.20,226.24 L409.70,225.24 L410.20,224.25 L410.70,223.28 L411.20,222.34 L411.70,221.46 L412.20,220.66 L412.70,219.95 L413.20,219.34 L413.70,218.85 L414.20,218.49 L414.70,218.27 L415.20,218.20 L415.70,218.27 L416.20,218.49 L416.70,218.85 L417.20,219.34 L417.70,219.95 L418.20,220.66 L418.70,221.46 L419.20,222.34 L419.70,223.28 L420.20,224.25 L420.70,225.24 L421.20,226.24 L421.70,227.22 L422.20,228.18 L422.70,229.10 L423.20,229.97 L423.70,230.79 L424.20,231.54 L424.70,232.24 L425.20,232.86 L425.70,233.43 L426.20,233.93 L426.70,234.37 L427.20,234.75 L427.70,235.08 L428.20,235.36 L428.70,235.59 L429.20,235.79 L429.70,235.96 L430.20,236.09 L430.70,236.20 L431.20,236.29 L431.70,236.36 L432.20,236.42 L432.70,236.46 L433.20,236.49 L433.70,236.52 L434.20,236.54 L434.70,236.56 L435.20,236.57 L435.70,236.58 L436.20,236.58 L436.70,236.59 L437.20,236.59 L437.70,236.59 L438.20,236.60 L438.70,236.60 L439.20,236.60 L439.70,236.60 L440.20,236.60 L440.70,236.60 L441.20,236.60 L441.70,236.60 L442.20,236.60 L442.70,236.60 L443.20,236.60 L443.70,236.60 L444.20,236.60 L444.70,236.60 L445.20,236.60 L445.70,236.60 L446.20,236.60 L446.70,236.60 L447.20,236.60 L447.70,236.60 L448.20,236.60 L448.70,236.60 L449.20,236.60 L449.70,236.60 L450.20,236.60 L450.70,236.60 L451.20,236.60 L451.70,236.60 L452.20,236.60 L452.70,236.60 L453.20,236.60 L453.70,236.60 L454.20,236.60 L454.70,236.60 L455.20,236.60 L455.70,236.60 L456.20,236.60 L456.70,236.60 L457.20,236.60" fill="none" stroke="#6a6a6a" stroke-width="1.0" stroke-linejoin="round" stroke-linecap="round" />
<rect x="387.70" y="133.60" width="69.90" height="106.40" fill="none" stroke="#111" stroke-width="1.1" />
<line x1="403.10" y1="240.00" x2="403.10" y2="242.00" stroke="#111" stroke-width="0.6" />
<text x="403.10" y="249.9" font-size="6.3" text-anchor="middle" fill="#222">10<tspan font-size="4" dy="-2.6">4</tspan></text>
<line x1="421.80" y1="240.00" x2="421.80" y2="242.00" stroke="#111" stroke-width="0.6" />
<text x="421.80" y="249.9" font-size="6.3" text-anchor="middle" fill="#222">10<tspan font-size="4" dy="-2.6">5</tspan></text>
<line x1="440.40" y1="240.00" x2="440.40" y2="242.00" stroke="#111" stroke-width="0.6" />
<text x="440.40" y="249.9" font-size="6.3" text-anchor="middle" fill="#222">10<tspan font-size="4" dy="-2.6">6</tspan></text>
<line x1="390.06" y1="240.00" x2="390.06" y2="241.10" stroke="#111" stroke-width="0.4" />
<line x1="393.35" y1="240.00" x2="393.35" y2="241.10" stroke="#111" stroke-width="0.4" />
<line x1="395.68" y1="240.00" x2="395.68" y2="241.10" stroke="#111" stroke-width="0.4" />
<line x1="397.49" y1="240.00" x2="397.49" y2="241.10" stroke="#111" stroke-width="0.4" />
<line x1="398.96" y1="240.00" x2="398.96" y2="241.10" stroke="#111" stroke-width="0.4" />
<line x1="400.21" y1="240.00" x2="400.21" y2="241.10" stroke="#111" stroke-width="0.4" />
<line x1="401.29" y1="240.00" x2="401.29" y2="241.10" stroke="#111" stroke-width="0.4" />
<line x1="402.25" y1="240.00" x2="402.25" y2="241.10" stroke="#111" stroke-width="0.4" />
<line x1="408.71" y1="240.00" x2="408.71" y2="241.10" stroke="#111" stroke-width="0.4" />
<line x1="412.00" y1="240.00" x2="412.00" y2="241.10" stroke="#111" stroke-width="0.4" />
<line x1="414.33" y1="240.00" x2="414.33" y2="241.10" stroke="#111" stroke-width="0.4" />
<line x1="416.14" y1="240.00" x2="416.14" y2="241.10" stroke="#111" stroke-width="0.4" />
<line x1="417.61" y1="240.00" x2="417.61" y2="241.10" stroke="#111" stroke-width="0.4" />
<line x1="418.86" y1="240.00" x2="418.86" y2="241.10" stroke="#111" stroke-width="0.4" />
<line x1="419.94" y1="240.00" x2="419.94" y2="241.10" stroke="#111" stroke-width="0.4" />
<line x1="420.90" y1="240.00" x2="420.90" y2="241.10" stroke="#111" stroke-width="0.4" />
<line x1="427.36" y1="240.00" x2="427.36" y2="241.10" stroke="#111" stroke-width="0.4" />
<line x1="430.65" y1="240.00" x2="430.65" y2="241.10" stroke="#111" stroke-width="0.4" />
<line x1="432.98" y1="240.00" x2="432.98" y2="241.10" stroke="#111" stroke-width="0.4" />
<line x1="434.79" y1="240.00" x2="434.79" y2="241.10" stroke="#111" stroke-width="0.4" />
<line x1="436.26" y1="240.00" x2="436.26" y2="241.10" stroke="#111" stroke-width="0.4" />
<line x1="437.51" y1="240.00" x2="437.51" y2="241.10" stroke="#111" stroke-width="0.4" />
<line x1="438.59" y1="240.00" x2="438.59" y2="241.10" stroke="#111" stroke-width="0.4" />
<line x1="439.55" y1="240.00" x2="439.55" y2="241.10" stroke="#111" stroke-width="0.4" />
<line x1="446.01" y1="240.00" x2="446.01" y2="241.10" stroke="#111" stroke-width="0.4" />
<line x1="449.30" y1="240.00" x2="449.30" y2="241.10" stroke="#111" stroke-width="0.4" />
<line x1="451.63" y1="240.00" x2="451.63" y2="241.10" stroke="#111" stroke-width="0.4" />
<line x1="453.44" y1="240.00" x2="453.44" y2="241.10" stroke="#111" stroke-width="0.4" />
<line x1="454.91" y1="240.00" x2="454.91" y2="241.10" stroke="#111" stroke-width="0.4" />
<line x1="456.16" y1="240.00" x2="456.16" y2="241.10" stroke="#111" stroke-width="0.4" />
<line x1="457.24" y1="240.00" x2="457.24" y2="241.10" stroke="#111" stroke-width="0.4" />
<text x="423.4" y="256.8" font-size="6.3" text-anchor="middle" fill="#222" font-style="italic">M<tspan font-size="4" dy="1.4" font-style="normal">w</tspan></text>
<text x="385.70" y="186.00" font-size="6.2" text-anchor="middle" fill="#222" stroke="#222" stroke-width="0.1" transform="rotate(-90 385.70 186.00)" >d<tspan font-style="italic">w</tspan>/dlog<tspan font-style="italic">M</tspan></text>
<text x="427.80" y="129.30" font-size="5.4" text-anchor="middle" fill="#222" stroke="#222" stroke-width="0.1" >Gel Permeation Chromatography</text>
<text x="440.60" y="148.30" font-size="5.4" text-anchor="middle" fill="#222" stroke="#222" stroke-width="0.1" >PS-standard</text>
<text x="439.40" y="226.60" font-size="5.2" text-anchor="middle" fill="#777" stroke="#777" stroke-width="0.1" >no light - 10 h</text>
<text x="444.80" y="233.00" font-size="5.2" text-anchor="middle" fill="#777" stroke="#777" stroke-width="0.1" >PS-D</text>
<text x="381.80" y="137.00" font-size="7" text-anchor="middle" fill="#111" stroke="#111" stroke-width="0.1" font-weight="bold" font-family='"Liberation Serif", serif' >(h)</text>
<line x1="486.80" y1="152.60" x2="486.80" y2="240.00" stroke="#8c8c8c" stroke-width="0.6" />
<line x1="512.00" y1="152.60" x2="512.00" y2="240.00" stroke="#8c8c8c" stroke-width="0.6" />
<line x1="529.30" y1="152.60" x2="529.30" y2="240.00" stroke="#8c8c8c" stroke-width="0.6" />
<path d="M468.60,159.28 L472.00,158.93 L475.00,159.12 L478.00,158.64 L481.00,158.86 L484.00,158.24 L487.00,158.37 L490.20,157.44 L492.50,157.21 L494.50,157.71 L496.60,158.40 L498.20,163.18 L499.50,160.23 L501.20,158.73 L503.00,159.70 L504.60,158.57 L506.60,158.17 L508.60,158.04" fill="none" stroke="#0a0a0a" stroke-width="1.25" stroke-linejoin="round" stroke-linecap="round" />
<path d="M508.60,156.22 L510.50,156.04 L512.00,156.28 L514.00,154.96 L516.00,154.51 L518.00,153.81 L520.30,153.27 L522.50,153.59 L524.50,153.38 L526.80,153.84 L528.80,154.28 L531.00,153.73 L533.00,154.12 L534.60,154.81 L536.00,157.79 L537.20,155.90 L538.50,154.23" fill="none" stroke="#0a0a0a" stroke-width="1.25" stroke-linejoin="round" stroke-linecap="round" />
<path d="M468.60,174.14 L469.00,174.16 L469.40,174.17 L469.80,174.20 L470.20,174.17 L470.60,174.20 L471.00,174.04 L471.40,174.12 L471.80,174.21 L472.20,174.15 L472.60,174.20 L473.00,174.06 L473.40,174.12 L473.80,174.08 L474.20,174.14 L474.60,174.14 L475.00,174.04 L475.40,174.08 L475.80,174.09 L476.20,174.21 L476.60,174.18 L477.00,174.08 L477.40,174.19 L477.80,174.08 L478.20,174.16 L478.60,174.08 L479.00,174.06 L479.40,174.22 L479.80,174.10 L480.20,174.11 L480.60,174.25 L481.00,174.23 L481.40,174.13 L481.80,174.26 L482.20,174.19 L482.60,174.23 L483.00,174.16 L483.40,174.31 L483.80,174.28 L484.20,174.37 L484.60,174.40 L485.00,174.36 L485.40,174.47 L485.80,174.61 L486.20,174.84 L486.60,175.06 L487.00,175.11 L487.40,174.94 L487.80,174.60 L488.20,174.57 L488.60,174.42 L489.00,174.36 L489.40,174.43 L489.80,174.36 L490.20,174.34 L490.60,174.39 L491.00,174.47 L491.40,174.42 L491.80,174.67 L492.20,174.61 L492.60,174.85 L493.00,174.92 L493.40,174.74 L493.80,174.79 L494.20,174.63 L494.60,174.62 L495.00,174.50 L495.40,174.52 L495.80,174.60 L496.20,174.86 L496.60,174.92 L497.00,175.37 L497.40,175.99 L497.80,176.82 L498.20,177.20 L498.60,176.71 L499.00,175.91 L499.40,175.37 L499.80,174.90 L500.20,174.81 L500.60,174.71 L501.00,174.66 L501.40,174.51 L501.80,174.73 L502.20,174.73 L502.60,175.10 L503.00,175.39 L503.40,175.17 L503.80,174.73 L504.20,174.64 L504.60,174.48 L505.00,174.38 L505.40,174.36 L505.80,174.32 L506.20,174.30 L506.60,174.31 L507.00,174.42 L507.40,174.50 L507.80,174.37 L508.20,174.39 L508.60,174.61" fill="none" stroke="#40241a" stroke-width="1.15" stroke-linejoin="round" stroke-linecap="round" />
<path d="M508.60,174.53 L509.00,174.58 L509.40,174.65 L509.80,174.87 L510.20,175.15 L510.60,175.45 L511.00,176.03 L511.40,176.82 L511.80,177.79 L512.20,177.64 L512.60,176.91 L513.00,176.13 L513.40,175.43 L513.80,175.17 L514.20,174.99 L514.60,174.79 L515.00,174.72 L515.40,174.54 L515.80,174.56 L516.20,174.48 L516.60,174.59 L517.00,174.49 L517.40,174.52 L517.80,174.63 L518.20,174.61 L518.60,174.66 L519.00,174.60 L519.40,174.65 L519.80,174.75 L520.20,174.77 L520.60,174.83 L521.00,174.97 L521.40,175.05 L521.80,175.20 L522.20,175.37 L522.60,175.36 L523.00,175.28 L523.40,175.25 L523.80,175.26 L524.20,175.28 L524.60,175.41 L525.00,175.63 L525.40,175.82 L525.80,175.93 L526.20,176.26 L526.60,176.56 L527.00,176.89 L527.40,177.26 L527.80,177.69 L528.20,178.01 L528.60,178.41 L529.00,178.55 L529.40,178.64 L529.80,178.57 L530.20,178.30 L530.60,177.88 L531.00,177.62 L531.40,177.20 L531.80,176.86 L532.20,176.49 L532.60,176.38 L533.00,176.20 L533.40,176.22 L533.80,176.23 L534.20,176.46 L534.60,176.74 L535.00,177.17 L535.40,177.39 L535.80,177.37 L536.20,176.92 L536.60,176.37 L537.00,175.36 L537.40,174.66 L537.80,173.96 L538.20,173.30" fill="none" stroke="#40241a" stroke-width="1.15" stroke-linejoin="round" stroke-linecap="round" />
<path d="M468.60,188.09 L469.00,188.06 L469.40,188.15 L469.80,188.05 L470.20,188.13 L470.60,188.10 L471.00,188.05 L471.40,188.13 L471.80,188.05 L472.20,188.12 L472.60,188.05 L473.00,188.06 L473.40,188.12 L473.80,188.19 L474.20,188.07 L474.60,188.09 L475.00,188.16 L475.40,188.22 L475.80,188.15 L476.20,188.12 L476.60,188.23 L477.00,188.06 L477.40,188.21 L477.80,188.11 L478.20,188.09 L478.60,188.09 L479.00,188.12 L479.40,188.22 L479.80,188.11 L480.20,188.19 L480.60,188.20 L481.00,188.16 L481.40,188.20 L481.80,188.12 L482.20,188.13 L482.60,188.17 L483.00,188.28 L483.40,188.26 L483.80,188.27 L484.20,188.36 L484.60,188.41 L485.00,188.48 L485.40,188.72 L485.80,188.95 L486.20,189.23 L486.60,189.63 L487.00,189.63 L487.40,189.36 L487.80,188.99 L488.20,188.68 L488.60,188.66 L489.00,188.42 L489.40,188.43 L489.80,188.47 L490.20,188.35 L490.60,188.43 L491.00,188.38 L491.40,188.55 L491.80,188.65 L492.20,188.73 L492.60,188.89 L493.00,188.84 L493.40,188.88 L493.80,188.77 L494.20,188.69 L494.60,188.61 L495.00,188.66 L495.40,188.70 L495.80,188.67 L496.20,188.82 L496.60,188.91 L497.00,189.37 L497.40,189.95 L497.80,190.84 L498.20,191.30 L498.60,190.71 L499.00,189.90 L499.40,189.36 L499.80,188.90 L500.20,188.77 L500.60,188.61 L501.00,188.54 L501.40,188.53 L501.80,188.71 L502.20,188.76 L502.60,189.10 L503.00,189.37 L503.40,189.19 L503.80,188.71 L504.20,188.58 L504.60,188.51 L505.00,188.52 L505.40,188.48 L505.80,188.48 L506.20,188.38 L506.60,188.41 L507.00,188.42 L507.40,188.54 L507.80,188.60 L508.20,188.50 L508.60,188.58" fill="none" stroke="#60341c" stroke-width="1.15" stroke-linejoin="round" stroke-linecap="round" />
<path d="M508.60,188.59 L509.00,188.69 L509.40,188.88 L509.80,189.12 L510.20,189.38 L510.60,189.85 L511.00,190.74 L511.40,191.91 L511.80,193.08 L512.20,193.15 L512.60,191.98 L513.00,190.78 L513.40,189.99 L513.80,189.50 L514.20,189.08 L514.60,189.03 L515.00,188.87 L515.40,188.80 L515.80,188.72 L516.20,188.61 L516.60,188.59 L517.00,188.52 L517.40,188.61 L517.80,188.51 L518.20,188.52 L518.60,188.57 L519.00,188.59 L519.40,188.67 L519.80,188.67 L520.20,188.74 L520.60,188.86 L521.00,188.97 L521.40,189.15 L521.80,189.20 L522.20,189.41 L522.60,189.36 L523.00,189.25 L523.40,189.27 L523.80,189.32 L524.20,189.39 L524.60,189.45 L525.00,189.72 L525.40,189.92 L525.80,190.04 L526.20,190.31 L526.60,190.54 L527.00,190.91 L527.40,191.35 L527.80,191.76 L528.20,192.28 L528.60,192.51 L529.00,192.71 L529.40,192.93 L529.80,192.73 L530.20,192.39 L530.60,192.09 L531.00,191.60 L531.40,191.31 L531.80,191.05 L532.20,190.74 L532.60,190.50 L533.00,190.28 L533.40,190.24 L533.80,190.24 L534.20,190.51 L534.60,190.76 L535.00,191.21 L535.40,191.43 L535.80,191.33 L536.20,190.97 L536.60,190.43 L537.00,189.48 L537.40,188.67 L537.80,187.98 L538.20,187.33" fill="none" stroke="#60341c" stroke-width="1.15" stroke-linejoin="round" stroke-linecap="round" />
<path d="M468.60,201.32 L469.00,201.34 L469.40,201.41 L469.80,201.33 L470.20,201.34 L470.60,201.35 L471.00,201.28 L471.40,201.34 L471.80,201.36 L472.20,201.39 L472.60,201.27 L473.00,201.31 L473.40,201.27 L473.80,201.40 L474.20,201.38 L474.60,201.27 L475.00,201.44 L475.40,201.44 L475.80,201.38 L476.20,201.38 L476.60,201.30 L477.00,201.28 L477.40,201.37 L477.80,201.29 L478.20,201.32 L478.60,201.34 L479.00,201.30 L479.40,201.39 L479.80,201.39 L480.20,201.47 L480.60,201.42 L481.00,201.46 L481.40,201.45 L481.80,201.49 L482.20,201.48 L482.60,201.47 L483.00,201.64 L483.40,201.69 L483.80,201.72 L484.20,201.79 L484.60,201.85 L485.00,202.03 L485.40,202.35 L485.80,202.80 L486.20,203.64 L486.60,204.26 L487.00,204.34 L487.40,203.59 L487.80,203.00 L488.20,202.50 L488.60,202.06 L489.00,201.92 L489.40,201.94 L489.80,201.80 L490.20,201.86 L490.60,201.76 L491.00,201.72 L491.40,201.88 L491.80,202.00 L492.20,202.03 L492.60,202.12 L493.00,202.23 L493.40,202.30 L493.80,202.15 L494.20,201.94 L494.60,201.89 L495.00,201.84 L495.40,201.85 L495.80,202.05 L496.20,202.08 L496.60,202.38 L497.00,202.78 L497.40,203.44 L497.80,204.53 L498.20,205.01 L498.60,204.51 L499.00,203.42 L499.40,202.77 L499.80,202.31 L500.20,202.08 L500.60,202.07 L501.00,201.97 L501.40,201.87 L501.80,202.05 L502.20,202.12 L502.60,202.53 L503.00,202.91 L503.40,202.55 L503.80,202.04 L504.20,201.98 L504.60,201.72 L505.00,201.67 L505.40,201.73 L505.80,201.64 L506.20,201.64 L506.60,201.61 L507.00,201.64 L507.40,201.76 L507.80,201.74 L508.20,201.87 L508.60,201.92" fill="none" stroke="#7a3e18" stroke-width="1.2" stroke-linejoin="round" stroke-linecap="round" />
<path d="M508.60,202.53 L509.00,202.74 L509.40,202.83 L509.80,203.10 L510.20,203.55 L510.60,204.04 L511.00,205.01 L511.40,206.56 L511.80,207.91 L512.20,207.81 L512.60,206.45 L513.00,205.14 L513.40,204.21 L513.80,203.47 L514.20,203.23 L514.60,202.97 L515.00,202.76 L515.40,202.62 L515.80,202.49 L516.20,202.43 L516.60,202.56 L517.00,202.41 L517.40,202.49 L517.80,202.41 L518.20,202.52 L518.60,202.50 L519.00,202.48 L519.40,202.50 L519.80,202.66 L520.20,202.62 L520.60,202.76 L521.00,202.95 L521.40,203.14 L521.80,203.22 L522.20,203.22 L522.60,203.33 L523.00,203.18 L523.40,203.14 L523.80,203.22 L524.20,203.33 L524.60,203.37 L525.00,203.54 L525.40,203.76 L525.80,204.04 L526.20,204.24 L526.60,204.62 L527.00,205.11 L527.40,205.56 L527.80,205.96 L528.20,206.42 L528.60,206.78 L529.00,206.94 L529.40,206.99 L529.80,206.85 L530.20,206.71 L530.60,206.28 L531.00,205.90 L531.40,205.31 L531.80,205.06 L532.20,204.72 L532.60,204.54 L533.00,204.32 L533.40,204.39 L533.80,204.27 L534.20,204.55 L534.60,204.94 L535.00,205.44 L535.40,205.77 L535.80,205.67 L536.20,205.15 L536.60,204.52 L537.00,203.43 L537.40,202.63 L537.80,201.94 L538.20,201.28" fill="none" stroke="#7a3e18" stroke-width="1.2" stroke-linejoin="round" stroke-linecap="round" />
<path d="M468.60,215.51 L469.00,215.59 L469.40,215.59 L469.80,215.62 L470.20,215.50 L470.60,215.51 L471.00,215.50 L471.40,215.52 L471.80,215.61 L472.20,215.50 L472.60,215.58 L473.00,215.52 L473.40,215.54 L473.80,215.57 L474.20,215.64 L474.60,215.60 L475.00,215.50 L475.40,215.55 L475.80,215.53 L476.20,215.67 L476.60,215.66 L477.00,215.66 L477.40,215.67 L477.80,215.66 L478.20,215.71 L478.60,215.69 L479.00,215.60 L479.40,215.72 L479.80,215.66 L480.20,215.72 L480.60,215.71 L481.00,215.70 L481.40,215.71 L481.80,215.75 L482.20,215.77 L482.60,215.77 L483.00,215.96 L483.40,216.03 L483.80,216.17 L484.20,216.26 L484.60,216.44 L485.00,216.80 L485.40,217.19 L485.80,218.09 L486.20,219.20 L486.60,220.27 L487.00,220.28 L487.40,219.24 L487.80,218.04 L488.20,217.29 L488.60,216.83 L489.00,216.49 L489.40,216.25 L489.80,216.19 L490.20,216.07 L490.60,216.04 L491.00,216.02 L491.40,216.07 L491.80,216.07 L492.20,216.25 L492.60,216.38 L493.00,216.32 L493.40,216.34 L493.80,216.30 L494.20,216.06 L494.60,216.02 L495.00,216.12 L495.40,216.14 L495.80,216.16 L496.20,216.17 L496.60,216.39 L497.00,216.77 L497.40,217.28 L497.80,217.98 L498.20,218.31 L498.60,218.00 L499.00,217.20 L499.40,216.75 L499.80,216.35 L500.20,216.33 L500.60,216.17 L501.00,216.15 L501.40,216.06 L501.80,216.19 L502.20,216.33 L502.60,216.61 L503.00,216.79 L503.40,216.64 L503.80,216.28 L504.20,216.12 L504.60,216.03 L505.00,216.10 L505.40,216.00 L505.80,216.03 L506.20,216.03 L506.60,216.18 L507.00,216.22 L507.40,216.29 L507.80,216.30 L508.20,216.49 L508.60,216.64" fill="none" stroke="#84441a" stroke-width="1.25" stroke-linejoin="round" stroke-linecap="round" />
<path d="M508.60,216.00 L509.00,216.21 L509.40,216.72 L509.80,217.03 L510.20,217.79 L510.60,218.91 L511.00,220.77 L511.40,223.28 L511.80,225.85 L512.20,225.85 L512.60,223.46 L513.00,220.74 L513.40,219.04 L513.80,217.97 L514.20,217.36 L514.60,216.84 L515.00,216.55 L515.40,216.39 L515.80,216.20 L516.20,216.07 L516.60,216.10 L517.00,216.16 L517.40,216.13 L517.80,216.06 L518.20,216.18 L518.60,216.27 L519.00,216.25 L519.40,216.42 L519.80,216.53 L520.20,216.70 L520.60,216.97 L521.00,217.27 L521.40,217.65 L521.80,217.88 L522.20,218.09 L522.60,218.03 L523.00,218.10 L523.40,218.07 L523.80,218.04 L524.20,218.36 L524.60,218.52 L525.00,218.93 L525.40,219.41 L525.80,219.93 L526.20,220.61 L526.60,221.45 L527.00,222.33 L527.40,223.51 L527.80,224.48 L528.20,225.69 L528.60,226.49 L529.00,227.10 L529.40,227.26 L529.80,226.87 L530.20,226.18 L530.60,225.27 L531.00,224.25 L531.40,223.33 L531.80,222.47 L532.20,221.56 L532.60,221.10 L533.00,220.66 L533.40,220.64 L533.80,220.67 L534.20,221.21 L534.60,221.97 L535.00,222.98 L535.40,223.78 L535.80,223.61 L536.20,222.47 L536.60,220.81 L537.00,219.13 L537.40,217.71 L537.80,216.57 L538.20,215.71" fill="none" stroke="#84441a" stroke-width="1.25" stroke-linejoin="round" stroke-linecap="round" />
<path d="M468.60,232.82 L469.00,232.87 L469.40,232.90 L469.80,232.78 L470.20,232.86 L470.60,232.85 L471.00,232.84 L471.40,232.74 L471.80,232.73 L472.20,232.79 L472.60,232.86 L473.00,232.77 L473.40,232.82 L473.80,232.78 L474.20,232.88 L474.60,232.90 L475.00,232.80 L475.40,232.91 L475.80,232.74 L476.20,232.88 L476.60,232.89 L477.00,232.76 L477.40,232.86 L477.80,232.84 L478.20,232.91 L478.60,232.78 L479.00,232.84 L479.40,232.90 L479.80,232.86 L480.20,232.80 L480.60,232.77 L481.00,232.93 L481.40,232.85 L481.80,232.95 L482.20,232.80 L482.60,232.93 L483.00,232.94 L483.40,232.97 L483.80,232.83 L484.20,232.92 L484.60,232.90 L485.00,233.09 L485.40,233.11 L485.80,233.37 L486.20,233.48 L486.60,233.75 L487.00,233.77 L487.40,233.46 L487.80,233.31 L488.20,233.24 L488.60,233.08 L489.00,233.00 L489.40,232.95 L489.80,233.03 L490.20,232.92 L490.60,233.00 L491.00,233.01 L491.40,233.04 L491.80,233.01 L492.20,233.16 L492.60,233.26 L493.00,233.18 L493.40,233.17 L493.80,233.22 L494.20,233.12 L494.60,233.04 L495.00,232.98 L495.40,233.12 L495.80,233.08 L496.20,233.16 L496.60,233.23 L497.00,233.48 L497.40,233.81 L497.80,234.18 L498.20,234.40 L498.60,234.30 L499.00,233.85 L499.40,233.37 L499.80,233.28 L500.20,233.20 L500.60,233.09 L501.00,233.12 L501.40,233.16 L501.80,233.12 L502.20,233.17 L502.60,233.31 L503.00,233.45 L503.40,233.29 L503.80,233.10 L504.20,233.02 L504.60,233.08 L505.00,233.00 L505.40,233.04 L505.80,233.06 L506.20,233.04 L506.60,232.92 L507.00,233.09 L507.40,232.96 L507.80,233.11 L508.20,233.16 L508.60,233.18" fill="none" stroke="#686868" stroke-width="0.95" stroke-linejoin="round" stroke-linecap="round" />
<path d="M508.60,232.23 L509.00,232.25 L509.40,232.35 L509.80,232.60 L510.20,232.77 L510.60,233.19 L511.00,233.72 L511.40,234.55 L511.80,235.39 L512.20,235.47 L512.60,234.62 L513.00,233.76 L513.40,233.19 L513.80,232.84 L514.20,232.60 L514.60,232.44 L515.00,232.44 L515.40,232.33 L515.80,232.19 L516.20,232.17 L516.60,232.12 L517.00,232.14 L517.40,232.07 L517.80,232.19 L518.20,232.16 L518.60,232.14 L519.00,232.23 L519.40,232.14 L519.80,232.21 L520.20,232.30 L520.60,232.27 L521.00,232.33 L521.40,232.34 L521.80,232.50 L522.20,232.47 L522.60,232.39 L523.00,232.39 L523.40,232.43 L523.80,232.43 L524.20,232.46 L524.60,232.44 L525.00,232.56 L525.40,232.66 L525.80,232.76 L526.20,232.81 L526.60,232.94 L527.00,233.10 L527.40,233.27 L527.80,233.43 L528.20,233.52 L528.60,233.71 L529.00,233.93 L529.40,233.92 L529.80,233.81 L530.20,233.74 L530.60,233.49 L531.00,233.34 L531.40,233.22 L531.80,233.11 L532.20,232.88 L532.60,232.86 L533.00,232.88 L533.40,232.80 L533.80,232.88 L534.20,232.77 L534.60,233.03 L535.00,233.17 L535.40,233.13 L535.80,233.19 L536.20,233.05 L536.60,232.73 L537.00,232.18 L537.40,231.64 L537.80,231.09 L538.20,230.51" fill="none" stroke="#686868" stroke-width="0.95" stroke-linejoin="round" stroke-linecap="round" />
<rect x="468.60" y="133.60" width="69.90" height="106.40" fill="none" stroke="#111" stroke-width="1.1" />
<line x1="506.90" y1="131.20" x2="510.30" y2="136.00" stroke="#111" stroke-width="1.5" />
<line x1="506.90" y1="237.60" x2="510.30" y2="242.40" stroke="#111" stroke-width="1.5" />
<line x1="478.70" y1="240.00" x2="478.70" y2="242.00" stroke="#111" stroke-width="0.6" />
<text x="478.70" y="249.90" font-size="6.3" text-anchor="middle" fill="#222" stroke="#222" stroke-width="0.1" >1800</text>
<line x1="498.20" y1="240.00" x2="498.20" y2="242.00" stroke="#111" stroke-width="0.6" />
<text x="498.20" y="249.90" font-size="6.3" text-anchor="middle" fill="#222" stroke="#222" stroke-width="0.1" >1600</text>
<line x1="519.00" y1="240.00" x2="519.00" y2="242.00" stroke="#111" stroke-width="0.6" />
<text x="519.00" y="249.90" font-size="6.3" text-anchor="middle" fill="#222" stroke="#222" stroke-width="0.1" >1200</text>
<line x1="538.30" y1="240.00" x2="538.30" y2="242.00" stroke="#111" stroke-width="0.6" />
<text x="538.30" y="249.90" font-size="6.3" text-anchor="middle" fill="#222" stroke="#222" stroke-width="0.1" >1000</text>
<line x1="488.20" y1="240.00" x2="488.20" y2="241.20" stroke="#111" stroke-width="0.5" />
<line x1="528.40" y1="240.00" x2="528.40" y2="241.20" stroke="#111" stroke-width="0.5" />
<text x="502.6" y="256.6" font-size="6.3" text-anchor="middle" fill="#222" stroke="#222" stroke-width="0.08">Wave number (cm<tspan font-size="4" dy="-2.4">-1</tspan><tspan dy="2.4">)</tspan></text>
<text x="467.70" y="178.00" font-size="6.45" text-anchor="middle" fill="#222" stroke="#222" stroke-width="0.1" transform="rotate(-90 467.70 178.00)" >Normalized transmission</text>
<text x="490.90" y="130.00" font-size="5.4" text-anchor="middle" fill="#222" stroke="#222" stroke-width="0.1" >IR Spectra</text>
<text x="487.00" y="151.60" font-size="3.6" text-anchor="middle" fill="#333" stroke="#333" stroke-width="0.12" >1720</text>
<text x="512.00" y="151.60" font-size="3.6" text-anchor="middle" fill="#333" stroke="#333" stroke-width="0.12" >1262</text>
<text x="529.40" y="151.60" font-size="3.6" text-anchor="middle" fill="#333" stroke="#333" stroke-width="0.12" >1098</text>
<line x1="484.40" y1="137.40" x2="484.40" y2="141.60" stroke="#7a5650" stroke-width="0.7" />
<line x1="484.40" y1="141.60" x2="481.00" y2="144.20" stroke="#7a5650" stroke-width="0.7" />
<line x1="484.40" y1="141.60" x2="487.80" y2="144.20" stroke="#7a5650" stroke-width="0.7" />
<circle cx="484.4" cy="137.2" r="0.55" fill="#7a5650"/>
<circle cx="480.8" cy="144.4" r="0.55" fill="#7a5650"/>
<circle cx="488.0" cy="144.4" r="0.55" fill="#7a5650"/>
<path d="M515.70,141.30 L514.25,143.81 L511.35,143.81 L509.90,141.30 L511.35,138.79 L514.25,138.79 L515.70,141.30" fill="none" stroke="#4a4a4a" stroke-width="0.9" stroke-linejoin="round" stroke-linecap="round" />
<line x1="509.90" y1="141.30" x2="505.20" y2="141.30" stroke="#4a4a4a" stroke-width="0.7" />
<circle cx="504.8" cy="141.3" r="0.6" fill="#7a5650"/>
<line x1="515.70" y1="141.30" x2="518.00" y2="139.00" stroke="#4a4a4a" stroke-width="0.7" />
<line x1="518.00" y1="139.00" x2="520.00" y2="138.60" stroke="#7a5650" stroke-width="0.7" />
<circle cx="520.2" cy="138.5" r="0.6" fill="#7a5650"/>
<path d="M526.40,143.40 L528.40,141.80 L530.40,142.80 L532.20,140.20 L534.00,139.80" fill="none" stroke="#7a5650" stroke-width="0.7" stroke-linejoin="round" stroke-linecap="round" />
<circle cx="526.2" cy="143.5" r="0.5" fill="#7a5650"/>
<circle cx="534.2" cy="139.7" r="0.5" fill="#7a5650"/>
<text x="464.00" y="136.80" font-size="7" text-anchor="middle" fill="#111" stroke="#111" stroke-width="0.1" font-weight="bold" font-family='"Liberation Serif", serif' >(i)</text>
</svg>
</body></html>
